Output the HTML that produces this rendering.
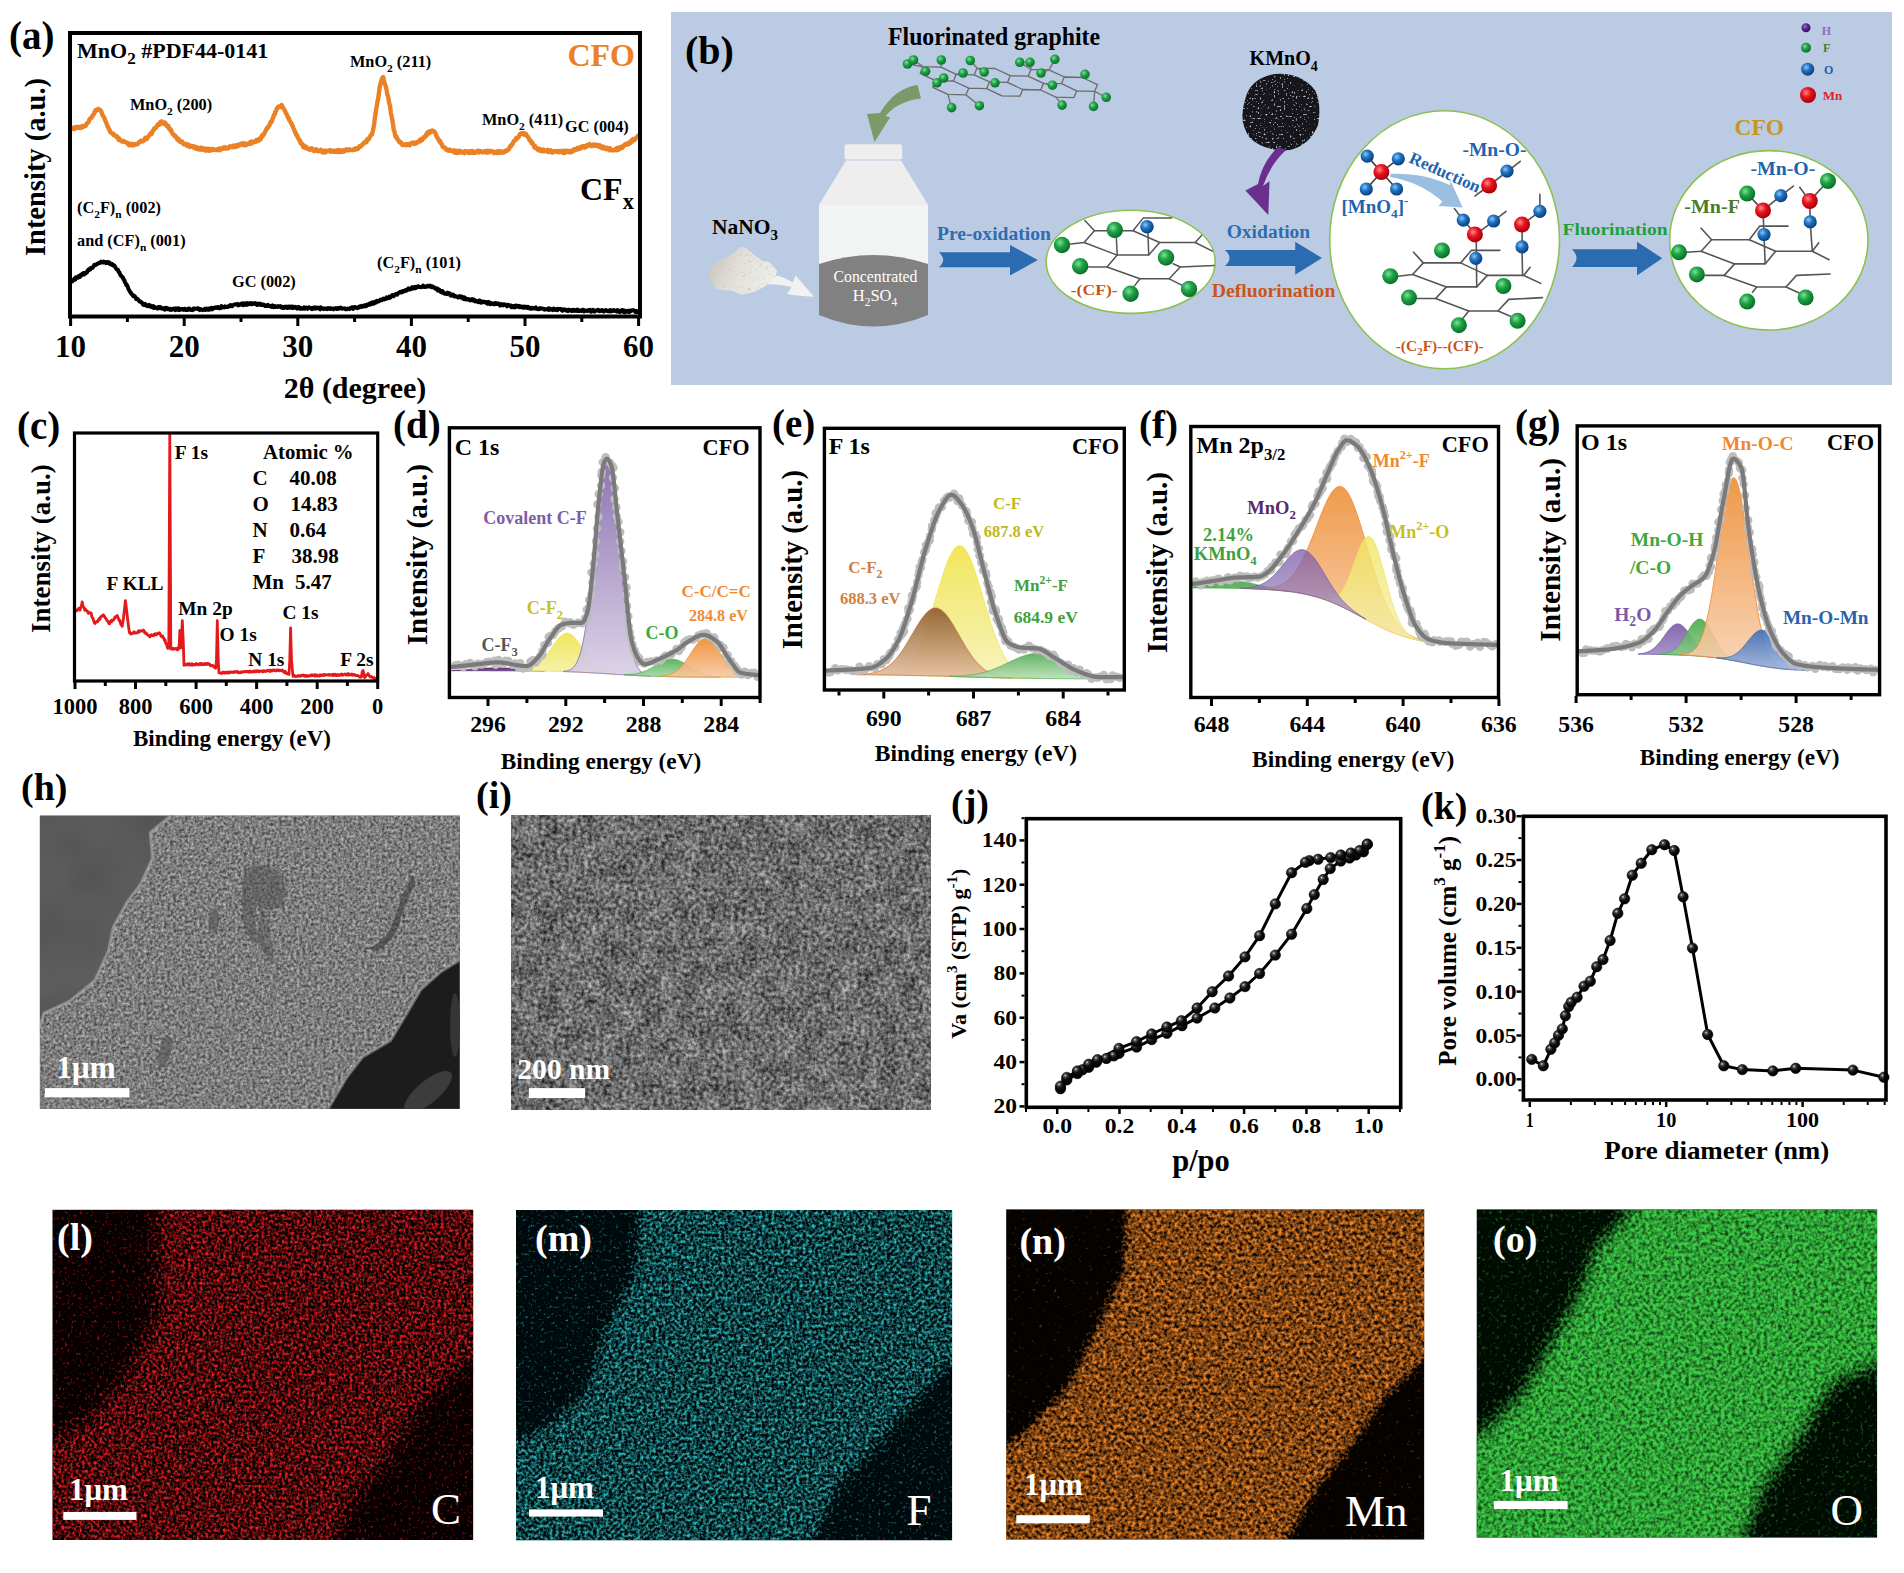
<!DOCTYPE html>
<html><head><meta charset="utf-8"><title>figure</title>
<style>html,body{margin:0;padding:0;background:#fff;width:1904px;height:1573px;overflow:hidden;font-family:"Liberation Serif",serif}svg{display:block}</style>
</head><body><svg width="1904" height="1573" viewBox="0 0 1904 1573"><path d="M71.0,128.6 L71.7,128.9 L72.4,127.8 L73.1,128.3 L73.8,129.1 L74.5,129.1 L75.2,127.2 L75.9,127.3 L76.6,126.9 L77.3,127.7 L78.0,126.7 L78.7,127.6 L79.4,128.0 L80.1,127.0 L80.8,127.9 L81.5,127.5 L82.2,126.1 L82.9,127.2 L83.6,126.3 L84.3,126.3 L85.0,125.5 L85.7,125.8 L86.4,124.4 L87.1,122.9 L87.8,122.8 L88.5,122.3 L89.2,120.1 L89.9,118.7 L90.6,118.0 L91.3,118.1 L92.0,117.1 L92.7,115.3 L93.4,114.8 L94.1,113.6 L94.8,111.6 L95.5,110.2 L96.2,110.9 L96.9,110.1 L97.6,109.3 L98.3,108.8 L99.0,109.4 L99.7,109.9 L100.4,110.2 L101.1,111.2 L101.8,112.8 L102.5,115.2 L103.2,116.1 L103.9,117.0 L104.6,118.7 L105.3,120.9 L106.0,122.1 L106.7,123.8 L107.4,126.2 L108.1,126.7 L108.8,129.0 L109.5,129.9 L110.2,131.7 L110.9,132.5 L111.6,133.0 L112.3,133.7 L113.0,133.5 L113.7,134.9 L114.4,134.7 L115.1,135.9 L115.8,135.9 L116.5,136.8 L117.2,136.5 L117.9,137.5 L118.6,139.8 L119.3,138.5 L120.0,140.2 L120.7,140.5 L121.4,141.2 L122.1,141.1 L122.8,141.8 L123.5,140.9 L124.2,141.3 L124.9,142.0 L125.6,142.2 L126.3,142.3 L127.0,142.7 L127.7,143.9 L128.4,143.3 L129.1,145.3 L129.8,144.7 L130.5,144.5 L131.2,145.0 L131.9,143.9 L132.6,145.5 L133.3,145.2 L134.0,144.9 L134.7,144.1 L135.4,144.8 L136.1,144.3 L136.8,143.9 L137.5,144.2 L138.2,143.2 L138.9,142.3 L139.6,142.3 L140.3,141.1 L141.0,140.7 L141.7,141.6 L142.4,141.3 L143.1,141.3 L143.8,140.6 L144.5,139.4 L145.2,137.9 L145.9,138.4 L146.6,139.0 L147.3,138.2 L148.0,136.9 L148.7,136.2 L149.4,135.0 L150.1,134.1 L150.8,133.0 L151.5,134.1 L152.2,132.6 L152.9,130.4 L153.6,130.1 L154.3,128.3 L155.0,127.8 L155.7,128.1 L156.4,127.0 L157.1,125.8 L157.8,124.5 L158.5,124.8 L159.2,124.9 L159.9,123.1 L160.6,121.8 L161.3,121.5 L162.0,121.4 L162.7,123.5 L163.4,122.7 L164.1,123.7 L164.8,122.5 L165.5,123.2 L166.2,124.9 L166.9,126.1 L167.6,125.6 L168.3,125.8 L169.0,128.7 L169.7,128.3 L170.4,130.4 L171.1,130.0 L171.8,132.3 L172.5,133.7 L173.2,134.4 L173.9,134.5 L174.6,136.3 L175.3,135.8 L176.0,137.0 L176.7,138.0 L177.4,139.7 L178.1,138.5 L178.8,140.7 L179.5,141.0 L180.2,142.0 L180.9,141.0 L181.6,141.1 L182.3,141.7 L183.0,143.5 L183.7,144.3 L184.4,144.1 L185.1,143.9 L185.8,143.9 L186.5,145.5 L187.2,145.9 L187.9,144.4 L188.6,144.9 L189.3,146.6 L190.0,146.9 L190.7,145.8 L191.4,145.9 L192.1,146.5 L192.8,146.9 L193.5,146.0 L194.2,148.0 L194.9,147.5 L195.6,148.2 L196.3,147.1 L197.0,149.0 L197.7,148.7 L198.4,147.8 L199.1,149.5 L199.8,149.0 L200.5,149.5 L201.2,147.7 L201.9,147.9 L202.6,149.6 L203.3,148.7 L204.0,149.3 L204.7,148.6 L205.4,150.6 L206.1,149.6 L206.8,150.5 L207.5,148.7 L208.2,149.7 L208.9,148.8 L209.6,150.8 L210.3,149.8 L211.0,148.9 L211.7,149.0 L212.4,150.1 L213.1,149.0 L213.8,149.2 L214.5,149.8 L215.2,149.9 L215.9,150.1 L216.6,150.1 L217.3,149.4 L218.0,149.9 L218.7,148.7 L219.4,148.9 L220.1,150.1 L220.8,148.4 L221.5,148.4 L222.2,148.4 L222.9,148.8 L223.6,147.5 L224.3,147.4 L225.0,148.3 L225.7,147.4 L226.4,148.5 L227.1,148.6 L227.8,148.0 L228.5,148.1 L229.2,147.2 L229.9,146.2 L230.6,147.0 L231.3,146.6 L232.0,147.0 L232.7,145.7 L233.4,145.8 L234.1,147.1 L234.8,145.6 L235.5,145.8 L236.2,146.9 L236.9,145.2 L237.6,144.7 L238.3,145.9 L239.0,145.5 L239.7,145.4 L240.4,144.0 L241.1,144.7 L241.8,143.6 L242.5,144.1 L243.2,145.0 L243.9,143.3 L244.6,143.8 L245.3,145.3 L246.0,145.1 L246.7,143.8 L247.4,144.2 L248.1,143.8 L248.8,143.3 L249.5,144.0 L250.2,142.2 L250.9,143.6 L251.6,141.5 L252.3,143.2 L253.0,142.6 L253.7,141.8 L254.4,142.1 L255.1,141.3 L255.8,141.8 L256.5,139.9 L257.2,140.6 L257.9,141.1 L258.6,140.9 L259.3,138.8 L260.0,138.3 L260.7,139.2 L261.4,137.0 L262.1,135.4 L262.8,136.0 L263.5,134.3 L264.2,133.9 L264.9,132.1 L265.6,131.0 L266.3,129.6 L267.0,128.0 L267.7,128.2 L268.4,126.5 L269.1,125.5 L269.8,124.6 L270.5,122.0 L271.2,122.4 L271.9,121.0 L272.6,118.7 L273.3,117.3 L274.0,114.6 L274.7,114.6 L275.4,111.7 L276.1,111.1 L276.8,108.7 L277.5,107.4 L278.2,107.6 L278.9,106.5 L279.6,106.4 L280.3,106.4 L281.0,106.9 L281.7,105.1 L282.4,107.0 L283.1,107.7 L283.8,108.9 L284.5,109.9 L285.2,111.3 L285.9,113.4 L286.6,114.0 L287.3,115.8 L288.0,117.8 L288.7,117.9 L289.4,120.3 L290.1,121.1 L290.8,122.6 L291.5,123.6 L292.2,125.3 L292.9,126.6 L293.6,128.6 L294.3,130.1 L295.0,132.1 L295.7,132.7 L296.4,135.1 L297.1,135.3 L297.8,137.6 L298.5,138.5 L299.2,140.0 L299.9,140.4 L300.6,143.2 L301.3,143.9 L302.0,143.5 L302.7,145.3 L303.4,147.2 L304.1,145.6 L304.8,146.7 L305.5,148.1 L306.2,146.7 L306.9,148.6 L307.6,148.4 L308.3,149.0 L309.0,148.8 L309.7,149.9 L310.4,148.7 L311.1,149.4 L311.8,148.4 L312.5,149.7 L313.2,149.6 L313.9,151.1 L314.6,151.1 L315.3,149.4 L316.0,149.3 L316.7,149.6 L317.4,149.9 L318.1,151.3 L318.8,150.9 L319.5,151.0 L320.2,150.9 L320.9,149.9 L321.6,150.9 L322.3,152.4 L323.0,152.0 L323.7,151.5 L324.4,150.6 L325.1,152.4 L325.8,151.2 L326.5,151.7 L327.2,150.7 L327.9,151.0 L328.6,151.0 L329.3,151.1 L330.0,150.2 L330.7,151.7 L331.4,150.5 L332.1,151.6 L332.8,151.6 L333.5,151.7 L334.2,150.7 L334.9,150.7 L335.6,151.8 L336.3,150.9 L337.0,150.3 L337.7,152.0 L338.4,149.9 L339.1,151.9 L339.8,150.4 L340.5,150.6 L341.2,152.0 L341.9,150.6 L342.6,151.2 L343.3,150.4 L344.0,151.6 L344.7,151.1 L345.4,150.4 L346.1,149.4 L346.8,150.0 L347.5,150.2 L348.2,149.7 L348.9,150.2 L349.6,149.3 L350.3,149.9 L351.0,149.9 L351.7,150.1 L352.4,150.2 L353.1,150.0 L353.8,149.1 L354.5,148.9 L355.2,149.7 L355.9,148.2 L356.6,148.8 L357.3,149.2 L358.0,148.7 L358.7,147.4 L359.4,146.4 L360.1,146.8 L360.8,146.5 L361.5,145.6 L362.2,144.7 L362.9,144.4 L363.6,143.0 L364.3,142.9 L365.0,141.9 L365.7,142.4 L366.4,142.4 L367.1,139.8 L367.8,138.7 L368.5,139.6 L369.2,137.8 L369.9,137.2 L370.6,135.2 L371.3,134.5 L372.0,134.4 L372.7,131.5 L373.4,128.5 L374.1,124.4 L374.8,118.3 L375.5,114.2 L376.2,109.3 L376.9,105.5 L377.6,101.1 L378.3,98.0 L379.0,92.5 L379.7,86.9 L380.4,84.2 L381.1,81.7 L381.8,79.3 L382.5,77.7 L383.2,77.0 L383.9,80.3 L384.6,82.8 L385.3,85.1 L386.0,87.5 L386.7,90.7 L387.4,94.9 L388.1,96.5 L388.8,101.2 L389.5,104.1 L390.2,107.0 L390.9,113.1 L391.6,116.3 L392.3,119.9 L393.0,124.2 L393.7,129.6 L394.4,131.2 L395.1,135.2 L395.8,137.1 L396.5,136.5 L397.2,138.3 L397.9,140.2 L398.6,140.4 L399.3,142.1 L400.0,141.7 L400.7,143.0 L401.4,142.7 L402.1,144.7 L402.8,145.1 L403.5,144.8 L404.2,144.5 L404.9,144.6 L405.6,145.2 L406.3,144.1 L407.0,144.9 L407.7,144.3 L408.4,144.3 L409.1,144.2 L409.8,145.3 L410.5,143.5 L411.2,143.5 L411.9,143.1 L412.6,142.5 L413.3,143.3 L414.0,144.0 L414.7,143.9 L415.4,142.7 L416.1,142.3 L416.8,143.1 L417.5,142.0 L418.2,141.7 L418.9,141.7 L419.6,140.0 L420.3,141.4 L421.0,139.1 L421.7,139.6 L422.4,139.9 L423.1,138.3 L423.8,137.1 L424.5,137.3 L425.2,136.9 L425.9,135.5 L426.6,133.5 L427.3,134.8 L428.0,132.1 L428.7,133.1 L429.4,133.1 L430.1,131.0 L430.8,131.6 L431.5,131.8 L432.2,130.5 L432.9,130.9 L433.6,130.9 L434.3,131.7 L435.0,132.4 L435.7,133.8 L436.4,136.0 L437.1,137.0 L437.8,138.4 L438.5,139.4 L439.2,141.1 L439.9,140.8 L440.6,143.0 L441.3,142.9 L442.0,145.1 L442.7,147.0 L443.4,146.9 L444.1,147.1 L444.8,147.6 L445.5,148.2 L446.2,149.7 L446.9,150.1 L447.6,149.8 L448.3,150.7 L449.0,150.4 L449.7,149.5 L450.4,150.1 L451.1,151.0 L451.8,151.2 L452.5,151.3 L453.2,151.0 L453.9,150.4 L454.6,152.5 L455.3,150.8 L456.0,152.8 L456.7,150.8 L457.4,153.0 L458.1,151.6 L458.8,152.7 L459.5,150.8 L460.2,151.9 L460.9,151.4 L461.6,152.5 L462.3,152.4 L463.0,151.9 L463.7,152.5 L464.4,153.1 L465.1,151.0 L465.8,152.2 L466.5,152.4 L467.2,152.3 L467.9,151.4 L468.6,152.9 L469.3,151.4 L470.0,152.8 L470.7,151.9 L471.4,151.1 L472.1,152.8 L472.8,151.0 L473.5,152.7 L474.2,152.2 L474.9,152.9 L475.6,152.7 L476.3,151.8 L477.0,151.1 L477.7,151.4 L478.4,150.8 L479.1,152.4 L479.8,151.0 L480.5,151.2 L481.2,151.4 L481.9,151.8 L482.6,152.4 L483.3,151.9 L484.0,152.0 L484.7,151.0 L485.4,151.6 L486.1,151.3 L486.8,152.6 L487.5,150.8 L488.2,152.3 L488.9,152.5 L489.6,152.0 L490.3,150.9 L491.0,151.4 L491.7,151.4 L492.4,151.4 L493.1,151.4 L493.8,153.1 L494.5,152.7 L495.2,152.9 L495.9,152.5 L496.6,151.6 L497.3,153.1 L498.0,152.0 L498.7,151.2 L499.4,152.6 L500.1,151.4 L500.8,152.8 L501.5,152.6 L502.2,151.5 L502.9,151.9 L503.6,152.5 L504.3,152.3 L505.0,151.7 L505.7,150.6 L506.4,150.5 L507.1,150.8 L507.8,149.6 L508.5,149.5 L509.2,148.7 L509.9,147.0 L510.6,145.6 L511.3,146.0 L512.0,144.3 L512.7,143.9 L513.4,141.8 L514.1,140.9 L514.8,140.6 L515.5,140.3 L516.2,138.0 L516.9,138.7 L517.6,138.1 L518.3,136.9 L519.0,136.4 L519.7,134.6 L520.4,133.7 L521.1,133.8 L521.8,133.0 L522.5,133.5 L523.2,134.2 L523.9,133.1 L524.6,134.8 L525.3,134.2 L526.0,134.0 L526.7,135.9 L527.4,136.2 L528.1,136.8 L528.8,138.2 L529.5,140.3 L530.2,140.8 L530.9,140.7 L531.6,143.3 L532.3,142.6 L533.0,144.2 L533.7,145.1 L534.4,147.5 L535.1,146.0 L535.8,148.3 L536.5,148.6 L537.2,148.3 L537.9,149.8 L538.6,150.4 L539.3,150.5 L540.0,148.9 L540.7,150.8 L541.4,149.8 L542.1,151.1 L542.8,150.5 L543.5,149.5 L544.2,151.2 L544.9,150.8 L545.6,150.6 L546.3,151.2 L547.0,150.8 L547.7,149.9 L548.4,152.1 L549.1,150.7 L549.8,150.7 L550.5,150.2 L551.2,151.9 L551.9,152.4 L552.6,151.4 L553.3,152.3 L554.0,151.2 L554.7,151.4 L555.4,151.2 L556.1,151.3 L556.8,151.9 L557.5,151.4 L558.2,150.8 L558.9,152.3 L559.6,151.5 L560.3,151.7 L561.0,151.2 L561.7,150.9 L562.4,152.4 L563.1,151.8 L563.8,153.0 L564.5,150.8 L565.2,152.8 L565.9,150.8 L566.6,151.1 L567.3,150.7 L568.0,151.8 L568.7,151.3 L569.4,151.0 L570.1,152.4 L570.8,151.3 L571.5,152.0 L572.2,151.7 L572.9,150.1 L573.6,150.7 L574.3,149.3 L575.0,149.5 L575.7,150.0 L576.4,149.5 L577.1,148.1 L577.8,147.8 L578.5,149.2 L579.2,148.8 L579.9,148.4 L580.6,147.1 L581.3,148.2 L582.0,147.5 L582.7,146.2 L583.4,146.0 L584.1,146.9 L584.8,147.5 L585.5,146.4 L586.2,145.5 L586.9,146.3 L587.6,144.9 L588.3,145.8 L589.0,145.2 L589.7,144.1 L590.4,145.2 L591.1,145.2 L591.8,146.1 L592.5,145.6 L593.2,144.7 L593.9,145.5 L594.6,144.6 L595.3,145.7 L596.0,145.7 L596.7,145.9 L597.4,144.9 L598.1,146.4 L598.8,146.2 L599.5,146.9 L600.2,145.4 L600.9,147.3 L601.6,148.0 L602.3,147.4 L603.0,146.5 L603.7,148.6 L604.4,148.0 L605.1,147.5 L605.8,148.6 L606.5,149.3 L607.2,147.7 L607.9,149.0 L608.6,149.3 L609.3,150.2 L610.0,148.2 L610.7,149.5 L611.4,150.1 L612.1,150.0 L612.8,150.5 L613.5,150.1 L614.2,150.0 L614.9,149.9 L615.6,148.8 L616.3,150.3 L617.0,149.3 L617.7,147.9 L618.4,149.6 L619.1,149.1 L619.8,148.7 L620.5,146.9 L621.2,148.2 L621.9,146.9 L622.6,147.7 L623.3,145.7 L624.0,145.7 L624.7,144.7 L625.4,144.1 L626.1,144.4 L626.8,144.8 L627.5,143.7 L628.2,142.9 L628.9,143.9 L629.6,142.9 L630.3,143.0 L631.0,140.9 L631.7,140.2 L632.4,141.5 L633.1,138.9 L633.8,140.1 L634.5,140.1 L635.2,139.1 L635.9,138.3 L636.6,137.3 L637.3,136.8 L638.0,135.8 L638.7,136.2" stroke="#EA8125" stroke-width="4.4" fill="none" stroke-linejoin="round" stroke-linecap="round" /><path d="M71.0,281.9 L71.7,280.7 L72.4,281.2 L73.1,280.3 L73.8,279.8 L74.5,278.5 L75.2,279.6 L75.9,277.3 L76.6,277.4 L77.3,277.4 L78.0,277.7 L78.7,276.1 L79.4,277.1 L80.1,276.9 L80.8,274.9 L81.5,275.4 L82.2,273.8 L82.9,274.1 L83.6,273.0 L84.3,274.4 L85.0,272.9 L85.7,273.5 L86.4,272.6 L87.1,272.2 L87.8,270.3 L88.5,269.5 L89.2,270.0 L89.9,268.6 L90.6,269.1 L91.3,267.9 L92.0,267.6 L92.7,267.8 L93.4,266.5 L94.1,265.1 L94.8,264.7 L95.5,265.0 L96.2,264.5 L96.9,264.3 L97.6,263.4 L98.3,263.5 L99.0,262.7 L99.7,262.9 L100.4,262.9 L101.1,261.6 L101.8,261.8 L102.5,262.0 L103.2,262.4 L103.9,261.5 L104.6,262.2 L105.3,262.4 L106.0,263.1 L106.7,262.2 L107.4,262.9 L108.1,262.2 L108.8,263.0 L109.5,262.6 L110.2,264.3 L110.9,263.6 L111.6,264.7 L112.3,264.2 L113.0,265.5 L113.7,265.1 L114.4,265.6 L115.1,266.8 L115.8,268.2 L116.5,269.2 L117.2,269.7 L117.9,269.7 L118.6,271.8 L119.3,272.2 L120.0,274.2 L120.7,275.6 L121.4,275.9 L122.1,277.1 L122.8,277.2 L123.5,279.4 L124.2,279.9 L124.9,282.2 L125.6,283.0 L126.3,285.2 L127.0,285.1 L127.7,286.6 L128.4,289.0 L129.1,289.9 L129.8,291.2 L130.5,292.8 L131.2,293.0 L131.9,294.5 L132.6,294.7 L133.3,296.2 L134.0,296.4 L134.7,296.1 L135.4,297.2 L136.1,298.9 L136.8,298.5 L137.5,298.8 L138.2,300.0 L138.9,300.5 L139.6,301.5 L140.3,301.7 L141.0,301.8 L141.7,302.6 L142.4,303.1 L143.1,304.5 L143.8,305.0 L144.5,304.7 L145.2,303.9 L145.9,305.5 L146.6,305.6 L147.3,306.1 L148.0,305.3 L148.7,304.9 L149.4,306.2 L150.1,305.3 L150.8,306.8 L151.5,307.0 L152.2,306.4 L152.9,307.6 L153.6,306.2 L154.3,307.9 L155.0,307.1 L155.7,307.8 L156.4,307.9 L157.1,308.5 L157.8,308.6 L158.5,306.9 L159.2,306.9 L159.9,308.1 L160.6,307.2 L161.3,308.5 L162.0,308.4 L162.7,308.7 L163.4,308.4 L164.1,308.1 L164.8,309.6 L165.5,309.2 L166.2,307.8 L166.9,308.1 L167.6,309.2 L168.3,308.5 L169.0,308.8 L169.7,309.6 L170.4,308.8 L171.1,310.0 L171.8,309.6 L172.5,309.3 L173.2,308.6 L173.9,309.0 L174.6,309.7 L175.3,310.2 L176.0,308.3 L176.7,308.5 L177.4,309.7 L178.1,309.9 L178.8,308.4 L179.5,309.9 L180.2,309.8 L180.9,309.6 L181.6,308.9 L182.3,309.1 L183.0,308.9 L183.7,309.9 L184.4,308.9 L185.1,308.8 L185.8,310.1 L186.5,310.0 L187.2,310.1 L187.9,309.8 L188.6,308.4 L189.3,308.4 L190.0,309.3 L190.7,309.9 L191.4,310.0 L192.1,309.5 L192.8,310.1 L193.5,308.5 L194.2,308.6 L194.9,308.9 L195.6,308.7 L196.3,308.8 L197.0,308.4 L197.7,309.0 L198.4,308.3 L199.1,309.3 L199.8,310.1 L200.5,309.1 L201.2,309.4 L201.9,309.4 L202.6,310.1 L203.3,309.7 L204.0,309.8 L204.7,308.9 L205.4,310.0 L206.1,308.6 L206.8,309.0 L207.5,309.6 L208.2,308.7 L208.9,309.8 L209.6,309.7 L210.3,308.2 L211.0,308.2 L211.7,307.8 L212.4,309.3 L213.1,308.2 L213.8,308.2 L214.5,307.8 L215.2,307.4 L215.9,307.9 L216.6,307.4 L217.3,307.9 L218.0,307.0 L218.7,307.5 L219.4,308.3 L220.1,307.0 L220.8,308.0 L221.5,306.1 L222.2,307.0 L222.9,306.9 L223.6,307.5 L224.3,307.4 L225.0,306.4 L225.7,306.8 L226.4,307.1 L227.1,306.6 L227.8,306.9 L228.5,306.8 L229.2,305.8 L229.9,306.1 L230.6,305.1 L231.3,305.5 L232.0,306.3 L232.7,305.6 L233.4,304.9 L234.1,304.5 L234.8,304.6 L235.5,304.3 L236.2,304.5 L236.9,304.7 L237.6,303.9 L238.3,305.4 L239.0,304.5 L239.7,304.7 L240.4,304.8 L241.1,303.7 L241.8,303.6 L242.5,303.6 L243.2,305.2 L243.9,303.4 L244.6,304.0 L245.3,304.8 L246.0,304.2 L246.7,303.0 L247.4,304.8 L248.1,303.7 L248.8,303.3 L249.5,303.6 L250.2,304.1 L250.9,303.0 L251.6,304.2 L252.3,304.1 L253.0,303.4 L253.7,303.8 L254.4,303.4 L255.1,303.1 L255.8,304.3 L256.5,304.0 L257.2,304.9 L257.9,303.7 L258.6,304.2 L259.3,304.7 L260.0,303.6 L260.7,304.3 L261.4,305.0 L262.1,304.2 L262.8,304.6 L263.5,305.1 L264.2,304.8 L264.9,305.9 L265.6,305.9 L266.3,306.0 L267.0,305.3 L267.7,304.9 L268.4,305.9 L269.1,305.6 L269.8,305.8 L270.5,306.2 L271.2,306.9 L271.9,306.7 L272.6,305.4 L273.3,307.1 L274.0,306.7 L274.7,306.1 L275.4,307.0 L276.1,306.6 L276.8,306.8 L277.5,306.9 L278.2,306.1 L278.9,306.6 L279.6,306.8 L280.3,306.1 L281.0,307.4 L281.7,306.7 L282.4,307.0 L283.1,308.0 L283.8,307.9 L284.5,306.7 L285.2,307.0 L285.9,307.4 L286.6,306.5 L287.3,307.9 L288.0,307.0 L288.7,306.6 L289.4,307.8 L290.1,307.5 L290.8,306.5 L291.5,307.6 L292.2,308.0 L292.9,306.6 L293.6,307.9 L294.3,307.1 L295.0,307.5 L295.7,306.8 L296.4,307.8 L297.1,308.6 L297.8,307.4 L298.5,306.9 L299.2,308.5 L299.9,308.7 L300.6,307.8 L301.3,308.7 L302.0,308.7 L302.7,308.4 L303.4,308.6 L304.1,307.3 L304.8,308.7 L305.5,307.9 L306.2,307.6 L306.9,308.2 L307.6,308.8 L308.3,308.0 L309.0,307.3 L309.7,307.7 L310.4,307.7 L311.1,308.6 L311.8,309.1 L312.5,308.3 L313.2,307.7 L313.9,308.7 L314.6,307.6 L315.3,307.4 L316.0,308.6 L316.7,308.1 L317.4,308.2 L318.1,307.5 L318.8,308.3 L319.5,308.6 L320.2,309.3 L320.9,307.4 L321.6,308.4 L322.3,308.4 L323.0,308.6 L323.7,309.1 L324.4,308.4 L325.1,308.5 L325.8,308.4 L326.5,309.0 L327.2,309.2 L327.9,308.0 L328.6,308.8 L329.3,308.7 L330.0,308.1 L330.7,309.0 L331.4,308.8 L332.1,308.4 L332.8,308.5 L333.5,309.3 L334.2,308.7 L334.9,308.6 L335.6,308.1 L336.3,308.9 L337.0,309.1 L337.7,308.0 L338.4,308.0 L339.1,308.7 L339.8,307.9 L340.5,307.5 L341.2,307.9 L341.9,308.7 L342.6,308.3 L343.3,308.5 L344.0,308.5 L344.7,308.3 L345.4,309.2 L346.1,308.9 L346.8,309.2 L347.5,308.6 L348.2,308.8 L348.9,308.7 L349.6,309.1 L350.3,307.9 L351.0,307.8 L351.7,307.2 L352.4,307.2 L353.1,309.0 L353.8,307.9 L354.5,307.1 L355.2,307.0 L355.9,307.7 L356.6,307.9 L357.3,308.2 L358.0,307.5 L358.7,306.9 L359.4,307.5 L360.1,306.3 L360.8,306.4 L361.5,305.8 L362.2,306.8 L362.9,306.3 L363.6,305.9 L364.3,305.3 L365.0,306.4 L365.7,305.3 L366.4,306.1 L367.1,304.6 L367.8,305.1 L368.5,305.1 L369.2,303.7 L369.9,303.5 L370.6,304.4 L371.3,302.8 L372.0,303.4 L372.7,302.3 L373.4,303.8 L374.1,303.3 L374.8,301.9 L375.5,302.8 L376.2,302.4 L376.9,300.8 L377.6,300.9 L378.3,301.4 L379.0,301.3 L379.7,300.3 L380.4,299.6 L381.1,300.0 L381.8,300.3 L382.5,299.6 L383.2,298.7 L383.9,298.6 L384.6,299.3 L385.3,298.5 L386.0,298.8 L386.7,297.4 L387.4,298.2 L388.1,298.2 L388.8,298.1 L389.5,296.7 L390.2,297.6 L390.9,296.7 L391.6,295.9 L392.3,295.0 L393.0,296.0 L393.7,296.3 L394.4,295.2 L395.1,294.3 L395.8,294.1 L396.5,294.1 L397.2,294.7 L397.9,293.3 L398.6,292.9 L399.3,292.8 L400.0,291.9 L400.7,291.7 L401.4,292.4 L402.1,292.3 L402.8,290.9 L403.5,290.9 L404.2,291.4 L404.9,290.7 L405.6,290.0 L406.3,290.7 L407.0,290.3 L407.7,289.2 L408.4,288.4 L409.1,289.5 L409.8,289.5 L410.5,288.8 L411.2,288.9 L411.9,287.2 L412.6,288.3 L413.3,288.5 L414.0,287.3 L414.7,286.9 L415.4,288.2 L416.1,287.9 L416.8,286.9 L417.5,287.2 L418.2,286.3 L418.9,286.4 L419.6,287.0 L420.3,287.1 L421.0,287.2 L421.7,286.7 L422.4,286.9 L423.1,285.6 L423.8,286.6 L424.5,287.0 L425.2,286.9 L425.9,286.6 L426.6,286.8 L427.3,285.9 L428.0,285.7 L428.7,286.4 L429.4,286.5 L430.1,285.6 L430.8,286.2 L431.5,287.1 L432.2,286.3 L432.9,286.6 L433.6,287.5 L434.3,287.3 L435.0,288.2 L435.7,289.0 L436.4,289.0 L437.1,288.4 L437.8,290.6 L438.5,289.6 L439.2,289.5 L439.9,290.7 L440.6,291.8 L441.3,292.3 L442.0,291.0 L442.7,291.2 L443.4,293.0 L444.1,293.3 L444.8,293.7 L445.5,293.6 L446.2,293.9 L446.9,294.1 L447.6,292.7 L448.3,293.2 L449.0,293.2 L449.7,293.3 L450.4,295.4 L451.1,295.7 L451.8,295.0 L452.5,294.4 L453.2,294.5 L453.9,296.3 L454.6,296.5 L455.3,296.0 L456.0,296.5 L456.7,296.4 L457.4,296.8 L458.1,297.5 L458.8,296.6 L459.5,296.1 L460.2,296.3 L460.9,297.6 L461.6,296.6 L462.3,296.9 L463.0,298.6 L463.7,298.9 L464.4,297.4 L465.1,297.8 L465.8,299.5 L466.5,299.5 L467.2,299.1 L467.9,298.9 L468.6,299.7 L469.3,299.3 L470.0,300.4 L470.7,300.2 L471.4,300.1 L472.1,299.2 L472.8,300.5 L473.5,299.5 L474.2,299.7 L474.9,301.3 L475.6,300.8 L476.3,300.9 L477.0,301.3 L477.7,301.8 L478.4,302.1 L479.1,300.5 L479.8,300.6 L480.5,300.8 L481.2,302.7 L481.9,301.9 L482.6,301.8 L483.3,302.3 L484.0,301.5 L484.7,302.1 L485.4,302.1 L486.1,302.9 L486.8,302.0 L487.5,303.8 L488.2,302.0 L488.9,302.2 L489.6,302.5 L490.3,304.2 L491.0,302.9 L491.7,303.8 L492.4,303.9 L493.1,303.4 L493.8,303.4 L494.5,304.4 L495.2,303.1 L495.9,303.1 L496.6,304.0 L497.3,303.9 L498.0,303.5 L498.7,303.6 L499.4,304.6 L500.1,305.6 L500.8,305.2 L501.5,304.2 L502.2,304.7 L502.9,305.4 L503.6,304.3 L504.3,304.6 L505.0,304.4 L505.7,305.3 L506.4,305.6 L507.1,306.3 L507.8,304.7 L508.5,305.0 L509.2,305.4 L509.9,305.7 L510.6,305.6 L511.3,307.1 L512.0,305.9 L512.7,307.0 L513.4,307.3 L514.1,306.0 L514.8,305.8 L515.5,307.3 L516.2,305.6 L516.9,305.9 L517.6,306.2 L518.3,305.9 L519.0,307.2 L519.7,306.0 L520.4,306.6 L521.1,307.2 L521.8,307.5 L522.5,306.5 L523.2,307.4 L523.9,307.8 L524.6,306.5 L525.3,307.4 L526.0,307.3 L526.7,306.8 L527.4,307.9 L528.1,306.9 L528.8,308.2 L529.5,307.9 L530.2,308.6 L530.9,307.9 L531.6,308.7 L532.3,307.8 L533.0,308.1 L533.7,308.4 L534.4,308.6 L535.1,307.9 L535.8,307.4 L536.5,308.8 L537.2,308.9 L537.9,309.2 L538.6,308.7 L539.3,309.2 L540.0,308.0 L540.7,308.3 L541.4,308.5 L542.1,308.4 L542.8,308.4 L543.5,309.1 L544.2,309.6 L544.9,309.0 L545.6,309.4 L546.3,309.2 L547.0,309.5 L547.7,309.3 L548.4,308.4 L549.1,309.9 L549.8,308.6 L550.5,308.8 L551.2,309.4 L551.9,309.7 L552.6,310.2 L553.3,308.7 L554.0,308.6 L554.7,309.7 L555.4,309.7 L556.1,310.0 L556.8,309.0 L557.5,310.2 L558.2,308.8 L558.9,309.0 L559.6,309.1 L560.3,309.0 L561.0,308.9 L561.7,310.2 L562.4,310.8 L563.1,309.8 L563.8,309.3 L564.5,309.6 L565.2,309.5 L565.9,310.5 L566.6,310.3 L567.3,310.3 L568.0,311.1 L568.7,309.7 L569.4,310.4 L570.1,310.0 L570.8,310.7 L571.5,310.0 L572.2,310.9 L572.9,309.9 L573.6,310.7 L574.3,309.8 L575.0,310.9 L575.7,310.4 L576.4,309.9 L577.1,310.9 L577.8,309.7 L578.5,310.9 L579.2,311.0 L579.9,310.6 L580.6,310.6 L581.3,311.0 L582.0,310.7 L582.7,309.7 L583.4,309.7 L584.1,311.5 L584.8,310.6 L585.5,310.9 L586.2,310.4 L586.9,310.4 L587.6,311.0 L588.3,310.3 L589.0,309.9 L589.7,310.4 L590.4,309.9 L591.1,311.7 L591.8,311.4 L592.5,311.0 L593.2,309.9 L593.9,310.6 L594.6,311.6 L595.3,311.0 L596.0,310.6 L596.7,310.5 L597.4,310.2 L598.1,309.8 L598.8,310.9 L599.5,311.2 L600.2,310.3 L600.9,311.0 L601.6,310.7 L602.3,310.1 L603.0,311.0 L603.7,311.6 L604.4,311.1 L605.1,310.7 L605.8,310.0 L606.5,310.4 L607.2,311.1 L607.9,311.3 L608.6,310.6 L609.3,310.4 L610.0,311.5 L610.7,310.2 L611.4,310.8 L612.1,311.2 L612.8,311.0 L613.5,310.1 L614.2,310.4 L614.9,310.4 L615.6,311.1 L616.3,310.5 L617.0,311.5 L617.7,310.2 L618.4,310.9 L619.1,311.8 L619.8,312.0 L620.5,310.7 L621.2,310.5 L621.9,310.1 L622.6,311.5 L623.3,310.3 L624.0,312.1 L624.7,310.7 L625.4,312.1 L626.1,311.6 L626.8,311.0 L627.5,310.8 L628.2,311.5 L628.9,312.0 L629.6,310.7 L630.3,311.5 L631.0,311.1 L631.7,310.3 L632.4,310.3 L633.1,310.3 L633.8,310.3 L634.5,310.9 L635.2,311.9 L635.9,312.2 L636.6,311.1 L637.3,311.8 L638.0,312.1 L638.7,310.8" stroke="#000" stroke-width="4.0" fill="none" stroke-linejoin="round" stroke-linecap="round" /><rect x="70" y="33" width="570" height="283.5" fill="none" stroke="#000" stroke-width="4"/><line x1="70.6" y1="318" x2="70.6" y2="326" stroke="#000" stroke-width="3"/><line x1="184.2" y1="318" x2="184.2" y2="326" stroke="#000" stroke-width="3"/><line x1="297.8" y1="318" x2="297.8" y2="326" stroke="#000" stroke-width="3"/><line x1="411.4" y1="318" x2="411.4" y2="326" stroke="#000" stroke-width="3"/><line x1="525.0" y1="318" x2="525.0" y2="326" stroke="#000" stroke-width="3"/><line x1="638.6" y1="318" x2="638.6" y2="326" stroke="#000" stroke-width="3"/><line x1="127.4" y1="318" x2="127.4" y2="322" stroke="#000" stroke-width="3"/><line x1="241.0" y1="318" x2="241.0" y2="322" stroke="#000" stroke-width="3"/><line x1="354.6" y1="318" x2="354.6" y2="322" stroke="#000" stroke-width="3"/><line x1="468.2" y1="318" x2="468.2" y2="322" stroke="#000" stroke-width="3"/><line x1="581.8" y1="318" x2="581.8" y2="322" stroke="#000" stroke-width="3"/><text x="70.6" y="357.0" font-family="'Liberation Serif', serif" font-size="31" font-weight="bold" fill="#000" text-anchor="middle" ><tspan>10</tspan></text><text x="184.2" y="357.0" font-family="'Liberation Serif', serif" font-size="31" font-weight="bold" fill="#000" text-anchor="middle" ><tspan>20</tspan></text><text x="297.8" y="357.0" font-family="'Liberation Serif', serif" font-size="31" font-weight="bold" fill="#000" text-anchor="middle" ><tspan>30</tspan></text><text x="411.4" y="357.0" font-family="'Liberation Serif', serif" font-size="31" font-weight="bold" fill="#000" text-anchor="middle" ><tspan>40</tspan></text><text x="525.0" y="357.0" font-family="'Liberation Serif', serif" font-size="31" font-weight="bold" fill="#000" text-anchor="middle" ><tspan>50</tspan></text><text x="638.6" y="357.0" font-family="'Liberation Serif', serif" font-size="31" font-weight="bold" fill="#000" text-anchor="middle" ><tspan>60</tspan></text><text x="355.0" y="398.0" font-family="'Liberation Serif', serif" font-size="30" font-weight="bold" fill="#000" text-anchor="middle" ><tspan>2θ (degree)</tspan></text><text x="45.0" y="167.0" font-family="'Liberation Serif', serif" font-size="28.5" font-weight="bold" fill="#000" text-anchor="middle" transform="rotate(-90 45 167)"><tspan>Intensity (a.u.)</tspan></text><text x="9.0" y="49.0" font-family="'Liberation Serif', serif" font-size="39" font-weight="bold" fill="#000" text-anchor="start" ><tspan>(a)</tspan></text><text x="77.0" y="57.5" font-family="'Liberation Serif', serif" font-size="22" font-weight="bold" fill="#000" text-anchor="start" ><tspan>MnO</tspan><tspan font-size="17.2" dy="6.60">2</tspan><tspan dy="-6.60"> #PDF44-0141</tspan></text><text x="635.0" y="66.0" font-family="'Liberation Serif', serif" font-size="32" font-weight="bold" fill="#EA8125" text-anchor="end" ><tspan>CFO</tspan></text><text x="130.0" y="110.0" font-family="'Liberation Serif', serif" font-size="16.3" font-weight="bold" fill="#000" text-anchor="start" ><tspan>MnO</tspan><tspan font-size="11.4" dy="4.56">2</tspan><tspan dy="-4.56"> (200)</tspan></text><text x="350.0" y="67.0" font-family="'Liberation Serif', serif" font-size="16.3" font-weight="bold" fill="#000" text-anchor="start" ><tspan>MnO</tspan><tspan font-size="11.4" dy="4.56">2</tspan><tspan dy="-4.56"> (211)</tspan></text><text x="482.0" y="125.0" font-family="'Liberation Serif', serif" font-size="16.3" font-weight="bold" fill="#000" text-anchor="start" ><tspan>MnO</tspan><tspan font-size="11.4" dy="4.56">2</tspan><tspan dy="-4.56"> (411)</tspan></text><text x="565.0" y="132.0" font-family="'Liberation Serif', serif" font-size="16.3" font-weight="bold" fill="#000" text-anchor="start" ><tspan>GC (004)</tspan></text><text x="580.0" y="200.0" font-family="'Liberation Serif', serif" font-size="32" font-weight="bold" fill="#000" text-anchor="start" ><tspan>CF</tspan><tspan font-size="22.4" dy="8.96">x</tspan></text><text x="77.0" y="213.0" font-family="'Liberation Serif', serif" font-size="16.3" font-weight="bold" fill="#000" text-anchor="start" ><tspan>(C</tspan><tspan font-size="11.4" dy="4.56">2</tspan><tspan dy="-4.56">F)</tspan><tspan font-size="11.4" dy="4.56">n</tspan><tspan dy="-4.56"> (002)</tspan></text><text x="77.0" y="246.0" font-family="'Liberation Serif', serif" font-size="16.3" font-weight="bold" fill="#000" text-anchor="start" ><tspan>and (CF)</tspan><tspan font-size="11.4" dy="4.56">n</tspan><tspan dy="-4.56"> (001)</tspan></text><text x="232.0" y="287.0" font-family="'Liberation Serif', serif" font-size="16.3" font-weight="bold" fill="#000" text-anchor="start" ><tspan>GC (002)</tspan></text><text x="377.0" y="268.0" font-family="'Liberation Serif', serif" font-size="16.3" font-weight="bold" fill="#000" text-anchor="start" ><tspan>(C</tspan><tspan font-size="11.4" dy="4.56">2</tspan><tspan dy="-4.56">F)</tspan><tspan font-size="11.4" dy="4.56">n</tspan><tspan dy="-4.56"> (101)</tspan></text><defs><radialGradient id="g_g" cx="0.38" cy="0.35" r="0.65"><stop offset="0" stop-color="#7fe09a"/><stop offset="0.45" stop-color="#1fa346"/><stop offset="1" stop-color="#0b6e2a"/></radialGradient><radialGradient id="g_b" cx="0.38" cy="0.35" r="0.65"><stop offset="0" stop-color="#8ec6f5"/><stop offset="0.45" stop-color="#1f72c0"/><stop offset="1" stop-color="#0a3f80"/></radialGradient><radialGradient id="g_r" cx="0.38" cy="0.35" r="0.65"><stop offset="0" stop-color="#ff8a8a"/><stop offset="0.45" stop-color="#e8141c"/><stop offset="1" stop-color="#a8000a"/></radialGradient><radialGradient id="g_p" cx="0.38" cy="0.35" r="0.65"><stop offset="0" stop-color="#a070d0"/><stop offset="0.45" stop-color="#5a2a90"/><stop offset="1" stop-color="#30105a"/></radialGradient><filter id="powder" x="-20%" y="-20%" width="140%" height="140%"><feTurbulence type="fractalNoise" baseFrequency="0.35" numOctaves="2" seed="3" result="n"/><feColorMatrix in="n" type="matrix" values="0 0 0 0 0.6  0 0 0 0 0.59  0 0 0 0 0.56  0 0 0 5 -3.1" result="spk"/><feComposite in="spk" in2="SourceGraphic" operator="in" result="s2"/><feMerge><feMergeNode in="SourceGraphic"/><feMergeNode in="s2"/></feMerge></filter><filter id="kmno4" x="-20%" y="-20%" width="140%" height="140%"><feTurbulence type="fractalNoise" baseFrequency="0.5" numOctaves="2" seed="7" result="n"/><feColorMatrix in="n" type="matrix" values="0 0 0 0 0.6  0 0 0 0 0.65  0 0 0 0 0.7  0 0 0 6 -3.9" result="spk"/><feComposite in="spk" in2="SourceGraphic" operator="in" result="s2"/><feMerge><feMergeNode in="SourceGraphic"/><feMergeNode in="s2"/></feMerge></filter></defs><rect x="671" y="12" width="1221" height="373" fill="#bccbe4"/><text x="685.0" y="64.0" font-family="'Liberation Serif', serif" font-size="40" font-weight="bold" fill="#000" text-anchor="start" ><tspan>(b)</tspan></text><text x="888.0" y="45.0" font-family="'Liberation Serif', serif" font-size="24.5" font-weight="bold" fill="#000" text-anchor="start" textLength="212" lengthAdjust="spacingAndGlyphs"><tspan>Fluorinated graphite</tspan></text><path d="M1040.7,90.0L1055.9,97.1M1040.7,90.0L1043.5,83.3M965.9,94.9L968.7,88.2M1022.7,89.5L1040.7,90.0M956.2,74.3L974.2,74.8M1007.5,82.4L1022.7,89.5M1064.2,77.0L1082.2,77.5M989.5,81.9L1007.5,82.4M923.0,66.7L941.0,67.2M1028.2,76.1L1043.5,83.3M932.7,87.3L947.9,94.4M1001.9,95.8L1019.9,96.2M941.0,67.2L956.2,74.3M932.7,87.3L935.5,80.6M920.2,73.4L935.5,80.6M977.0,68.1L995.0,68.5M1082.2,77.5L1097.5,84.6M953.5,81.0L956.2,74.3M1019.9,96.2L1022.7,89.5M1061.5,83.7L1076.7,90.9M974.2,74.8L989.5,81.9M995.0,68.5L1010.2,75.7M1028.2,76.1L1031.0,69.4M1007.5,82.4L1010.2,75.7M1094.7,91.3L1097.5,84.6M947.9,94.4L965.9,94.9M968.7,88.2L986.7,88.6M935.5,80.6L953.5,81.0M920.2,73.4L923.0,66.7M1010.2,75.7L1028.2,76.1M1076.7,90.9L1094.7,91.3M1049.0,69.9L1064.2,77.0M1043.5,83.3L1061.5,83.7M1073.9,97.6L1076.7,90.9M986.7,88.6L1001.9,95.8M953.5,81.0L968.7,88.2M1055.9,97.1L1073.9,97.6M986.7,88.6L989.5,81.9M1061.5,83.7L1064.2,77.0M974.2,74.8L977.0,68.1M1031.0,69.4L1049.0,69.9" stroke="#6a6a6a" stroke-width="1.3" fill="none" stroke-linecap="round"/><path d="M907.5,64.0L923.0,66.7M913.5,60.0L923.0,66.7M941.3,60.0L941.0,67.2M970.3,60.5L977.0,68.1M925.6,71.3L923.0,66.7M937.0,82.8L935.5,80.6M943.7,78.0L935.5,80.6M963.0,73.0L956.2,74.3M984.2,72.0L977.0,68.1M995.0,82.8L989.5,81.9M1019.8,62.3L1031.0,69.4M1030.0,62.3L1031.0,69.4M1054.9,59.3L1049.0,69.9M1041.0,73.0L1049.0,69.9M1052.4,85.2L1043.5,83.3M1085.0,74.3L1082.2,77.5M1106.2,97.3L1094.7,91.3M951.6,107.6L947.9,94.4M979.4,105.7L965.9,94.9M1062.1,105.1L1055.9,97.1M1093.5,106.4L1094.7,91.3" stroke="#777" stroke-width="1.5" fill="none"/><circle cx="907.5" cy="64.0" r="4.8" fill="url(#g_g)"/><circle cx="913.5" cy="60.0" r="4.8" fill="url(#g_g)"/><circle cx="941.3" cy="60.0" r="4.8" fill="url(#g_g)"/><circle cx="970.3" cy="60.5" r="4.8" fill="url(#g_g)"/><circle cx="925.6" cy="71.3" r="4.8" fill="url(#g_g)"/><circle cx="937.0" cy="82.8" r="4.8" fill="url(#g_g)"/><circle cx="943.7" cy="78.0" r="4.8" fill="url(#g_g)"/><circle cx="963.0" cy="73.0" r="4.8" fill="url(#g_g)"/><circle cx="984.2" cy="72.0" r="4.8" fill="url(#g_g)"/><circle cx="995.0" cy="82.8" r="4.8" fill="url(#g_g)"/><circle cx="1019.8" cy="62.3" r="4.8" fill="url(#g_g)"/><circle cx="1030.0" cy="62.3" r="4.8" fill="url(#g_g)"/><circle cx="1054.9" cy="59.3" r="4.8" fill="url(#g_g)"/><circle cx="1041.0" cy="73.0" r="4.8" fill="url(#g_g)"/><circle cx="1052.4" cy="85.2" r="4.8" fill="url(#g_g)"/><circle cx="1085.0" cy="74.3" r="4.8" fill="url(#g_g)"/><circle cx="1106.2" cy="97.3" r="4.8" fill="url(#g_g)"/><circle cx="951.6" cy="107.6" r="4.8" fill="url(#g_g)"/><circle cx="979.4" cy="105.7" r="4.8" fill="url(#g_g)"/><circle cx="1062.1" cy="105.1" r="4.8" fill="url(#g_g)"/><circle cx="1093.5" cy="106.4" r="4.8" fill="url(#g_g)"/><path d="M917.5,85 Q895,88 880,113 L867,114 L874.5,142 L890,117.5 L885.5,116 Q898,101 921,98.5 Z" fill="#7a9a6a"/><rect x="844.5" y="144.3" width="57.7" height="15.1" rx="2.5" fill="#eeeeee"/><path d="M846,160.4 L901,160.4 L928,205 L819,205 Z" fill="#eeeeee"/><path d="M819,205 L928,205 L928,266 L819,266 Z" fill="#f2f3f3"/><path d="M819,264 Q873.5,246 928,264 L928,315 Q873.5,338 819,315 Z" fill="#818182"/><text x="875.5" y="282.0" font-family="'Liberation Serif', serif" font-size="16.5" font-weight="normal" fill="#fff" text-anchor="middle" textLength="84" lengthAdjust="spacingAndGlyphs"><tspan>Concentrated</tspan></text><text x="875.0" y="301.0" font-family="'Liberation Serif', serif" font-size="16.5" font-weight="normal" fill="#fff" text-anchor="middle" ><tspan>H</tspan><tspan font-size="11.5" dy="4.62">2</tspan><tspan dy="-4.62">SO</tspan><tspan font-size="11.5" dy="4.62">4</tspan></text><text x="712.0" y="234.0" font-family="'Liberation Serif', serif" font-size="21.5" font-weight="bold" fill="#000" text-anchor="start" ><tspan>NaNO</tspan><tspan font-size="15.0" dy="6.02">3</tspan></text><defs><linearGradient id="pw" x1="0" y1="0" x2="1" y2="0.3"><stop offset="0" stop-color="#c4c0b8"/><stop offset="0.55" stop-color="#e4e1db"/><stop offset="1" stop-color="#ecebe6"/></linearGradient></defs><path d="M707.5,274.1 L712.3,265.9 L720.5,259.8 L730.7,255 L739.6,247.2 L745,247.2 L756.7,257.1 L762.8,261.2 L768.9,261.8 L777.1,270.7 L775.1,278.2 L764.8,286.4 L754.6,291.9 L741,294.6 L730.7,290.5 L717.1,289.8 L710.2,281 Z" fill="url(#pw)" filter="url(#powder)"/><path d="M768.3,283.7 L777.1,275.5 Q786,278 792.8,282.3 L795.6,275.5 L814,296.7 Q798,296 787.1,293.9 L791.5,287.1 Q780,284 768.3,284.4 Z" fill="#f2f2f2"/><text x="937.0" y="240.0" font-family="'Liberation Serif', serif" font-size="19" font-weight="bold" fill="#2e6db0" text-anchor="start" textLength="114" lengthAdjust="spacingAndGlyphs"><tspan>Pre-oxidation</tspan></text><path d="M938.7,252.3 L1010,252.3 L1010,245 L1037.8,260 L1010,275.6 L1010,267.3 L938.7,267.3 Q947.7,259.8 938.7,252.3 Z" fill="#2b6cb0"/><ellipse cx="1130.7" cy="261.8" rx="84.5" ry="51.6" fill="#fff" stroke="#8cc152" stroke-width="1.6"/><path d="M1084.9,220.5 L1094.4,230.7 L1133.0,230.7 L1143.2,218.1 L1171.6,218.1" stroke="#555" stroke-width="1.5" fill="none" stroke-linejoin="round" stroke-linecap="round" /><path d="M1094.4,230.7 L1084.1,242.5 L1070.7,244.1" stroke="#555" stroke-width="1.5" fill="none" stroke-linejoin="round" stroke-linecap="round" /><path d="M1084.1,242.5 L1117.2,255.1 L1148.7,255.1 L1159.7,242.5 L1195.2,242.5 L1201.5,235.4" stroke="#555" stroke-width="1.5" fill="none" stroke-linejoin="round" stroke-linecap="round" /><path d="M1133.0,230.7 L1159.7,242.5" stroke="#555" stroke-width="1.5" fill="none" stroke-linejoin="round" stroke-linecap="round" /><path d="M1117.2,255.1 L1116.4,238.6" stroke="#555" stroke-width="1.5" fill="none" stroke-linejoin="round" stroke-linecap="round" /><path d="M1148.7,255.1 L1147.9,230.7" stroke="#555" stroke-width="1.5" fill="none" stroke-linejoin="round" stroke-linecap="round" /><path d="M1117.2,255.1 L1107.0,267.0 L1088.8,267.0" stroke="#555" stroke-width="1.5" fill="none" stroke-linejoin="round" stroke-linecap="round" /><path d="M1107.0,267.0 L1140.0,278.8 L1169.2,278.8 L1180.2,267.0 L1214.1,265.4" stroke="#555" stroke-width="1.5" fill="none" stroke-linejoin="round" stroke-linecap="round" /><path d="M1195.2,242.5 L1212.5,251.2" stroke="#555" stroke-width="1.5" fill="none" stroke-linejoin="round" stroke-linecap="round" /><path d="M1180.2,267.0 L1173.1,263.8" stroke="#555" stroke-width="1.5" fill="none" stroke-linejoin="round" stroke-linecap="round" /><path d="M1140.0,278.8 L1134.5,285.9" stroke="#555" stroke-width="1.5" fill="none" stroke-linejoin="round" stroke-linecap="round" /><path d="M1169.2,278.8 L1181.8,285.1" stroke="#555" stroke-width="1.5" fill="none" stroke-linejoin="round" stroke-linecap="round" /><circle cx="1062.0" cy="245.0" r="8.2" fill="url(#g_g)"/><circle cx="1114.8" cy="230.0" r="8.2" fill="url(#g_g)"/><circle cx="1080.2" cy="266.2" r="8.2" fill="url(#g_g)"/><circle cx="1166.0" cy="257.5" r="8.2" fill="url(#g_g)"/><circle cx="1130.6" cy="293.7" r="8.2" fill="url(#g_g)"/><circle cx="1189.0" cy="289.0" r="8.2" fill="url(#g_g)"/><circle cx="1147.0" cy="226.8" r="6.8" fill="url(#g_b)"/><text x="1070.7" y="294.5" font-family="'Liberation Serif', serif" font-size="15" font-weight="bold" fill="#c8561c" text-anchor="start" textLength="47" lengthAdjust="spacingAndGlyphs"><tspan>-(CF)-</tspan></text><text x="1249.6" y="65.0" font-family="'Liberation Serif', serif" font-size="20" font-weight="bold" fill="#000" text-anchor="start" ><tspan>KMnO</tspan><tspan font-size="14.0" dy="5.60">4</tspan></text><path d="M1245,100 Q1250,78 1275,74 Q1300,72 1315,90 Q1322,105 1318,125 Q1310,145 1290,150 Q1265,152 1250,138 Q1238,122 1245,100 Z" fill="#15181e" filter="url(#kmno4)"/><path d="M1278,147 Q1262,162 1258,184 L1245.4,190.4 L1268.3,215 L1269.5,181.3 L1263,186 Q1270,165 1286,150 Z" fill="#6a2f8e"/><text x="1226.7" y="238.0" font-family="'Liberation Serif', serif" font-size="18" font-weight="bold" fill="#2e6db0" text-anchor="start" textLength="83.5" lengthAdjust="spacingAndGlyphs"><tspan>Oxidation</tspan></text><path d="M1225,250 L1295.2,250 L1295.2,241.8 L1322,258 L1295.2,274.8 L1295.2,265.9 L1225,265.9 Q1234,257.95 1225,250 Z" fill="#2b6cb0"/><text x="1211.7" y="297.0" font-family="'Liberation Serif', serif" font-size="18" font-weight="bold" fill="#c8561c" text-anchor="start" textLength="123.7" lengthAdjust="spacingAndGlyphs"><tspan>Defluorination</tspan></text><ellipse cx="1444.6" cy="239.8" rx="114.9" ry="129" fill="#fff" stroke="#8cc152" stroke-width="1.6"/><path d="M1413.5,252.2 L1423.3,262.9 L1460.6,262.9 L1471.3,250.4 L1499.8,250.4" stroke="#555" stroke-width="1.6" fill="none" stroke-linejoin="round" stroke-linecap="round" /><path d="M1423.3,262.9 L1412.6,274.5 L1398.3,276.3" stroke="#555" stroke-width="1.6" fill="none" stroke-linejoin="round" stroke-linecap="round" /><path d="M1412.6,274.5 L1446.4,286.9 L1476.7,286.9 L1487.3,275.4 L1523.8,275.4 L1530.1,267.3" stroke="#555" stroke-width="1.6" fill="none" stroke-linejoin="round" stroke-linecap="round" /><path d="M1460.6,262.9 L1487.3,275.4" stroke="#555" stroke-width="1.6" fill="none" stroke-linejoin="round" stroke-linecap="round" /><path d="M1476.7,286.9 L1476.3,242.4" stroke="#555" stroke-width="1.6" fill="none" stroke-linejoin="round" stroke-linecap="round" /><path d="M1523.8,275.4 L1540.8,283.4" stroke="#555" stroke-width="1.6" fill="none" stroke-linejoin="round" stroke-linecap="round" /><path d="M1522.6,275.4 L1522.1,253.1" stroke="#555" stroke-width="1.6" fill="none" stroke-linejoin="round" stroke-linecap="round" /><path d="M1446.4,286.9 L1435.7,298.5 L1417.0,298.5" stroke="#555" stroke-width="1.6" fill="none" stroke-linejoin="round" stroke-linecap="round" /><path d="M1435.7,298.5 L1468.7,311.0 L1498.0,311.0 L1508.7,299.4 L1542.5,297.6" stroke="#555" stroke-width="1.6" fill="none" stroke-linejoin="round" stroke-linecap="round" /><path d="M1498.0,311.0 L1510.5,316.3" stroke="#555" stroke-width="1.6" fill="none" stroke-linejoin="round" stroke-linecap="round" /><path d="M1468.7,311.0 L1462.4,319.0" stroke="#555" stroke-width="1.6" fill="none" stroke-linejoin="round" stroke-linecap="round" /><path d="M1474.9,196.1 L1489.1,185.5 L1520.3,161.4" stroke="#555" stroke-width="1.6" fill="none" stroke-linejoin="round" stroke-linecap="round" /><path d="M1454.4,208.6 L1463.3,220.2 L1475.8,234.4 L1493.6,221.1 L1506.0,211.3" stroke="#555" stroke-width="1.6" fill="none" stroke-linejoin="round" stroke-linecap="round" /><path d="M1539.9,194.4 L1539.9,211.3 L1522.1,224.6 L1522.1,246.9" stroke="#555" stroke-width="1.6" fill="none" stroke-linejoin="round" stroke-linecap="round" /><path d="M1367.2,156.1 L1381.4,172.1 L1398.3,158.8" stroke="#444" stroke-width="1.6" fill="none" stroke-linejoin="round" stroke-linecap="round" /><path d="M1366.3,189.0 L1381.4,172.1 L1396.6,189.0" stroke="#444" stroke-width="1.6" fill="none" stroke-linejoin="round" stroke-linecap="round" /><path d="M1390.4,173.8 Q1425,173 1449.8,185.2 L1450.6,181 L1462.7,207.6 L1438.4,205.9 L1442.4,201.5 Q1420,182 1390.4,177 Z" fill="#9bbfe0"/><circle cx="1367.2" cy="156.1" r="6.6" fill="url(#g_b)"/><circle cx="1398.3" cy="158.8" r="6.6" fill="url(#g_b)"/><circle cx="1366.3" cy="189.0" r="6.6" fill="url(#g_b)"/><circle cx="1396.6" cy="189.0" r="6.6" fill="url(#g_b)"/><circle cx="1507.0" cy="171.2" r="6.6" fill="url(#g_b)"/><circle cx="1463.3" cy="220.2" r="6.6" fill="url(#g_b)"/><circle cx="1493.6" cy="221.0" r="6.6" fill="url(#g_b)"/><circle cx="1475.8" cy="258.4" r="6.6" fill="url(#g_b)"/><circle cx="1539.9" cy="211.3" r="6.6" fill="url(#g_b)"/><circle cx="1522.0" cy="246.9" r="6.6" fill="url(#g_b)"/><circle cx="1381.4" cy="172.1" r="8" fill="url(#g_r)"/><circle cx="1489.1" cy="185.5" r="8" fill="url(#g_r)"/><circle cx="1474.9" cy="234.4" r="8" fill="url(#g_r)"/><circle cx="1522.0" cy="224.6" r="8" fill="url(#g_r)"/><circle cx="1442.0" cy="250.4" r="8" fill="url(#g_g)"/><circle cx="1390.3" cy="276.2" r="8" fill="url(#g_g)"/><circle cx="1409.0" cy="297.6" r="8" fill="url(#g_g)"/><circle cx="1503.4" cy="286.0" r="8" fill="url(#g_g)"/><circle cx="1458.9" cy="325.2" r="8" fill="url(#g_g)"/><circle cx="1517.6" cy="320.8" r="8" fill="url(#g_g)"/><text x="1341.4" y="213.0" font-family="'Liberation Serif', serif" font-size="19" font-weight="bold" fill="#1f64ae" text-anchor="start" ><tspan>[MnO</tspan><tspan font-size="13.3" dy="5.32">4</tspan><tspan dy="-5.32">]</tspan><tspan font-size="12.9" dy="-7.98">-</tspan></text><text x="1408.0" y="162.0" font-family="'Liberation Serif', serif" font-size="17" font-weight="bold" fill="#1f64ae" text-anchor="start" transform="rotate(24 1408 162)" textLength="76" lengthAdjust="spacingAndGlyphs"><tspan>Reduction</tspan></text><text x="1462.4" y="156.0" font-family="'Liberation Serif', serif" font-size="19" font-weight="bold" fill="#1f64ae" text-anchor="start" textLength="64" lengthAdjust="spacingAndGlyphs"><tspan>-Mn-O-</tspan></text><text x="1395.7" y="351.0" font-family="'Liberation Serif', serif" font-size="15.5" font-weight="bold" fill="#c8561c" text-anchor="start" ><tspan>-(C</tspan><tspan font-size="10.8" dy="4.34">2</tspan><tspan dy="-4.34">F)--(CF)-</tspan></text><text x="1562.6" y="234.5" font-family="'Liberation Serif', serif" font-size="17.5" font-weight="bold" fill="#1ea040" text-anchor="start" textLength="105" lengthAdjust="spacingAndGlyphs"><tspan>Fluorination</tspan></text><path d="M1572,249.2 L1637,249.2 L1637,241.8 L1662.3,258.2 L1637,275.4 L1637,267 L1572,267 Q1581,258.1 1572,249.2 Z" fill="#2b6cb0"/><ellipse cx="1768.8" cy="240.3" rx="99.2" ry="89.7" fill="#fff" stroke="#8cc152" stroke-width="1.6"/><path d="M1701.1,228.2 L1711.6,239.8 L1749.3,239.8 L1759.8,226.1 L1788.1,226.1" stroke="#555" stroke-width="1.6" fill="none" stroke-linejoin="round" stroke-linecap="round" /><path d="M1711.6,239.8 L1701.1,251.3 L1686.4,252.3" stroke="#555" stroke-width="1.6" fill="none" stroke-linejoin="round" stroke-linecap="round" /><path d="M1701.1,251.3 L1734.6,263.9 L1765.1,263.9 L1775.6,251.3 L1812.3,251.3 L1818.6,242.9" stroke="#555" stroke-width="1.6" fill="none" stroke-linejoin="round" stroke-linecap="round" /><path d="M1749.3,239.8 L1775.6,251.3" stroke="#555" stroke-width="1.6" fill="none" stroke-linejoin="round" stroke-linecap="round" /><path d="M1812.3,251.3 L1829.1,259.7" stroke="#555" stroke-width="1.6" fill="none" stroke-linejoin="round" stroke-linecap="round" /><path d="M1734.6,263.9 L1724.2,275.4 L1705.3,275.4" stroke="#555" stroke-width="1.6" fill="none" stroke-linejoin="round" stroke-linecap="round" /><path d="M1724.2,275.4 L1756.7,287.0 L1786.0,287.0 L1796.5,275.4 L1830.1,274.0" stroke="#555" stroke-width="1.6" fill="none" stroke-linejoin="round" stroke-linecap="round" /><path d="M1756.7,287.0 L1752.5,292.2" stroke="#555" stroke-width="1.6" fill="none" stroke-linejoin="round" stroke-linecap="round" /><path d="M1786.0,287.0 L1799.7,293.3" stroke="#555" stroke-width="1.6" fill="none" stroke-linejoin="round" stroke-linecap="round" /><path d="M1747.2,193.6 L1763.0,210.4 L1780.8,195.7 L1793.4,186.2" stroke="#555" stroke-width="1.6" fill="none" stroke-linejoin="round" stroke-linecap="round" /><path d="M1763.0,210.4 L1764.0,234.5 L1765.1,262.8" stroke="#555" stroke-width="1.6" fill="none" stroke-linejoin="round" stroke-linecap="round" /><path d="M1828.0,181.0 L1809.8,200.9 L1799.7,187.3" stroke="#555" stroke-width="1.6" fill="none" stroke-linejoin="round" stroke-linecap="round" /><path d="M1809.8,200.9 L1810.2,221.9 L1812.3,251.3" stroke="#555" stroke-width="1.6" fill="none" stroke-linejoin="round" stroke-linecap="round" /><circle cx="1780.8" cy="195.7" r="6.6" fill="url(#g_b)"/><circle cx="1764.0" cy="234.5" r="6.6" fill="url(#g_b)"/><circle cx="1810.2" cy="221.9" r="6.6" fill="url(#g_b)"/><circle cx="1763.0" cy="210.4" r="8" fill="url(#g_r)"/><circle cx="1809.8" cy="201.0" r="8" fill="url(#g_r)"/><circle cx="1747.2" cy="193.6" r="8" fill="url(#g_g)"/><circle cx="1828.0" cy="181.0" r="8" fill="url(#g_g)"/><circle cx="1679.0" cy="252.3" r="8" fill="url(#g_g)"/><circle cx="1696.9" cy="274.4" r="8" fill="url(#g_g)"/><circle cx="1747.2" cy="301.6" r="8" fill="url(#g_g)"/><circle cx="1805.6" cy="297.5" r="8" fill="url(#g_g)"/><text x="1750.4" y="174.7" font-family="'Liberation Serif', serif" font-size="19" font-weight="bold" fill="#1f64ae" text-anchor="start" textLength="65" lengthAdjust="spacingAndGlyphs"><tspan>-Mn-O-</tspan></text><text x="1684.3" y="212.5" font-family="'Liberation Serif', serif" font-size="19" font-weight="bold" fill="#4a7a2a" text-anchor="start" textLength="55.6" lengthAdjust="spacingAndGlyphs"><tspan>-Mn-F</tspan></text><text x="1734.6" y="134.8" font-family="'Liberation Serif', serif" font-size="24" font-weight="bold" fill="#c8961e" text-anchor="start" textLength="49.4" lengthAdjust="spacingAndGlyphs"><tspan>CFO</tspan></text><circle cx="1806.0" cy="27.8" r="4.5" fill="url(#g_p)"/><text x="1821.7" y="34.8" font-family="'Liberation Serif', serif" font-size="12" font-weight="bold" fill="#8e6fb5" text-anchor="start" ><tspan>H</tspan></text><circle cx="1806.0" cy="47.8" r="5" fill="url(#g_g)"/><text x="1823.0" y="52.0" font-family="'Liberation Serif', serif" font-size="12" font-weight="bold" fill="#4a7a2a" text-anchor="start" ><tspan>F</tspan></text><circle cx="1807.7" cy="69.2" r="6.5" fill="url(#g_b)"/><text x="1824.0" y="74.0" font-family="'Liberation Serif', serif" font-size="12" font-weight="bold" fill="#2060b0" text-anchor="start" ><tspan>O</tspan></text><circle cx="1808.0" cy="95.0" r="8" fill="url(#g_r)"/><text x="1822.8" y="100.2" font-family="'Liberation Serif', serif" font-size="13" font-weight="bold" fill="#e02020" text-anchor="start" ><tspan>Mn</tspan></text><path d="M75.0,610.2 L75.6,609.5 L76.2,610.4 L76.9,610.8 L77.5,609.8 L78.1,609.7 L78.8,608.2 L79.4,609.2 L80.0,610.1 L80.7,607.8 L81.5,605.5 L82.2,601.8 L82.8,605.6 L83.5,607.3 L84.1,607.3 L84.7,610.3 L85.4,609.2 L86.0,609.8 L86.7,610.8 L87.3,610.8 L88.0,612.8 L88.6,613.3 L89.2,612.5 L89.9,612.9 L90.5,612.8 L91.2,613.1 L91.8,616.5 L92.5,618.0 L93.1,618.4 L93.8,621.3 L94.4,622.8 L95.0,623.5 L95.6,622.7 L96.2,621.8 L96.9,621.2 L97.5,621.7 L98.1,621.3 L98.7,619.1 L99.3,618.4 L99.9,619.3 L100.5,616.9 L101.1,617.2 L101.8,615.9 L102.4,616.0 L103.0,614.9 L103.6,615.0 L104.2,615.8 L104.9,617.3 L105.6,618.3 L106.3,619.0 L106.9,620.4 L107.6,621.1 L108.3,621.9 L109.0,623.8 L109.6,623.9 L110.3,621.5 L110.9,620.7 L111.5,621.9 L112.2,620.0 L112.8,620.4 L113.4,619.8 L114.0,619.6 L114.7,617.5 L115.3,616.7 L115.9,617.2 L116.6,616.4 L117.2,615.4 L117.8,617.2 L118.4,618.2 L119.0,620.5 L119.7,620.3 L120.3,622.7 L120.9,624.7 L121.5,624.5 L122.1,626.4 L122.8,622.2 L123.5,618.0 L124.1,612.1 L124.8,606.3 L125.4,600.7 L126.1,605.9 L126.8,612.0 L127.5,618.0 L128.1,623.2 L128.8,628.5 L129.4,632.6 L130.0,632.3 L130.6,634.1 L131.2,633.2 L131.8,633.5 L132.4,633.6 L133.0,632.7 L133.6,632.4 L134.2,631.7 L134.8,633.2 L135.4,633.2 L136.0,632.8 L136.7,633.0 L137.3,632.3 L137.9,632.3 L138.5,630.8 L139.1,632.2 L139.7,630.9 L140.3,631.0 L140.9,630.6 L141.5,631.1 L142.1,631.2 L142.7,630.8 L143.3,630.0 L144.0,630.6 L144.7,633.0 L145.4,632.4 L146.0,633.6 L146.7,633.5 L147.4,634.9 L148.1,635.1 L148.7,635.6 L149.3,636.4 L149.9,636.9 L150.5,635.8 L151.1,634.7 L151.7,635.6 L152.3,635.3 L152.9,635.7 L153.5,634.7 L154.1,635.5 L154.7,634.1 L155.3,633.6 L155.9,634.0 L156.5,634.9 L157.1,634.2 L157.7,633.4 L158.3,633.2 L158.9,633.5 L159.5,632.8 L160.1,633.8 L160.7,635.7 L161.3,636.4 L161.9,636.9 L162.6,635.9 L163.2,637.8 L163.8,638.1 L164.4,640.3 L165.0,639.5 L165.7,643.2 L166.3,643.5 L167.0,646.1 L167.7,648.4 L168.8,648.0 L169.8,434.0 L170.8,648.0 L171.0,649.1 L171.6,648.6 L172.2,649.2 L172.8,648.7 L173.4,648.2 L174.0,649.1 L174.7,648.8 L175.3,648.9 L175.9,648.4 L176.5,648.4 L177.1,649.8 L177.7,649.9 L178.3,649.2 L179.2,645.0 L179.9,630.5 L180.8,648.0 L181.5,640.0 L182.3,620.7 L183.2,640.0 L184.0,665.4 L184.6,664.4 L185.2,663.9 L185.8,664.7 L186.4,665.0 L187.1,664.8 L187.7,663.8 L188.3,664.1 L188.9,664.8 L189.5,663.8 L190.1,665.0 L190.7,665.2 L191.3,664.0 L191.9,663.7 L192.5,665.2 L193.2,664.8 L193.8,664.3 L194.4,664.3 L195.0,665.0 L195.6,664.0 L196.2,663.5 L196.8,664.4 L197.4,663.9 L198.0,664.5 L198.6,664.9 L199.2,663.9 L199.9,663.7 L200.5,663.4 L201.1,664.6 L201.7,663.4 L202.3,664.7 L202.9,664.3 L203.5,664.6 L204.1,664.5 L204.7,663.4 L205.3,663.4 L206.0,664.6 L206.6,663.5 L207.2,664.3 L207.8,663.3 L208.4,663.5 L209.0,664.4 L209.6,664.1 L210.2,665.3 L210.8,665.8 L211.4,665.3 L212.1,665.6 L212.7,665.5 L213.3,666.5 L213.9,666.3 L214.5,667.4 L215.1,668.0 L215.7,668.0 L216.5,660.0 L217.3,620.7 L218.2,660.0 L219.0,672.9 L219.6,672.9 L220.2,672.9 L220.8,673.4 L221.4,672.8 L222.0,673.3 L222.6,672.4 L223.2,672.1 L223.8,672.2 L224.4,673.1 L225.0,672.1 L225.6,673.0 L226.2,673.2 L226.8,672.6 L227.4,671.9 L228.0,672.7 L228.6,672.2 L229.2,673.1 L229.9,671.9 L230.5,671.9 L231.1,672.3 L231.7,672.3 L232.3,671.8 L232.9,672.1 L233.5,672.5 L234.1,672.2 L234.7,671.5 L235.3,672.0 L235.9,672.0 L236.5,672.0 L237.1,671.3 L237.7,671.7 L238.3,672.8 L238.9,672.7 L239.5,672.7 L240.1,672.4 L240.7,671.9 L241.3,672.6 L241.9,671.6 L242.5,672.0 L243.1,672.0 L243.7,671.8 L244.3,671.4 L244.9,671.5 L245.5,672.0 L246.1,671.4 L246.7,671.5 L247.3,671.5 L247.9,671.4 L248.5,672.2 L249.1,671.7 L249.7,670.9 L250.3,672.0 L251.0,671.6 L251.6,672.0 L252.2,671.5 L252.8,671.2 L253.4,672.0 L254.0,670.9 L254.6,671.1 L255.2,671.4 L255.8,672.0 L256.4,670.8 L257.0,671.1 L257.6,671.4 L258.2,671.6 L258.8,670.6 L259.4,671.7 L260.0,671.3 L260.6,671.2 L261.2,671.0 L261.8,670.9 L262.4,671.8 L263.0,671.9 L263.6,670.6 L264.2,670.6 L264.8,671.3 L265.4,671.4 L266.0,671.5 L266.6,670.7 L267.2,670.5 L267.8,670.2 L268.4,670.7 L269.0,671.0 L269.6,671.5 L270.2,670.1 L270.8,670.2 L271.5,671.0 L272.1,671.0 L272.7,670.1 L273.3,670.1 L273.9,669.9 L274.5,670.9 L275.1,670.3 L275.7,670.2 L276.3,670.9 L276.9,670.0 L277.5,670.6 L278.1,669.9 L278.7,669.8 L279.3,670.8 L279.9,670.9 L280.5,670.4 L281.1,670.3 L281.7,670.7 L282.3,670.1 L282.9,670.7 L283.5,672.0 L284.1,672.5 L284.7,671.3 L285.4,671.6 L286.0,673.2 L286.6,673.0 L287.2,673.8 L287.8,674.0 L288.4,674.0 L289.0,674.4 L289.8,660.0 L290.6,628.0 L291.5,660.0 L292.2,668.0 L293.0,676.3 L293.6,676.2 L294.2,675.2 L294.8,675.9 L295.4,676.5 L296.0,676.4 L296.6,676.1 L297.2,676.1 L297.8,676.4 L298.4,675.5 L299.1,675.7 L299.7,676.0 L300.3,676.3 L300.9,675.5 L301.5,675.2 L302.1,675.4 L302.7,675.6 L303.3,675.1 L303.9,675.9 L304.5,676.3 L305.1,675.4 L305.7,676.4 L306.3,675.5 L306.9,675.7 L307.5,676.4 L308.1,675.9 L308.7,675.6 L309.3,676.0 L309.9,675.5 L310.5,675.9 L311.2,675.1 L311.8,674.8 L312.4,675.6 L313.0,675.5 L313.6,675.4 L314.2,674.8 L314.8,676.1 L315.4,674.8 L316.0,676.1 L316.6,675.1 L317.2,675.0 L317.8,676.0 L318.4,676.0 L319.0,675.6 L319.6,676.0 L320.2,674.7 L320.8,675.8 L321.4,675.4 L322.0,674.9 L322.7,675.3 L323.3,674.6 L323.9,675.6 L324.5,675.4 L325.1,674.5 L325.7,674.7 L326.3,674.8 L326.9,675.0 L327.5,674.6 L328.1,674.7 L328.7,675.1 L329.3,674.4 L329.9,675.4 L330.5,674.9 L331.1,674.8 L331.7,675.1 L332.3,674.4 L332.9,675.5 L333.5,674.3 L334.2,675.0 L334.8,675.6 L335.4,674.3 L336.0,675.1 L336.6,675.6 L337.2,675.6 L337.8,674.5 L338.4,675.0 L339.0,675.5 L339.6,674.9 L340.2,675.3 L340.8,675.0 L341.4,673.9 L342.0,674.4 L342.6,675.3 L343.2,674.6 L343.8,674.5 L344.4,674.3 L345.0,674.0 L345.6,674.8 L346.3,674.4 L346.9,675.1 L347.5,673.8 L348.1,675.1 L348.7,673.8 L349.3,675.0 L349.9,674.4 L350.5,674.8 L351.1,674.3 L351.7,673.9 L352.3,675.3 L352.9,674.9 L353.5,674.4 L354.1,675.2 L354.7,674.7 L355.3,675.2 L355.9,675.6 L356.5,675.8 L357.2,675.2 L357.8,675.5 L358.4,676.1 L359.0,676.3 L359.6,677.0 L360.2,676.7 L360.8,677.2 L361.4,676.9 L362.2,672.0 L363.0,670.4 L363.8,673.0 L364.7,677.7 L365.4,676.9 L366.0,676.0 L366.7,675.2 L367.3,674.4 L368.0,673.6 L368.7,674.7 L369.3,675.9 L370.0,676.8 L370.6,676.7 L371.2,676.9 L371.8,676.7 L372.4,677.4 L373.0,678.0 L373.6,678.4 L374.2,677.6 L374.8,678.5 L375.4,678.8 L376.0,678.5" stroke="#e3191c" stroke-width="2.8" fill="none" stroke-linejoin="round" stroke-linecap="round" /><rect x="74.5" y="433" width="303.2" height="248" fill="none" stroke="#000" stroke-width="3.2"/><line x1="377.7" y1="682" x2="377.7" y2="689" stroke="#000" stroke-width="3"/><line x1="317.2" y1="682" x2="317.2" y2="689" stroke="#000" stroke-width="3"/><line x1="256.6" y1="682" x2="256.6" y2="689" stroke="#000" stroke-width="3"/><line x1="196.1" y1="682" x2="196.1" y2="689" stroke="#000" stroke-width="3"/><line x1="135.5" y1="682" x2="135.5" y2="689" stroke="#000" stroke-width="3"/><line x1="75.0" y1="682" x2="75.0" y2="689" stroke="#000" stroke-width="3"/><line x1="347.4" y1="682" x2="347.4" y2="686" stroke="#000" stroke-width="3"/><line x1="286.9" y1="682" x2="286.9" y2="686" stroke="#000" stroke-width="3"/><line x1="226.3" y1="682" x2="226.3" y2="686" stroke="#000" stroke-width="3"/><line x1="165.8" y1="682" x2="165.8" y2="686" stroke="#000" stroke-width="3"/><line x1="105.3" y1="682" x2="105.3" y2="686" stroke="#000" stroke-width="3"/><text x="377.7" y="713.5" font-family="'Liberation Serif', serif" font-size="22.5" font-weight="bold" fill="#000" text-anchor="middle" ><tspan>0</tspan></text><text x="317.2" y="713.5" font-family="'Liberation Serif', serif" font-size="22.5" font-weight="bold" fill="#000" text-anchor="middle" ><tspan>200</tspan></text><text x="256.6" y="713.5" font-family="'Liberation Serif', serif" font-size="22.5" font-weight="bold" fill="#000" text-anchor="middle" ><tspan>400</tspan></text><text x="196.1" y="713.5" font-family="'Liberation Serif', serif" font-size="22.5" font-weight="bold" fill="#000" text-anchor="middle" ><tspan>600</tspan></text><text x="135.5" y="713.5" font-family="'Liberation Serif', serif" font-size="22.5" font-weight="bold" fill="#000" text-anchor="middle" ><tspan>800</tspan></text><text x="75.0" y="713.5" font-family="'Liberation Serif', serif" font-size="22.5" font-weight="bold" fill="#000" text-anchor="middle" ><tspan>1000</tspan></text><text x="232.0" y="746.0" font-family="'Liberation Serif', serif" font-size="23" font-weight="bold" fill="#000" text-anchor="middle" ><tspan>Binding energy (eV)</tspan></text><text x="49.8" y="548.6" font-family="'Liberation Serif', serif" font-size="27" font-weight="bold" fill="#000" text-anchor="middle" transform="rotate(-90 49.8 548.6)"><tspan>Intensity (a.u.)</tspan></text><text x="17.0" y="439.0" font-family="'Liberation Serif', serif" font-size="39" font-weight="bold" fill="#000" text-anchor="start" ><tspan>(c)</tspan></text><text x="174.7" y="459.3" font-family="'Liberation Serif', serif" font-size="19.5" font-weight="bold" fill="#000" text-anchor="start" ><tspan>F 1s</tspan></text><text x="263.0" y="459.3" font-family="'Liberation Serif', serif" font-size="20.8" font-weight="bold" fill="#000" text-anchor="start" ><tspan>Atomic %</tspan></text><text x="252.5" y="485.2" font-family="'Liberation Serif', serif" font-size="21" font-weight="bold" fill="#000" text-anchor="start" ><tspan>C</tspan></text><text x="289.4" y="485.2" font-family="'Liberation Serif', serif" font-size="21" font-weight="bold" fill="#000" text-anchor="start" ><tspan>40.08</tspan></text><text x="252.5" y="510.8" font-family="'Liberation Serif', serif" font-size="21" font-weight="bold" fill="#000" text-anchor="start" ><tspan>O</tspan></text><text x="290.4" y="510.8" font-family="'Liberation Serif', serif" font-size="21" font-weight="bold" fill="#000" text-anchor="start" ><tspan>14.83</tspan></text><text x="252.5" y="537.1" font-family="'Liberation Serif', serif" font-size="21" font-weight="bold" fill="#000" text-anchor="start" ><tspan>N</tspan></text><text x="289.4" y="537.1" font-family="'Liberation Serif', serif" font-size="21" font-weight="bold" fill="#000" text-anchor="start" ><tspan>0.64</tspan></text><text x="252.5" y="563.0" font-family="'Liberation Serif', serif" font-size="21" font-weight="bold" fill="#000" text-anchor="start" ><tspan>F</tspan></text><text x="291.4" y="563.0" font-family="'Liberation Serif', serif" font-size="21" font-weight="bold" fill="#000" text-anchor="start" ><tspan>38.98</tspan></text><text x="252.5" y="588.6" font-family="'Liberation Serif', serif" font-size="21" font-weight="bold" fill="#000" text-anchor="start" ><tspan>Mn</tspan></text><text x="295.0" y="588.6" font-family="'Liberation Serif', serif" font-size="21" font-weight="bold" fill="#000" text-anchor="start" ><tspan>5.47</tspan></text><text x="106.6" y="589.8" font-family="'Liberation Serif', serif" font-size="19.4" font-weight="bold" fill="#000" text-anchor="start" ><tspan>F KLL</tspan></text><text x="178.3" y="614.5" font-family="'Liberation Serif', serif" font-size="19.4" font-weight="bold" fill="#000" text-anchor="start" ><tspan>Mn 2p</tspan></text><text x="219.5" y="641.0" font-family="'Liberation Serif', serif" font-size="19.4" font-weight="bold" fill="#000" text-anchor="start" ><tspan>O 1s</tspan></text><text x="282.5" y="619.0" font-family="'Liberation Serif', serif" font-size="19.4" font-weight="bold" fill="#000" text-anchor="start" ><tspan>C 1s</tspan></text><text x="248.3" y="665.5" font-family="'Liberation Serif', serif" font-size="19.4" font-weight="bold" fill="#000" text-anchor="start" ><tspan>N 1s</tspan></text><text x="340.3" y="665.5" font-family="'Liberation Serif', serif" font-size="19.4" font-weight="bold" fill="#000" text-anchor="start" ><tspan>F 2s</tspan></text><defs><linearGradient id="xg1" gradientUnits="userSpaceOnUse" x1="0" y1="667.8" x2="0" y2="677.2"><stop offset="0" stop-color="#5e2a72"/><stop offset="1" stop-color="#7a4a8a"/></linearGradient></defs><path d="M451.4,670.4 L452.4,670.3 L453.4,670.3 L454.4,670.3 L455.4,670.2 L456.4,670.2 L457.4,670.1 L458.4,670.1 L459.4,670.0 L460.4,670.0 L461.4,669.9 L462.4,669.9 L463.4,669.8 L464.4,669.7 L465.4,669.7 L466.4,669.6 L467.4,669.5 L468.4,669.4 L469.4,669.4 L470.4,669.3 L471.4,669.2 L472.4,669.1 L473.4,669.1 L474.4,669.0 L475.4,668.9 L476.4,668.8 L477.4,668.7 L478.4,668.7 L479.4,668.6 L480.4,668.5 L481.4,668.4 L482.4,668.3 L483.4,668.3 L484.4,668.2 L485.4,668.1 L486.4,668.1 L487.4,668.0 L488.4,668.0 L489.4,667.9 L490.4,667.9 L491.4,667.9 L492.4,667.8 L493.4,667.8 L494.4,667.8 L495.4,667.8 L496.4,667.8 L497.4,667.8 L498.4,667.8 L499.4,667.8 L500.4,667.8 L501.4,667.8 L502.4,667.9 L503.4,667.9 L504.4,668.0 L505.4,668.0 L506.4,668.1 L507.4,668.1 L508.4,668.2 L509.4,668.2 L510.4,668.3 L511.4,668.4 L512.4,668.5 L513.4,668.5 L514.4,668.6 L515.4,668.7 L516.4,668.8 L517.4,668.9 L518.4,669.0 L519.4,669.1 L520.4,669.2 L521.4,669.2 L522.4,669.3 L523.4,669.4 L524.4,669.5 L525.4,669.6 L526.4,669.7 L527.4,669.8 L528.4,669.8 L529.4,669.9 L530.4,670.0 L531.4,670.1 L532.4,670.1 L533.4,670.2 L534.4,670.3 L535.4,670.3 L536.4,670.4 L537.4,670.5 L538.4,670.5 L539.4,670.6 L540.4,670.6 L541.4,670.7 L542.4,670.7 L543.4,670.8 L544.4,670.8 L544.4,671.1 L543.4,671.1 L542.4,671.1 L541.4,671.1 L540.4,671.1 L539.4,671.1 L538.4,671.1 L537.4,671.0 L536.4,671.0 L535.4,671.0 L534.4,671.0 L533.4,671.0 L532.4,671.0 L531.4,671.0 L530.4,671.0 L529.4,670.9 L528.4,670.9 L527.4,670.9 L526.4,670.9 L525.4,670.9 L524.4,670.9 L523.4,670.9 L522.4,670.9 L521.4,670.9 L520.4,670.9 L519.4,670.9 L518.4,670.9 L517.4,670.9 L516.4,670.9 L515.4,670.8 L514.4,670.8 L513.4,670.8 L512.4,670.8 L511.4,670.8 L510.4,670.8 L509.4,670.8 L508.4,670.8 L507.4,670.8 L506.4,670.8 L505.4,670.8 L504.4,670.8 L503.4,670.8 L502.4,670.8 L501.4,670.8 L500.4,670.8 L499.4,670.8 L498.4,670.8 L497.4,670.8 L496.4,670.8 L495.4,670.8 L494.4,670.8 L493.4,670.8 L492.4,670.8 L491.4,670.8 L490.4,670.8 L489.4,670.8 L488.4,670.7 L487.4,670.7 L486.4,670.7 L485.4,670.7 L484.4,670.7 L483.4,670.7 L482.4,670.7 L481.4,670.7 L480.4,670.7 L479.4,670.7 L478.4,670.7 L477.4,670.7 L476.4,670.7 L475.4,670.7 L474.4,670.7 L473.4,670.7 L472.4,670.7 L471.4,670.7 L470.4,670.7 L469.4,670.7 L468.4,670.7 L467.4,670.7 L466.4,670.7 L465.4,670.7 L464.4,670.7 L463.4,670.7 L462.4,670.7 L461.4,670.7 L460.4,670.7 L459.4,670.7 L458.4,670.7 L457.4,670.7 L456.4,670.7 L455.4,670.7 L454.4,670.7 L453.4,670.7 L452.4,670.7 L451.4,670.7Z" fill="url(#xg1)" fill-opacity="0.9" stroke="#5e2a72" stroke-width="0.8"/><defs><linearGradient id="xg2" gradientUnits="userSpaceOnUse" x1="0" y1="633.2" x2="0" y2="677.2"><stop offset="0" stop-color="#efe54a"/><stop offset="1" stop-color="#f5f0b0"/></linearGradient></defs><path d="M519.4,670.5 L520.4,670.4 L521.4,670.4 L522.4,670.3 L523.4,670.1 L524.4,670.0 L525.4,669.9 L526.4,669.7 L527.4,669.4 L528.4,669.2 L529.4,668.9 L530.4,668.6 L531.4,668.2 L532.4,667.8 L533.4,667.3 L534.4,666.8 L535.4,666.2 L536.4,665.5 L537.4,664.8 L538.4,664.0 L539.4,663.2 L540.4,662.3 L541.4,661.3 L542.4,660.2 L543.4,659.1 L544.4,657.9 L545.4,656.7 L546.4,655.3 L547.4,654.0 L548.4,652.6 L549.4,651.1 L550.4,649.7 L551.4,648.2 L552.4,646.7 L553.4,645.3 L554.4,643.8 L555.4,642.4 L556.4,641.1 L557.4,639.8 L558.4,638.6 L559.4,637.5 L560.4,636.5 L561.4,635.6 L562.4,634.8 L563.4,634.2 L564.4,633.7 L565.4,633.4 L566.4,633.2 L567.4,633.2 L568.4,633.3 L569.4,633.7 L570.4,634.1 L571.4,634.7 L572.4,635.5 L573.4,636.3 L574.4,637.4 L575.4,638.5 L576.4,639.7 L577.4,641.0 L578.4,642.4 L579.4,643.8 L580.4,645.3 L581.4,646.8 L582.4,648.4 L583.4,649.9 L584.4,651.5 L585.4,653.0 L586.4,654.5 L587.4,655.9 L588.4,657.3 L589.4,658.7 L590.4,660.0 L591.4,661.2 L592.4,662.4 L593.4,663.5 L594.4,664.5 L595.4,665.5 L596.4,666.4 L597.4,667.2 L598.4,668.0 L599.4,668.7 L600.4,669.3 L601.4,669.9 L602.4,670.4 L603.4,670.9 L604.4,671.3 L605.4,671.7 L606.4,672.1 L607.4,672.4 L608.4,672.7 L609.4,672.9 L610.4,673.1 L611.4,673.3 L612.4,673.5 L613.4,673.7 L614.4,673.8 L615.4,674.0 L615.4,674.3 L614.4,674.2 L613.4,674.2 L612.4,674.1 L611.4,674.0 L610.4,674.0 L609.4,673.9 L608.4,673.8 L607.4,673.8 L606.4,673.7 L605.4,673.7 L604.4,673.6 L603.4,673.5 L602.4,673.5 L601.4,673.4 L600.4,673.3 L599.4,673.3 L598.4,673.2 L597.4,673.1 L596.4,673.1 L595.4,673.0 L594.4,673.0 L593.4,672.9 L592.4,672.9 L591.4,672.8 L590.4,672.7 L589.4,672.7 L588.4,672.6 L587.4,672.6 L586.4,672.5 L585.4,672.5 L584.4,672.4 L583.4,672.4 L582.4,672.3 L581.4,672.3 L580.4,672.2 L579.4,672.2 L578.4,672.1 L577.4,672.1 L576.4,672.0 L575.4,672.0 L574.4,672.0 L573.4,671.9 L572.4,671.9 L571.4,671.8 L570.4,671.8 L569.4,671.8 L568.4,671.7 L567.4,671.7 L566.4,671.7 L565.4,671.6 L564.4,671.6 L563.4,671.6 L562.4,671.5 L561.4,671.5 L560.4,671.5 L559.4,671.5 L558.4,671.4 L557.4,671.4 L556.4,671.4 L555.4,671.4 L554.4,671.3 L553.4,671.3 L552.4,671.3 L551.4,671.3 L550.4,671.2 L549.4,671.2 L548.4,671.2 L547.4,671.2 L546.4,671.2 L545.4,671.2 L544.4,671.1 L543.4,671.1 L542.4,671.1 L541.4,671.1 L540.4,671.1 L539.4,671.1 L538.4,671.1 L537.4,671.0 L536.4,671.0 L535.4,671.0 L534.4,671.0 L533.4,671.0 L532.4,671.0 L531.4,671.0 L530.4,671.0 L529.4,670.9 L528.4,670.9 L527.4,670.9 L526.4,670.9 L525.4,670.9 L524.4,670.9 L523.4,670.9 L522.4,670.9 L521.4,670.9 L520.4,670.9 L519.4,670.9Z" fill="url(#xg2)" fill-opacity="0.9" stroke="#efe54a" stroke-width="0.8"/><defs><linearGradient id="xg3" gradientUnits="userSpaceOnUse" x1="0" y1="461.9" x2="0" y2="677.2"><stop offset="0" stop-color="#8266aa"/><stop offset="1" stop-color="#d9cfe6"/></linearGradient></defs><path d="M563.4,671.2 L564.4,671.2 L565.4,671.0 L566.4,670.9 L567.4,670.7 L568.4,670.4 L569.4,670.0 L570.4,669.6 L571.4,669.0 L572.4,668.2 L573.4,667.3 L574.4,666.2 L575.4,664.8 L576.4,663.2 L577.4,661.2 L578.4,658.9 L579.4,656.2 L580.4,653.0 L581.4,649.3 L582.4,645.0 L583.4,640.2 L584.4,634.8 L585.4,628.7 L586.4,622.0 L587.4,614.7 L588.4,606.8 L589.4,598.2 L590.4,589.1 L591.4,579.5 L592.4,569.5 L593.4,559.1 L594.4,548.6 L595.4,538.1 L596.4,527.6 L597.4,517.4 L598.4,507.6 L599.4,498.3 L600.4,489.8 L601.4,482.2 L602.4,475.6 L603.4,470.2 L604.4,466.1 L605.4,463.3 L606.4,461.9 L607.4,462.0 L608.4,463.5 L609.4,466.4 L610.4,470.7 L611.4,476.2 L612.4,482.9 L613.4,490.7 L614.4,499.3 L615.4,508.7 L616.4,518.6 L617.4,528.9 L618.4,539.5 L619.4,550.2 L620.4,560.8 L621.4,571.3 L622.4,581.4 L623.4,591.1 L624.4,600.4 L625.4,609.0 L626.4,617.1 L627.4,624.6 L628.4,631.4 L629.4,637.5 L630.4,643.1 L631.4,648.0 L632.4,652.3 L633.4,656.1 L634.4,659.4 L635.4,662.2 L636.4,664.7 L637.4,666.7 L638.4,668.5 L639.4,669.9 L640.4,671.1 L641.4,672.1 L642.4,672.9 L643.4,673.6 L644.4,674.1 L645.4,674.6 L646.4,674.9 L647.4,675.2 L648.4,675.5 L649.4,675.6 L650.4,675.8 L650.4,676.1 L649.4,676.1 L648.4,676.0 L647.4,676.0 L646.4,676.0 L645.4,675.9 L644.4,675.9 L643.4,675.8 L642.4,675.8 L641.4,675.8 L640.4,675.7 L639.4,675.7 L638.4,675.6 L637.4,675.6 L636.4,675.5 L635.4,675.5 L634.4,675.4 L633.4,675.4 L632.4,675.3 L631.4,675.3 L630.4,675.2 L629.4,675.2 L628.4,675.1 L627.4,675.0 L626.4,675.0 L625.4,674.9 L624.4,674.9 L623.4,674.8 L622.4,674.7 L621.4,674.7 L620.4,674.6 L619.4,674.6 L618.4,674.5 L617.4,674.4 L616.4,674.4 L615.4,674.3 L614.4,674.2 L613.4,674.2 L612.4,674.1 L611.4,674.0 L610.4,674.0 L609.4,673.9 L608.4,673.8 L607.4,673.8 L606.4,673.7 L605.4,673.7 L604.4,673.6 L603.4,673.5 L602.4,673.5 L601.4,673.4 L600.4,673.3 L599.4,673.3 L598.4,673.2 L597.4,673.1 L596.4,673.1 L595.4,673.0 L594.4,673.0 L593.4,672.9 L592.4,672.9 L591.4,672.8 L590.4,672.7 L589.4,672.7 L588.4,672.6 L587.4,672.6 L586.4,672.5 L585.4,672.5 L584.4,672.4 L583.4,672.4 L582.4,672.3 L581.4,672.3 L580.4,672.2 L579.4,672.2 L578.4,672.1 L577.4,672.1 L576.4,672.0 L575.4,672.0 L574.4,672.0 L573.4,671.9 L572.4,671.9 L571.4,671.8 L570.4,671.8 L569.4,671.8 L568.4,671.7 L567.4,671.7 L566.4,671.7 L565.4,671.6 L564.4,671.6 L563.4,671.6Z" fill="url(#xg3)" fill-opacity="0.9" stroke="#8266aa" stroke-width="0.8"/><defs><linearGradient id="xg4" gradientUnits="userSpaceOnUse" x1="0" y1="659.2" x2="0" y2="677.2"><stop offset="0" stop-color="#4aae4a"/><stop offset="1" stop-color="#a8d8a8"/></linearGradient></defs><path d="M624.4,674.5 L625.4,674.5 L626.4,674.5 L627.4,674.5 L628.4,674.5 L629.4,674.4 L630.4,674.4 L631.4,674.3 L632.4,674.2 L633.4,674.1 L634.4,674.0 L635.4,673.8 L636.4,673.6 L637.4,673.4 L638.4,673.2 L639.4,673.0 L640.4,672.7 L641.4,672.4 L642.4,672.1 L643.4,671.7 L644.4,671.3 L645.4,670.9 L646.4,670.5 L647.4,670.0 L648.4,669.5 L649.4,669.0 L650.4,668.5 L651.4,667.9 L652.4,667.4 L653.4,666.8 L654.4,666.2 L655.4,665.6 L656.4,665.0 L657.4,664.4 L658.4,663.9 L659.4,663.3 L660.4,662.7 L661.4,662.2 L662.4,661.7 L663.4,661.3 L664.4,660.8 L665.4,660.4 L666.4,660.1 L667.4,659.8 L668.4,659.6 L669.4,659.4 L670.4,659.3 L671.4,659.2 L672.4,659.2 L673.4,659.3 L674.4,659.4 L675.4,659.5 L676.4,659.8 L677.4,660.1 L678.4,660.4 L679.4,660.8 L680.4,661.2 L681.4,661.7 L682.4,662.2 L683.4,662.7 L684.4,663.3 L685.4,663.9 L686.4,664.5 L687.4,665.1 L688.4,665.8 L689.4,666.4 L690.4,667.0 L691.4,667.6 L692.4,668.3 L693.4,668.9 L694.4,669.5 L695.4,670.0 L696.4,670.6 L697.4,671.1 L698.4,671.6 L699.4,672.1 L700.4,672.6 L701.4,673.0 L702.4,673.4 L703.4,673.8 L704.4,674.1 L705.4,674.4 L706.4,674.7 L707.4,675.0 L708.4,675.2 L709.4,675.5 L710.4,675.7 L711.4,675.8 L712.4,676.0 L713.4,676.2 L714.4,676.3 L715.4,676.4 L716.4,676.5 L717.4,676.6 L718.4,676.7 L719.4,676.7 L720.4,676.8 L720.4,677.1 L719.4,677.1 L718.4,677.1 L717.4,677.1 L716.4,677.1 L715.4,677.1 L714.4,677.1 L713.4,677.1 L712.4,677.1 L711.4,677.1 L710.4,677.1 L709.4,677.1 L708.4,677.1 L707.4,677.1 L706.4,677.1 L705.4,677.1 L704.4,677.1 L703.4,677.0 L702.4,677.0 L701.4,677.0 L700.4,677.0 L699.4,677.0 L698.4,677.0 L697.4,677.0 L696.4,677.0 L695.4,677.0 L694.4,677.0 L693.4,677.0 L692.4,677.0 L691.4,677.0 L690.4,676.9 L689.4,676.9 L688.4,676.9 L687.4,676.9 L686.4,676.9 L685.4,676.9 L684.4,676.9 L683.4,676.9 L682.4,676.9 L681.4,676.8 L680.4,676.8 L679.4,676.8 L678.4,676.8 L677.4,676.8 L676.4,676.8 L675.4,676.8 L674.4,676.7 L673.4,676.7 L672.4,676.7 L671.4,676.7 L670.4,676.7 L669.4,676.6 L668.4,676.6 L667.4,676.6 L666.4,676.6 L665.4,676.6 L664.4,676.5 L663.4,676.5 L662.4,676.5 L661.4,676.5 L660.4,676.4 L659.4,676.4 L658.4,676.4 L657.4,676.4 L656.4,676.3 L655.4,676.3 L654.4,676.3 L653.4,676.2 L652.4,676.2 L651.4,676.2 L650.4,676.1 L649.4,676.1 L648.4,676.0 L647.4,676.0 L646.4,676.0 L645.4,675.9 L644.4,675.9 L643.4,675.8 L642.4,675.8 L641.4,675.8 L640.4,675.7 L639.4,675.7 L638.4,675.6 L637.4,675.6 L636.4,675.5 L635.4,675.5 L634.4,675.4 L633.4,675.4 L632.4,675.3 L631.4,675.3 L630.4,675.2 L629.4,675.2 L628.4,675.1 L627.4,675.0 L626.4,675.0 L625.4,674.9 L624.4,674.9Z" fill="url(#xg4)" fill-opacity="0.9" stroke="#4aae4a" stroke-width="0.8"/><defs><linearGradient id="xg5" gradientUnits="userSpaceOnUse" x1="0" y1="638.6" x2="0" y2="677.2"><stop offset="0" stop-color="#ee8a2e"/><stop offset="1" stop-color="#f6c8a0"/></linearGradient></defs><path d="M659.4,676.1 L660.4,676.0 L661.4,676.0 L662.4,675.9 L663.4,675.8 L664.4,675.7 L665.4,675.5 L666.4,675.4 L667.4,675.1 L668.4,674.9 L669.4,674.6 L670.4,674.3 L671.4,673.9 L672.4,673.4 L673.4,672.9 L674.4,672.4 L675.4,671.8 L676.4,671.1 L677.4,670.3 L678.4,669.4 L679.4,668.5 L680.4,667.5 L681.4,666.4 L682.4,665.3 L683.4,664.1 L684.4,662.8 L685.4,661.4 L686.4,660.0 L687.4,658.5 L688.4,657.0 L689.4,655.5 L690.4,653.9 L691.4,652.4 L692.4,650.8 L693.4,649.3 L694.4,647.8 L695.4,646.4 L696.4,645.1 L697.4,643.8 L698.4,642.6 L699.4,641.6 L700.4,640.7 L701.4,640.0 L702.4,639.4 L703.4,638.9 L704.4,638.7 L705.4,638.6 L706.4,638.6 L707.4,638.9 L708.4,639.3 L709.4,639.9 L710.4,640.6 L711.4,641.5 L712.4,642.5 L713.4,643.6 L714.4,644.9 L715.4,646.2 L716.4,647.6 L717.4,649.1 L718.4,650.6 L719.4,652.2 L720.4,653.8 L721.4,655.3 L722.4,656.9 L723.4,658.4 L724.4,659.9 L725.4,661.4 L726.4,662.7 L727.4,664.1 L728.4,665.3 L729.4,666.5 L730.4,667.6 L731.4,668.7 L732.4,669.6 L733.4,670.5 L734.4,671.3 L735.4,672.0 L736.4,672.7 L737.4,673.3 L738.4,673.8 L739.4,674.3 L740.4,674.7 L741.4,675.1 L742.4,675.4 L743.4,675.7 L744.4,675.9 L745.4,676.1 L746.4,676.3 L747.4,676.4 L748.4,676.6 L749.4,676.7 L750.4,676.8 L751.4,676.8 L751.4,677.2 L750.4,677.2 L749.4,677.2 L748.4,677.2 L747.4,677.2 L746.4,677.2 L745.4,677.2 L744.4,677.2 L743.4,677.2 L742.4,677.2 L741.4,677.2 L740.4,677.2 L739.4,677.2 L738.4,677.2 L737.4,677.2 L736.4,677.2 L735.4,677.2 L734.4,677.2 L733.4,677.2 L732.4,677.2 L731.4,677.1 L730.4,677.1 L729.4,677.1 L728.4,677.1 L727.4,677.1 L726.4,677.1 L725.4,677.1 L724.4,677.1 L723.4,677.1 L722.4,677.1 L721.4,677.1 L720.4,677.1 L719.4,677.1 L718.4,677.1 L717.4,677.1 L716.4,677.1 L715.4,677.1 L714.4,677.1 L713.4,677.1 L712.4,677.1 L711.4,677.1 L710.4,677.1 L709.4,677.1 L708.4,677.1 L707.4,677.1 L706.4,677.1 L705.4,677.1 L704.4,677.1 L703.4,677.0 L702.4,677.0 L701.4,677.0 L700.4,677.0 L699.4,677.0 L698.4,677.0 L697.4,677.0 L696.4,677.0 L695.4,677.0 L694.4,677.0 L693.4,677.0 L692.4,677.0 L691.4,677.0 L690.4,676.9 L689.4,676.9 L688.4,676.9 L687.4,676.9 L686.4,676.9 L685.4,676.9 L684.4,676.9 L683.4,676.9 L682.4,676.9 L681.4,676.8 L680.4,676.8 L679.4,676.8 L678.4,676.8 L677.4,676.8 L676.4,676.8 L675.4,676.8 L674.4,676.7 L673.4,676.7 L672.4,676.7 L671.4,676.7 L670.4,676.7 L669.4,676.6 L668.4,676.6 L667.4,676.6 L666.4,676.6 L665.4,676.6 L664.4,676.5 L663.4,676.5 L662.4,676.5 L661.4,676.5 L660.4,676.4 L659.4,676.4Z" fill="url(#xg5)" fill-opacity="0.9" stroke="#ee8a2e" stroke-width="0.8"/><g fill="#bdbdbd"><circle cx="455.3" cy="665.2" r="4.2"/><circle cx="458.4" cy="664.8" r="4.2"/><circle cx="460.7" cy="666.0" r="4.2"/><circle cx="463.4" cy="667.1" r="4.2"/><circle cx="465.7" cy="664.3" r="4.2"/><circle cx="470.0" cy="662.9" r="4.2"/><circle cx="471.6" cy="664.5" r="4.2"/><circle cx="474.9" cy="666.4" r="4.2"/><circle cx="477.9" cy="663.7" r="4.2"/><circle cx="481.6" cy="664.5" r="4.2"/><circle cx="483.8" cy="663.9" r="4.2"/><circle cx="486.8" cy="661.9" r="4.2"/><circle cx="489.5" cy="661.8" r="4.2"/><circle cx="494.5" cy="660.8" r="4.2"/><circle cx="495.7" cy="664.8" r="4.2"/><circle cx="498.7" cy="660.0" r="4.2"/><circle cx="503.1" cy="663.7" r="4.2"/><circle cx="505.6" cy="660.6" r="4.2"/><circle cx="508.4" cy="661.0" r="4.2"/><circle cx="512.6" cy="664.9" r="4.2"/><circle cx="515.1" cy="663.5" r="4.2"/><circle cx="518.4" cy="667.2" r="4.2"/><circle cx="520.3" cy="663.1" r="4.2"/><circle cx="523.2" cy="668.5" r="4.2"/><circle cx="526.5" cy="667.7" r="4.2"/><circle cx="529.4" cy="666.8" r="4.2"/><circle cx="530.4" cy="661.6" r="4.2"/><circle cx="532.8" cy="660.2" r="4.2"/><circle cx="535.7" cy="662.6" r="4.2"/><circle cx="537.6" cy="659.8" r="4.2"/><circle cx="540.1" cy="656.5" r="4.2"/><circle cx="542.4" cy="655.1" r="4.2"/><circle cx="542.4" cy="651.2" r="4.2"/><circle cx="544.3" cy="645.2" r="4.2"/><circle cx="548.1" cy="642.7" r="4.2"/><circle cx="548.7" cy="636.9" r="4.2"/><circle cx="550.8" cy="635.7" r="4.2"/><circle cx="553.0" cy="635.1" r="4.2"/><circle cx="555.4" cy="631.3" r="4.2"/><circle cx="558.5" cy="628.4" r="4.2"/><circle cx="558.5" cy="628.2" r="4.2"/><circle cx="562.0" cy="626.2" r="4.2"/><circle cx="565.1" cy="621.6" r="4.2"/><circle cx="569.5" cy="623.2" r="4.2"/><circle cx="570.2" cy="622.2" r="4.2"/><circle cx="573.5" cy="624.7" r="4.2"/><circle cx="578.2" cy="622.7" r="4.2"/><circle cx="580.3" cy="622.9" r="4.2"/><circle cx="582.2" cy="623.4" r="4.2"/><circle cx="585.2" cy="618.3" r="4.2"/><circle cx="587.1" cy="617.6" r="4.2"/><circle cx="586.7" cy="609.7" r="4.2"/><circle cx="588.9" cy="607.4" r="4.2"/><circle cx="589.1" cy="600.1" r="4.2"/><circle cx="591.5" cy="594.7" r="4.2"/><circle cx="592.4" cy="582.6" r="4.2"/><circle cx="591.4" cy="572.4" r="4.2"/><circle cx="593.8" cy="563.7" r="4.2"/><circle cx="595.5" cy="554.4" r="4.2"/><circle cx="596.0" cy="541.4" r="4.2"/><circle cx="596.9" cy="528.5" r="4.2"/><circle cx="598.5" cy="516.8" r="4.2"/><circle cx="597.4" cy="504.2" r="4.2"/><circle cx="598.7" cy="494.3" r="4.2"/><circle cx="601.1" cy="485.6" r="4.2"/><circle cx="601.3" cy="475.3" r="4.2"/><circle cx="601.8" cy="471.7" r="4.2"/><circle cx="602.8" cy="462.3" r="4.2"/><circle cx="605.1" cy="459.6" r="4.2"/><circle cx="605.7" cy="457.1" r="4.2"/><circle cx="610.1" cy="462.9" r="4.2"/><circle cx="612.4" cy="466.3" r="4.2"/><circle cx="613.5" cy="467.7" r="4.2"/><circle cx="612.9" cy="477.7" r="4.2"/><circle cx="614.8" cy="488.3" r="4.2"/><circle cx="614.5" cy="499.3" r="4.2"/><circle cx="616.3" cy="507.2" r="4.2"/><circle cx="616.8" cy="516.4" r="4.2"/><circle cx="618.5" cy="521.8" r="4.2"/><circle cx="620.3" cy="532.2" r="4.2"/><circle cx="620.2" cy="541.4" r="4.2"/><circle cx="621.5" cy="551.1" r="4.2"/><circle cx="623.1" cy="561.5" r="4.2"/><circle cx="622.7" cy="567.9" r="4.2"/><circle cx="625.0" cy="577.2" r="4.2"/><circle cx="626.6" cy="587.4" r="4.2"/><circle cx="626.2" cy="594.8" r="4.2"/><circle cx="627.0" cy="606.3" r="4.2"/><circle cx="628.3" cy="616.2" r="4.2"/><circle cx="628.8" cy="626.4" r="4.2"/><circle cx="629.9" cy="632.1" r="4.2"/><circle cx="631.0" cy="638.0" r="4.2"/><circle cx="632.6" cy="644.8" r="4.2"/><circle cx="633.5" cy="649.8" r="4.2"/><circle cx="634.7" cy="650.5" r="4.2"/><circle cx="635.7" cy="654.1" r="4.2"/><circle cx="636.7" cy="655.7" r="4.2"/><circle cx="639.1" cy="658.0" r="4.2"/><circle cx="639.9" cy="661.8" r="4.2"/><circle cx="641.4" cy="662.0" r="4.2"/><circle cx="644.2" cy="663.5" r="4.2"/><circle cx="647.3" cy="661.9" r="4.2"/><circle cx="651.0" cy="661.4" r="4.2"/><circle cx="655.1" cy="661.6" r="4.2"/><circle cx="656.6" cy="660.4" r="4.2"/><circle cx="661.0" cy="660.5" r="4.2"/><circle cx="663.7" cy="657.1" r="4.2"/><circle cx="665.6" cy="655.7" r="4.2"/><circle cx="670.6" cy="654.9" r="4.2"/><circle cx="671.6" cy="654.0" r="4.2"/><circle cx="676.4" cy="648.9" r="4.2"/><circle cx="679.0" cy="651.0" r="4.2"/><circle cx="679.5" cy="648.7" r="4.2"/><circle cx="681.7" cy="647.4" r="4.2"/><circle cx="684.2" cy="642.4" r="4.2"/><circle cx="687.2" cy="640.2" r="4.2"/><circle cx="690.0" cy="639.2" r="4.2"/><circle cx="693.0" cy="639.6" r="4.2"/><circle cx="696.5" cy="638.0" r="4.2"/><circle cx="698.4" cy="635.4" r="4.2"/><circle cx="702.0" cy="634.2" r="4.2"/><circle cx="705.1" cy="633.8" r="4.2"/><circle cx="706.8" cy="633.4" r="4.2"/><circle cx="709.5" cy="636.7" r="4.2"/><circle cx="714.2" cy="637.4" r="4.2"/><circle cx="714.7" cy="639.7" r="4.2"/><circle cx="717.6" cy="643.8" r="4.2"/><circle cx="720.3" cy="644.9" r="4.2"/><circle cx="720.8" cy="648.1" r="4.2"/><circle cx="723.5" cy="647.7" r="4.2"/><circle cx="726.1" cy="654.6" r="4.2"/><circle cx="727.7" cy="655.1" r="4.2"/><circle cx="728.8" cy="661.9" r="4.2"/><circle cx="731.2" cy="661.2" r="4.2"/><circle cx="734.6" cy="665.6" r="4.2"/><circle cx="736.3" cy="668.5" r="4.2"/><circle cx="737.3" cy="671.3" r="4.2"/><circle cx="739.0" cy="671.1" r="4.2"/><circle cx="741.6" cy="674.5" r="4.2"/><circle cx="744.7" cy="671.8" r="4.2"/><circle cx="748.1" cy="675.0" r="4.2"/><circle cx="751.0" cy="673.0" r="4.2"/><circle cx="754.2" cy="672.6" r="4.2"/><circle cx="757.3" cy="676.8" r="4.2"/></g><path d="M451.4,667.0 L452.4,666.9 L453.4,666.8 L454.4,666.7 L455.4,666.6 L456.4,666.5 L457.4,666.4 L458.4,666.2 L459.4,666.1 L460.4,666.0 L461.4,665.9 L462.4,665.8 L463.4,665.7 L464.4,665.6 L465.4,665.5 L466.4,665.4 L467.4,665.3 L468.4,665.2 L469.4,665.1 L470.4,665.0 L471.4,664.9 L472.4,664.8 L473.4,664.7 L474.4,664.6 L475.4,664.4 L476.4,664.3 L477.4,664.2 L478.4,664.1 L479.4,664.0 L480.4,663.9 L481.4,663.8 L482.4,663.7 L483.4,663.5 L484.4,663.4 L485.4,663.3 L486.4,663.2 L487.4,663.1 L488.4,662.9 L489.4,662.8 L490.4,662.7 L491.4,662.7 L492.4,662.6 L493.4,662.5 L494.4,662.5 L495.4,662.4 L496.4,662.4 L497.4,662.4 L498.4,662.4 L499.4,662.5 L500.4,662.5 L501.4,662.6 L502.4,662.7 L503.4,662.8 L504.4,663.0 L505.4,663.1 L506.4,663.3 L507.4,663.4 L508.4,663.6 L509.4,663.8 L510.4,664.0 L511.4,664.1 L512.4,664.3 L513.4,664.5 L514.4,664.7 L515.4,664.9 L516.4,665.1 L517.4,665.2 L518.4,665.4 L519.4,665.5 L520.4,665.7 L521.4,665.8 L522.4,665.9 L523.4,666.0 L524.4,666.0 L525.4,666.1 L526.4,666.1 L527.4,666.0 L528.4,665.8 L529.4,665.4 L530.4,664.7 L531.4,664.0 L532.4,663.2 L533.4,662.2 L534.4,661.2 L535.4,660.2 L536.4,659.1 L537.4,658.1 L538.4,657.0 L539.4,655.8 L540.4,654.4 L541.4,652.9 L542.4,651.2 L543.4,649.5 L544.4,647.7 L545.4,645.9 L546.4,644.2 L547.4,642.4 L548.4,640.8 L549.4,639.2 L550.4,637.8 L551.4,636.4 L552.4,635.0 L553.4,633.5 L554.4,632.1 L555.4,630.6 L556.4,629.3 L557.4,628.0 L558.4,626.9 L559.4,625.9 L560.4,625.2 L561.4,624.7 L562.4,624.4 L563.4,624.1 L564.4,623.9 L565.4,623.7 L566.4,623.5 L567.4,623.3 L568.4,623.1 L569.4,623.0 L570.4,622.9 L571.4,622.8 L572.4,622.8 L573.4,622.8 L574.4,622.8 L575.4,622.8 L576.4,622.8 L577.4,622.8 L578.4,622.8 L579.4,622.8 L580.4,622.8 L581.4,622.8 L582.4,622.7 L583.4,621.9 L584.4,620.2 L585.4,617.9 L586.4,615.1 L587.4,612.0 L588.4,607.7 L589.4,601.0 L590.4,592.5 L591.4,583.1 L592.4,573.3 L593.4,563.5 L594.4,552.3 L595.4,540.0 L596.4,527.4 L597.4,515.4 L598.4,504.8 L599.4,495.6 L600.4,486.3 L601.4,477.5 L602.4,470.1 L603.4,464.6 L604.4,461.8 L605.4,460.0 L606.4,458.9 L607.4,458.8 L608.4,459.7 L609.4,461.2 L610.4,463.3 L611.4,465.8 L612.4,470.0 L613.4,477.3 L614.4,486.6 L615.4,496.8 L616.4,506.8 L617.4,515.6 L618.4,524.2 L619.4,532.9 L620.4,541.6 L621.4,550.4 L622.4,559.1 L623.4,567.9 L624.4,576.7 L625.4,586.1 L626.4,596.3 L627.4,606.7 L628.4,616.9 L629.4,626.2 L630.4,634.0 L631.4,639.9 L632.4,643.8 L633.4,647.2 L634.4,650.3 L635.4,652.9 L636.4,655.2 L637.4,657.2 L638.4,658.8 L639.4,660.1 L640.4,661.3 L641.4,662.4 L642.4,663.3 L643.4,664.0 L644.4,664.3 L645.4,664.3 L646.4,664.1 L647.4,663.9 L648.4,663.7 L649.4,663.3 L650.4,662.9 L651.4,662.5 L652.4,662.1 L653.4,661.6 L654.4,661.1 L655.4,660.6 L656.4,660.2 L657.4,659.7 L658.4,659.3 L659.4,658.9 L660.4,658.5 L661.4,658.0 L662.4,657.6 L663.4,657.1 L664.4,656.7 L665.4,656.2 L666.4,655.7 L667.4,655.2 L668.4,654.7 L669.4,654.2 L670.4,653.7 L671.4,653.1 L672.4,652.6 L673.4,652.0 L674.4,651.4 L675.4,650.9 L676.4,650.3 L677.4,649.6 L678.4,648.9 L679.4,648.2 L680.4,647.4 L681.4,646.6 L682.4,645.8 L683.4,645.0 L684.4,644.2 L685.4,643.5 L686.4,642.8 L687.4,642.1 L688.4,641.5 L689.4,640.9 L690.4,640.4 L691.4,639.8 L692.4,639.2 L693.4,638.6 L694.4,638.0 L695.4,637.4 L696.4,636.9 L697.4,636.4 L698.4,636.0 L699.4,635.6 L700.4,635.3 L701.4,635.0 L702.4,634.9 L703.4,634.8 L704.4,634.8 L705.4,635.0 L706.4,635.2 L707.4,635.6 L708.4,636.0 L709.4,636.5 L710.4,637.0 L711.4,637.6 L712.4,638.3 L713.4,639.0 L714.4,639.7 L715.4,640.4 L716.4,641.1 L717.4,642.0 L718.4,643.0 L719.4,644.2 L720.4,645.6 L721.4,647.0 L722.4,648.6 L723.4,650.2 L724.4,651.9 L725.4,653.5 L726.4,655.2 L727.4,656.7 L728.4,658.2 L729.4,659.6 L730.4,660.9 L731.4,662.3 L732.4,663.8 L733.4,665.2 L734.4,666.7 L735.4,668.1 L736.4,669.3 L737.4,670.4 L738.4,671.4 L739.4,672.1 L740.4,672.6 L741.4,672.8 L742.4,673.1 L743.4,673.3 L744.4,673.5 L745.4,673.7 L746.4,673.9 L747.4,674.0 L748.4,674.1 L749.4,674.3 L750.4,674.4 L751.4,674.5 L752.4,674.6 L753.4,674.7 L754.4,674.8 L755.4,674.9 L756.4,675.1 L757.4,675.2" stroke="#7a7a7a" stroke-width="4.2" fill="none" stroke-linejoin="round" stroke-linecap="round" /><rect x="449.4" y="427.8" width="310.6" height="269.7" fill="none" stroke="#000" stroke-width="3.4"/><line x1="488.0" y1="699" x2="488.0" y2="706" stroke="#000" stroke-width="3"/><line x1="565.8" y1="699" x2="565.8" y2="706" stroke="#000" stroke-width="3"/><line x1="643.5" y1="699" x2="643.5" y2="706" stroke="#000" stroke-width="3"/><line x1="721.2" y1="699" x2="721.2" y2="706" stroke="#000" stroke-width="3"/><line x1="526.9" y1="699" x2="526.9" y2="703" stroke="#000" stroke-width="3"/><line x1="604.6" y1="699" x2="604.6" y2="703" stroke="#000" stroke-width="3"/><line x1="682.3" y1="699" x2="682.3" y2="703" stroke="#000" stroke-width="3"/><line x1="760.1" y1="699" x2="760.1" y2="703" stroke="#000" stroke-width="3"/><text x="488.0" y="732.0" font-family="'Liberation Serif', serif" font-size="23.8" font-weight="bold" fill="#000" text-anchor="middle" ><tspan>296</tspan></text><text x="565.8" y="732.0" font-family="'Liberation Serif', serif" font-size="23.8" font-weight="bold" fill="#000" text-anchor="middle" ><tspan>292</tspan></text><text x="643.5" y="732.0" font-family="'Liberation Serif', serif" font-size="23.8" font-weight="bold" fill="#000" text-anchor="middle" ><tspan>288</tspan></text><text x="721.2" y="732.0" font-family="'Liberation Serif', serif" font-size="23.8" font-weight="bold" fill="#000" text-anchor="middle" ><tspan>284</tspan></text><text x="601.0" y="769.0" font-family="'Liberation Serif', serif" font-size="23.3" font-weight="bold" fill="#000" text-anchor="middle" ><tspan>Binding energy (eV)</tspan></text><text x="427.0" y="554.6" font-family="'Liberation Serif', serif" font-size="29" font-weight="bold" fill="#000" text-anchor="middle" transform="rotate(-90 427 554.6)"><tspan>Intensity (a.u.)</tspan></text><text x="393.0" y="438.0" font-family="'Liberation Serif', serif" font-size="39" font-weight="bold" fill="#000" text-anchor="start" ><tspan>(d)</tspan></text><text x="454.7" y="455.0" font-family="'Liberation Serif', serif" font-size="24" font-weight="bold" fill="#000" text-anchor="start" ><tspan>C 1s</tspan></text><text x="749.7" y="455.0" font-family="'Liberation Serif', serif" font-size="22.3" font-weight="bold" fill="#000" text-anchor="end" ><tspan>CFO</tspan></text><text x="483.3" y="524.2" font-family="'Liberation Serif', serif" font-size="18" font-weight="bold" fill="#7e5da6" text-anchor="start" ><tspan>Covalent C-F</tspan></text><text x="526.7" y="613.6" font-family="'Liberation Serif', serif" font-size="18" font-weight="bold" fill="#c8c020" text-anchor="start" ><tspan>C-F</tspan><tspan font-size="12.6" dy="5.04">2</tspan></text><text x="481.5" y="651.4" font-family="'Liberation Serif', serif" font-size="18" font-weight="bold" fill="#555555" text-anchor="start" ><tspan>C-F</tspan><tspan font-size="12.6" dy="5.04">3</tspan></text><text x="645.6" y="638.5" font-family="'Liberation Serif', serif" font-size="18" font-weight="bold" fill="#3aaa3a" text-anchor="start" ><tspan>C-O</tspan></text><text x="750.7" y="597.0" font-family="'Liberation Serif', serif" font-size="17" font-weight="bold" fill="#f08a30" text-anchor="end" ><tspan>C-C/C=C</tspan></text><text x="747.9" y="621.0" font-family="'Liberation Serif', serif" font-size="16.1" font-weight="bold" fill="#f08a30" text-anchor="end" ><tspan>284.8 eV</tspan></text><defs><linearGradient id="xg6" gradientUnits="userSpaceOnUse" x1="0" y1="545.7" x2="0" y2="678.9"><stop offset="0" stop-color="#f0e44a"/><stop offset="1" stop-color="#f6f2b8"/></linearGradient></defs><path d="M878.4,674.6 L879.4,674.6 L880.4,674.5 L881.4,674.5 L882.4,674.4 L883.4,674.3 L884.4,674.2 L885.4,674.1 L886.4,674.0 L887.4,673.9 L888.4,673.7 L889.4,673.6 L890.4,673.4 L891.4,673.2 L892.4,672.9 L893.4,672.7 L894.4,672.4 L895.4,672.1 L896.4,671.7 L897.4,671.3 L898.4,670.8 L899.4,670.4 L900.4,669.8 L901.4,669.2 L902.4,668.6 L903.4,667.9 L904.4,667.1 L905.4,666.3 L906.4,665.3 L907.4,664.4 L908.4,663.3 L909.4,662.2 L910.4,660.9 L911.4,659.6 L912.4,658.2 L913.4,656.7 L914.4,655.1 L915.4,653.4 L916.4,651.6 L917.4,649.7 L918.4,647.6 L919.4,645.5 L920.4,643.3 L921.4,641.0 L922.4,638.5 L923.4,636.0 L924.4,633.3 L925.4,630.6 L926.4,627.8 L927.4,624.9 L928.4,621.9 L929.4,618.8 L930.4,615.7 L931.4,612.5 L932.4,609.2 L933.4,605.9 L934.4,602.6 L935.4,599.3 L936.4,595.9 L937.4,592.6 L938.4,589.2 L939.4,585.9 L940.4,582.6 L941.4,579.4 L942.4,576.3 L943.4,573.2 L944.4,570.3 L945.4,567.4 L946.4,564.7 L947.4,562.1 L948.4,559.7 L949.4,557.4 L950.4,555.3 L951.4,553.4 L952.4,551.7 L953.4,550.1 L954.4,548.8 L955.4,547.7 L956.4,546.9 L957.4,546.3 L958.4,545.9 L959.4,545.7 L960.4,545.8 L961.4,546.1 L962.4,546.6 L963.4,547.4 L964.4,548.4 L965.4,549.7 L966.4,551.1 L967.4,552.8 L968.4,554.6 L969.4,556.7 L970.4,558.9 L971.4,561.3 L972.4,563.9 L973.4,566.6 L974.4,569.4 L975.4,572.3 L976.4,575.4 L977.4,578.5 L978.4,581.8 L979.4,585.1 L980.4,588.4 L981.4,591.8 L982.4,595.2 L983.4,598.6 L984.4,602.0 L985.4,605.4 L986.4,608.7 L987.4,612.1 L988.4,615.3 L989.4,618.6 L990.4,621.7 L991.4,624.8 L992.4,627.8 L993.4,630.8 L994.4,633.6 L995.4,636.3 L996.4,639.0 L997.4,641.5 L998.4,644.0 L999.4,646.3 L1000.4,648.5 L1001.4,650.7 L1002.4,652.7 L1003.4,654.6 L1004.4,656.4 L1005.4,658.1 L1006.4,659.7 L1007.4,661.2 L1008.4,662.6 L1009.4,664.0 L1010.4,665.2 L1011.4,666.4 L1012.4,667.4 L1013.4,668.4 L1014.4,669.3 L1015.4,670.2 L1016.4,671.0 L1017.4,671.7 L1018.4,672.3 L1019.4,673.0 L1020.4,673.5 L1021.4,674.0 L1022.4,674.5 L1023.4,674.9 L1024.4,675.3 L1025.4,675.6 L1026.4,675.9 L1027.4,676.2 L1028.4,676.5 L1029.4,676.7 L1030.4,676.9 L1031.4,677.1 L1032.4,677.3 L1033.4,677.4 L1034.4,677.5 L1035.4,677.7 L1036.4,677.8 L1037.4,677.9 L1038.4,678.0 L1039.4,678.0 L1040.4,678.1 L1041.4,678.2 L1041.4,678.5 L1040.4,678.5 L1039.4,678.4 L1038.4,678.4 L1037.4,678.4 L1036.4,678.4 L1035.4,678.4 L1034.4,678.4 L1033.4,678.4 L1032.4,678.4 L1031.4,678.3 L1030.4,678.3 L1029.4,678.3 L1028.4,678.3 L1027.4,678.3 L1026.4,678.3 L1025.4,678.2 L1024.4,678.2 L1023.4,678.2 L1022.4,678.2 L1021.4,678.2 L1020.4,678.2 L1019.4,678.2 L1018.4,678.1 L1017.4,678.1 L1016.4,678.1 L1015.4,678.1 L1014.4,678.1 L1013.4,678.0 L1012.4,678.0 L1011.4,678.0 L1010.4,678.0 L1009.4,678.0 L1008.4,677.9 L1007.4,677.9 L1006.4,677.9 L1005.4,677.9 L1004.4,677.9 L1003.4,677.8 L1002.4,677.8 L1001.4,677.8 L1000.4,677.8 L999.4,677.7 L998.4,677.7 L997.4,677.7 L996.4,677.7 L995.4,677.7 L994.4,677.6 L993.4,677.6 L992.4,677.6 L991.4,677.6 L990.4,677.5 L989.4,677.5 L988.4,677.5 L987.4,677.5 L986.4,677.4 L985.4,677.4 L984.4,677.4 L983.4,677.4 L982.4,677.3 L981.4,677.3 L980.4,677.3 L979.4,677.2 L978.4,677.2 L977.4,677.2 L976.4,677.2 L975.4,677.1 L974.4,677.1 L973.4,677.1 L972.4,677.1 L971.4,677.0 L970.4,677.0 L969.4,677.0 L968.4,676.9 L967.4,676.9 L966.4,676.9 L965.4,676.9 L964.4,676.8 L963.4,676.8 L962.4,676.8 L961.4,676.7 L960.4,676.7 L959.4,676.7 L958.4,676.7 L957.4,676.6 L956.4,676.6 L955.4,676.6 L954.4,676.5 L953.4,676.5 L952.4,676.5 L951.4,676.5 L950.4,676.4 L949.4,676.4 L948.4,676.4 L947.4,676.3 L946.4,676.3 L945.4,676.3 L944.4,676.3 L943.4,676.2 L942.4,676.2 L941.4,676.2 L940.4,676.1 L939.4,676.1 L938.4,676.1 L937.4,676.1 L936.4,676.0 L935.4,676.0 L934.4,676.0 L933.4,676.0 L932.4,675.9 L931.4,675.9 L930.4,675.9 L929.4,675.9 L928.4,675.8 L927.4,675.8 L926.4,675.8 L925.4,675.8 L924.4,675.7 L923.4,675.7 L922.4,675.7 L921.4,675.7 L920.4,675.6 L919.4,675.6 L918.4,675.6 L917.4,675.6 L916.4,675.6 L915.4,675.5 L914.4,675.5 L913.4,675.5 L912.4,675.5 L911.4,675.5 L910.4,675.4 L909.4,675.4 L908.4,675.4 L907.4,675.4 L906.4,675.4 L905.4,675.3 L904.4,675.3 L903.4,675.3 L902.4,675.3 L901.4,675.3 L900.4,675.2 L899.4,675.2 L898.4,675.2 L897.4,675.2 L896.4,675.2 L895.4,675.2 L894.4,675.1 L893.4,675.1 L892.4,675.1 L891.4,675.1 L890.4,675.1 L889.4,675.1 L888.4,675.1 L887.4,675.0 L886.4,675.0 L885.4,675.0 L884.4,675.0 L883.4,675.0 L882.4,675.0 L881.4,675.0 L880.4,675.0 L879.4,674.9 L878.4,674.9Z" fill="url(#xg6)" fill-opacity="0.9" stroke="#f0e44a" stroke-width="0.8"/><defs><linearGradient id="xg7" gradientUnits="userSpaceOnUse" x1="0" y1="608.0" x2="0" y2="678.9"><stop offset="0" stop-color="#8b5a2b"/><stop offset="1" stop-color="#e6c0a0"/></linearGradient></defs><path d="M858.4,674.4 L859.4,674.4 L860.4,674.4 L861.4,674.3 L862.4,674.2 L863.4,674.2 L864.4,674.1 L865.4,674.0 L866.4,673.9 L867.4,673.8 L868.4,673.7 L869.4,673.6 L870.4,673.4 L871.4,673.2 L872.4,673.1 L873.4,672.8 L874.4,672.6 L875.4,672.4 L876.4,672.1 L877.4,671.8 L878.4,671.4 L879.4,671.1 L880.4,670.7 L881.4,670.3 L882.4,669.8 L883.4,669.3 L884.4,668.7 L885.4,668.1 L886.4,667.5 L887.4,666.8 L888.4,666.1 L889.4,665.3 L890.4,664.5 L891.4,663.6 L892.4,662.7 L893.4,661.7 L894.4,660.6 L895.4,659.5 L896.4,658.4 L897.4,657.2 L898.4,655.9 L899.4,654.6 L900.4,653.2 L901.4,651.8 L902.4,650.4 L903.4,648.9 L904.4,647.3 L905.4,645.7 L906.4,644.1 L907.4,642.4 L908.4,640.8 L909.4,639.1 L910.4,637.3 L911.4,635.6 L912.4,633.9 L913.4,632.1 L914.4,630.4 L915.4,628.7 L916.4,627.0 L917.4,625.4 L918.4,623.7 L919.4,622.2 L920.4,620.6 L921.4,619.2 L922.4,617.8 L923.4,616.4 L924.4,615.2 L925.4,614.0 L926.4,612.9 L927.4,611.9 L928.4,611.0 L929.4,610.3 L930.4,609.6 L931.4,609.0 L932.4,608.6 L933.4,608.3 L934.4,608.1 L935.4,608.0 L936.4,608.1 L937.4,608.2 L938.4,608.5 L939.4,609.0 L940.4,609.5 L941.4,610.1 L942.4,610.9 L943.4,611.8 L944.4,612.8 L945.4,613.8 L946.4,615.0 L947.4,616.3 L948.4,617.6 L949.4,619.0 L950.4,620.5 L951.4,622.1 L952.4,623.7 L953.4,625.3 L954.4,627.0 L955.4,628.7 L956.4,630.5 L957.4,632.2 L958.4,634.0 L959.4,635.8 L960.4,637.6 L961.4,639.3 L962.4,641.1 L963.4,642.9 L964.4,644.6 L965.4,646.3 L966.4,647.9 L967.4,649.5 L968.4,651.1 L969.4,652.6 L970.4,654.1 L971.4,655.6 L972.4,657.0 L973.4,658.3 L974.4,659.6 L975.4,660.8 L976.4,662.0 L977.4,663.1 L978.4,664.2 L979.4,665.2 L980.4,666.1 L981.4,667.0 L982.4,667.9 L983.4,668.7 L984.4,669.4 L985.4,670.1 L986.4,670.8 L987.4,671.4 L988.4,672.0 L989.4,672.5 L990.4,673.0 L991.4,673.5 L992.4,673.9 L993.4,674.3 L994.4,674.6 L995.4,675.0 L996.4,675.3 L997.4,675.5 L998.4,675.8 L999.4,676.0 L1000.4,676.2 L1001.4,676.4 L1002.4,676.6 L1003.4,676.8 L1004.4,676.9 L1005.4,677.0 L1006.4,677.2 L1007.4,677.3 L1008.4,677.4 L1009.4,677.5 L1010.4,677.5 L1011.4,677.6 L1012.4,677.7 L1012.4,678.0 L1011.4,678.0 L1010.4,678.0 L1009.4,678.0 L1008.4,677.9 L1007.4,677.9 L1006.4,677.9 L1005.4,677.9 L1004.4,677.9 L1003.4,677.8 L1002.4,677.8 L1001.4,677.8 L1000.4,677.8 L999.4,677.7 L998.4,677.7 L997.4,677.7 L996.4,677.7 L995.4,677.7 L994.4,677.6 L993.4,677.6 L992.4,677.6 L991.4,677.6 L990.4,677.5 L989.4,677.5 L988.4,677.5 L987.4,677.5 L986.4,677.4 L985.4,677.4 L984.4,677.4 L983.4,677.4 L982.4,677.3 L981.4,677.3 L980.4,677.3 L979.4,677.2 L978.4,677.2 L977.4,677.2 L976.4,677.2 L975.4,677.1 L974.4,677.1 L973.4,677.1 L972.4,677.1 L971.4,677.0 L970.4,677.0 L969.4,677.0 L968.4,676.9 L967.4,676.9 L966.4,676.9 L965.4,676.9 L964.4,676.8 L963.4,676.8 L962.4,676.8 L961.4,676.7 L960.4,676.7 L959.4,676.7 L958.4,676.7 L957.4,676.6 L956.4,676.6 L955.4,676.6 L954.4,676.5 L953.4,676.5 L952.4,676.5 L951.4,676.5 L950.4,676.4 L949.4,676.4 L948.4,676.4 L947.4,676.3 L946.4,676.3 L945.4,676.3 L944.4,676.3 L943.4,676.2 L942.4,676.2 L941.4,676.2 L940.4,676.1 L939.4,676.1 L938.4,676.1 L937.4,676.1 L936.4,676.0 L935.4,676.0 L934.4,676.0 L933.4,676.0 L932.4,675.9 L931.4,675.9 L930.4,675.9 L929.4,675.9 L928.4,675.8 L927.4,675.8 L926.4,675.8 L925.4,675.8 L924.4,675.7 L923.4,675.7 L922.4,675.7 L921.4,675.7 L920.4,675.6 L919.4,675.6 L918.4,675.6 L917.4,675.6 L916.4,675.6 L915.4,675.5 L914.4,675.5 L913.4,675.5 L912.4,675.5 L911.4,675.5 L910.4,675.4 L909.4,675.4 L908.4,675.4 L907.4,675.4 L906.4,675.4 L905.4,675.3 L904.4,675.3 L903.4,675.3 L902.4,675.3 L901.4,675.3 L900.4,675.2 L899.4,675.2 L898.4,675.2 L897.4,675.2 L896.4,675.2 L895.4,675.2 L894.4,675.1 L893.4,675.1 L892.4,675.1 L891.4,675.1 L890.4,675.1 L889.4,675.1 L888.4,675.1 L887.4,675.0 L886.4,675.0 L885.4,675.0 L884.4,675.0 L883.4,675.0 L882.4,675.0 L881.4,675.0 L880.4,675.0 L879.4,674.9 L878.4,674.9 L877.4,674.9 L876.4,674.9 L875.4,674.9 L874.4,674.9 L873.4,674.9 L872.4,674.9 L871.4,674.9 L870.4,674.8 L869.4,674.8 L868.4,674.8 L867.4,674.8 L866.4,674.8 L865.4,674.8 L864.4,674.8 L863.4,674.8 L862.4,674.8 L861.4,674.8 L860.4,674.8 L859.4,674.7 L858.4,674.7Z" fill="url(#xg7)" fill-opacity="0.9" stroke="#d07030" stroke-width="0.8"/><defs><linearGradient id="xg8" gradientUnits="userSpaceOnUse" x1="0" y1="653.4" x2="0" y2="678.9"><stop offset="0" stop-color="#55aa55"/><stop offset="1" stop-color="#b8e0b8"/></linearGradient></defs><path d="M949.4,676.1 L950.4,676.1 L951.4,676.1 L952.4,676.1 L953.4,676.0 L954.4,676.0 L955.4,676.0 L956.4,676.0 L957.4,675.9 L958.4,675.9 L959.4,675.9 L960.4,675.8 L961.4,675.8 L962.4,675.7 L963.4,675.7 L964.4,675.6 L965.4,675.5 L966.4,675.4 L967.4,675.3 L968.4,675.2 L969.4,675.1 L970.4,675.0 L971.4,674.9 L972.4,674.8 L973.4,674.6 L974.4,674.5 L975.4,674.3 L976.4,674.1 L977.4,673.9 L978.4,673.7 L979.4,673.5 L980.4,673.3 L981.4,673.1 L982.4,672.8 L983.4,672.6 L984.4,672.3 L985.4,672.0 L986.4,671.7 L987.4,671.4 L988.4,671.1 L989.4,670.8 L990.4,670.4 L991.4,670.1 L992.4,669.7 L993.4,669.3 L994.4,668.9 L995.4,668.5 L996.4,668.1 L997.4,667.7 L998.4,667.3 L999.4,666.8 L1000.4,666.4 L1001.4,665.9 L1002.4,665.5 L1003.4,665.0 L1004.4,664.5 L1005.4,664.0 L1006.4,663.5 L1007.4,663.1 L1008.4,662.6 L1009.4,662.1 L1010.4,661.6 L1011.4,661.1 L1012.4,660.7 L1013.4,660.2 L1014.4,659.7 L1015.4,659.3 L1016.4,658.8 L1017.4,658.4 L1018.4,657.9 L1019.4,657.5 L1020.4,657.1 L1021.4,656.7 L1022.4,656.4 L1023.4,656.0 L1024.4,655.7 L1025.4,655.4 L1026.4,655.1 L1027.4,654.8 L1028.4,654.5 L1029.4,654.3 L1030.4,654.1 L1031.4,653.9 L1032.4,653.8 L1033.4,653.7 L1034.4,653.6 L1035.4,653.5 L1036.4,653.4 L1037.4,653.4 L1038.4,653.4 L1039.4,653.5 L1040.4,653.5 L1041.4,653.6 L1042.4,653.7 L1043.4,653.9 L1044.4,654.1 L1045.4,654.3 L1046.4,654.5 L1047.4,654.7 L1048.4,655.0 L1049.4,655.3 L1050.4,655.6 L1051.4,655.9 L1052.4,656.3 L1053.4,656.7 L1054.4,657.1 L1055.4,657.5 L1056.4,657.9 L1057.4,658.3 L1058.4,658.8 L1059.4,659.3 L1060.4,659.7 L1061.4,660.2 L1062.4,660.7 L1063.4,661.2 L1064.4,661.7 L1065.4,662.2 L1066.4,662.7 L1067.4,663.2 L1068.4,663.8 L1069.4,664.3 L1070.4,664.8 L1071.4,665.3 L1072.4,665.8 L1073.4,666.3 L1074.4,666.8 L1075.4,667.3 L1076.4,667.7 L1077.4,668.2 L1078.4,668.7 L1079.4,669.1 L1080.4,669.6 L1081.4,670.0 L1082.4,670.4 L1083.4,670.8 L1084.4,671.2 L1085.4,671.6 L1086.4,672.0 L1087.4,672.4 L1088.4,672.7 L1089.4,673.1 L1090.4,673.4 L1091.4,673.7 L1092.4,674.0 L1093.4,674.3 L1094.4,674.6 L1095.4,674.8 L1096.4,675.1 L1097.4,675.3 L1098.4,675.6 L1099.4,675.8 L1100.4,676.0 L1101.4,676.2 L1102.4,676.4 L1103.4,676.6 L1104.4,676.7 L1105.4,676.9 L1106.4,677.0 L1107.4,677.2 L1108.4,677.3 L1109.4,677.4 L1110.4,677.5 L1111.4,677.6 L1112.4,677.7 L1113.4,677.8 L1114.4,677.9 L1115.4,678.0 L1116.4,678.1 L1117.4,678.2 L1118.4,678.2 L1119.4,678.3 L1120.4,678.3 L1121.4,678.4 L1122.4,678.4 L1122.4,678.9 L1121.4,678.9 L1120.4,678.9 L1119.4,678.9 L1118.4,678.9 L1117.4,678.9 L1116.4,678.9 L1115.4,678.9 L1114.4,678.9 L1113.4,678.9 L1112.4,678.9 L1111.4,678.9 L1110.4,678.9 L1109.4,678.9 L1108.4,678.9 L1107.4,678.9 L1106.4,678.9 L1105.4,678.9 L1104.4,678.9 L1103.4,678.9 L1102.4,678.9 L1101.4,678.9 L1100.4,678.9 L1099.4,678.9 L1098.4,678.9 L1097.4,678.9 L1096.4,678.9 L1095.4,678.8 L1094.4,678.8 L1093.4,678.8 L1092.4,678.8 L1091.4,678.8 L1090.4,678.8 L1089.4,678.8 L1088.4,678.8 L1087.4,678.8 L1086.4,678.8 L1085.4,678.8 L1084.4,678.8 L1083.4,678.8 L1082.4,678.8 L1081.4,678.8 L1080.4,678.8 L1079.4,678.8 L1078.4,678.8 L1077.4,678.8 L1076.4,678.8 L1075.4,678.8 L1074.4,678.8 L1073.4,678.7 L1072.4,678.7 L1071.4,678.7 L1070.4,678.7 L1069.4,678.7 L1068.4,678.7 L1067.4,678.7 L1066.4,678.7 L1065.4,678.7 L1064.4,678.7 L1063.4,678.7 L1062.4,678.7 L1061.4,678.7 L1060.4,678.7 L1059.4,678.6 L1058.4,678.6 L1057.4,678.6 L1056.4,678.6 L1055.4,678.6 L1054.4,678.6 L1053.4,678.6 L1052.4,678.6 L1051.4,678.6 L1050.4,678.6 L1049.4,678.6 L1048.4,678.5 L1047.4,678.5 L1046.4,678.5 L1045.4,678.5 L1044.4,678.5 L1043.4,678.5 L1042.4,678.5 L1041.4,678.5 L1040.4,678.5 L1039.4,678.4 L1038.4,678.4 L1037.4,678.4 L1036.4,678.4 L1035.4,678.4 L1034.4,678.4 L1033.4,678.4 L1032.4,678.4 L1031.4,678.3 L1030.4,678.3 L1029.4,678.3 L1028.4,678.3 L1027.4,678.3 L1026.4,678.3 L1025.4,678.2 L1024.4,678.2 L1023.4,678.2 L1022.4,678.2 L1021.4,678.2 L1020.4,678.2 L1019.4,678.2 L1018.4,678.1 L1017.4,678.1 L1016.4,678.1 L1015.4,678.1 L1014.4,678.1 L1013.4,678.0 L1012.4,678.0 L1011.4,678.0 L1010.4,678.0 L1009.4,678.0 L1008.4,677.9 L1007.4,677.9 L1006.4,677.9 L1005.4,677.9 L1004.4,677.9 L1003.4,677.8 L1002.4,677.8 L1001.4,677.8 L1000.4,677.8 L999.4,677.7 L998.4,677.7 L997.4,677.7 L996.4,677.7 L995.4,677.7 L994.4,677.6 L993.4,677.6 L992.4,677.6 L991.4,677.6 L990.4,677.5 L989.4,677.5 L988.4,677.5 L987.4,677.5 L986.4,677.4 L985.4,677.4 L984.4,677.4 L983.4,677.4 L982.4,677.3 L981.4,677.3 L980.4,677.3 L979.4,677.2 L978.4,677.2 L977.4,677.2 L976.4,677.2 L975.4,677.1 L974.4,677.1 L973.4,677.1 L972.4,677.1 L971.4,677.0 L970.4,677.0 L969.4,677.0 L968.4,676.9 L967.4,676.9 L966.4,676.9 L965.4,676.9 L964.4,676.8 L963.4,676.8 L962.4,676.8 L961.4,676.7 L960.4,676.7 L959.4,676.7 L958.4,676.7 L957.4,676.6 L956.4,676.6 L955.4,676.6 L954.4,676.5 L953.4,676.5 L952.4,676.5 L951.4,676.5 L950.4,676.4 L949.4,676.4Z" fill="url(#xg8)" fill-opacity="0.9" stroke="#55aa55" stroke-width="0.8"/><g fill="#bdbdbd"><circle cx="828.6" cy="672.6" r="4.2"/><circle cx="830.9" cy="672.0" r="4.2"/><circle cx="835.2" cy="668.2" r="4.2"/><circle cx="837.8" cy="670.3" r="4.2"/><circle cx="841.3" cy="669.1" r="4.2"/><circle cx="844.6" cy="669.5" r="4.2"/><circle cx="847.2" cy="669.8" r="4.2"/><circle cx="851.2" cy="670.3" r="4.2"/><circle cx="852.8" cy="671.1" r="4.2"/><circle cx="856.8" cy="671.2" r="4.2"/><circle cx="859.5" cy="666.7" r="4.2"/><circle cx="862.6" cy="670.4" r="4.2"/><circle cx="865.1" cy="669.6" r="4.2"/><circle cx="869.1" cy="666.2" r="4.2"/><circle cx="870.3" cy="667.3" r="4.2"/><circle cx="875.2" cy="668.0" r="4.2"/><circle cx="877.4" cy="664.1" r="4.2"/><circle cx="880.5" cy="664.0" r="4.2"/><circle cx="881.6" cy="664.3" r="4.2"/><circle cx="883.8" cy="659.1" r="4.2"/><circle cx="886.5" cy="660.0" r="4.2"/><circle cx="889.2" cy="656.2" r="4.2"/><circle cx="889.7" cy="654.0" r="4.2"/><circle cx="891.0" cy="652.5" r="4.2"/><circle cx="894.7" cy="647.8" r="4.2"/><circle cx="895.5" cy="646.3" r="4.2"/><circle cx="897.9" cy="639.6" r="4.2"/><circle cx="900.6" cy="636.1" r="4.2"/><circle cx="900.6" cy="632.9" r="4.2"/><circle cx="902.3" cy="633.7" r="4.2"/><circle cx="904.1" cy="631.2" r="4.2"/><circle cx="903.2" cy="628.0" r="4.2"/><circle cx="904.9" cy="623.9" r="4.2"/><circle cx="906.6" cy="619.6" r="4.2"/><circle cx="907.4" cy="618.7" r="4.2"/><circle cx="908.5" cy="611.9" r="4.2"/><circle cx="908.3" cy="608.2" r="4.2"/><circle cx="909.8" cy="609.4" r="4.2"/><circle cx="911.4" cy="602.1" r="4.2"/><circle cx="912.4" cy="598.9" r="4.2"/><circle cx="911.9" cy="595.8" r="4.2"/><circle cx="913.0" cy="595.7" r="4.2"/><circle cx="914.6" cy="589.6" r="4.2"/><circle cx="916.8" cy="586.4" r="4.2"/><circle cx="917.2" cy="582.1" r="4.2"/><circle cx="918.5" cy="575.6" r="4.2"/><circle cx="919.0" cy="572.0" r="4.2"/><circle cx="919.6" cy="567.1" r="4.2"/><circle cx="921.1" cy="567.4" r="4.2"/><circle cx="921.7" cy="561.9" r="4.2"/><circle cx="922.5" cy="559.7" r="4.2"/><circle cx="924.2" cy="552.4" r="4.2"/><circle cx="925.7" cy="549.7" r="4.2"/><circle cx="926.7" cy="546.1" r="4.2"/><circle cx="925.9" cy="545.1" r="4.2"/><circle cx="928.4" cy="541.6" r="4.2"/><circle cx="929.7" cy="540.4" r="4.2"/><circle cx="930.0" cy="536.3" r="4.2"/><circle cx="931.8" cy="529.5" r="4.2"/><circle cx="932.1" cy="526.3" r="4.2"/><circle cx="932.1" cy="526.2" r="4.2"/><circle cx="934.2" cy="520.7" r="4.2"/><circle cx="934.5" cy="520.2" r="4.2"/><circle cx="936.3" cy="515.3" r="4.2"/><circle cx="935.8" cy="513.3" r="4.2"/><circle cx="937.5" cy="511.8" r="4.2"/><circle cx="939.0" cy="507.4" r="4.2"/><circle cx="941.8" cy="507.0" r="4.2"/><circle cx="944.1" cy="500.8" r="4.2"/><circle cx="946.8" cy="497.8" r="4.2"/><circle cx="948.3" cy="496.5" r="4.2"/><circle cx="949.7" cy="497.5" r="4.2"/><circle cx="954.1" cy="493.7" r="4.2"/><circle cx="956.2" cy="496.9" r="4.2"/><circle cx="957.5" cy="501.0" r="4.2"/><circle cx="959.3" cy="498.5" r="4.2"/><circle cx="960.1" cy="502.2" r="4.2"/><circle cx="962.3" cy="505.7" r="4.2"/><circle cx="966.0" cy="511.3" r="4.2"/><circle cx="966.4" cy="511.5" r="4.2"/><circle cx="967.1" cy="514.9" r="4.2"/><circle cx="968.4" cy="520.8" r="4.2"/><circle cx="968.9" cy="520.1" r="4.2"/><circle cx="971.9" cy="522.0" r="4.2"/><circle cx="972.4" cy="528.3" r="4.2"/><circle cx="971.9" cy="527.7" r="4.2"/><circle cx="973.2" cy="533.8" r="4.2"/><circle cx="975.1" cy="534.1" r="4.2"/><circle cx="976.8" cy="537.6" r="4.2"/><circle cx="977.0" cy="542.7" r="4.2"/><circle cx="979.0" cy="548.7" r="4.2"/><circle cx="977.8" cy="549.3" r="4.2"/><circle cx="979.4" cy="555.6" r="4.2"/><circle cx="980.0" cy="556.3" r="4.2"/><circle cx="981.1" cy="562.5" r="4.2"/><circle cx="983.6" cy="565.4" r="4.2"/><circle cx="983.1" cy="570.5" r="4.2"/><circle cx="986.0" cy="573.0" r="4.2"/><circle cx="986.3" cy="575.7" r="4.2"/><circle cx="987.4" cy="583.0" r="4.2"/><circle cx="988.7" cy="586.6" r="4.2"/><circle cx="989.4" cy="591.8" r="4.2"/><circle cx="990.5" cy="592.4" r="4.2"/><circle cx="991.8" cy="596.8" r="4.2"/><circle cx="991.0" cy="602.0" r="4.2"/><circle cx="992.9" cy="607.3" r="4.2"/><circle cx="992.9" cy="610.9" r="4.2"/><circle cx="995.6" cy="609.7" r="4.2"/><circle cx="995.9" cy="612.3" r="4.2"/><circle cx="996.8" cy="619.2" r="4.2"/><circle cx="998.8" cy="618.9" r="4.2"/><circle cx="998.5" cy="621.4" r="4.2"/><circle cx="999.9" cy="624.8" r="4.2"/><circle cx="1002.0" cy="628.1" r="4.2"/><circle cx="1002.5" cy="633.2" r="4.2"/><circle cx="1003.3" cy="632.3" r="4.2"/><circle cx="1005.0" cy="638.3" r="4.2"/><circle cx="1005.4" cy="641.1" r="4.2"/><circle cx="1008.3" cy="641.5" r="4.2"/><circle cx="1010.5" cy="645.6" r="4.2"/><circle cx="1014.0" cy="646.7" r="4.2"/><circle cx="1017.4" cy="648.5" r="4.2"/><circle cx="1019.1" cy="649.5" r="4.2"/><circle cx="1024.1" cy="649.5" r="4.2"/><circle cx="1024.8" cy="648.3" r="4.2"/><circle cx="1028.8" cy="645.6" r="4.2"/><circle cx="1031.9" cy="648.0" r="4.2"/><circle cx="1035.6" cy="649.3" r="4.2"/><circle cx="1037.6" cy="650.3" r="4.2"/><circle cx="1040.7" cy="650.0" r="4.2"/><circle cx="1044.2" cy="652.0" r="4.2"/><circle cx="1046.7" cy="653.2" r="4.2"/><circle cx="1049.9" cy="654.8" r="4.2"/><circle cx="1050.1" cy="656.3" r="4.2"/><circle cx="1053.4" cy="654.7" r="4.2"/><circle cx="1055.6" cy="657.9" r="4.2"/><circle cx="1059.9" cy="662.5" r="4.2"/><circle cx="1061.7" cy="664.0" r="4.2"/><circle cx="1065.2" cy="665.0" r="4.2"/><circle cx="1068.2" cy="664.8" r="4.2"/><circle cx="1069.9" cy="670.5" r="4.2"/><circle cx="1073.6" cy="668.1" r="4.2"/><circle cx="1076.9" cy="672.3" r="4.2"/><circle cx="1079.6" cy="669.7" r="4.2"/><circle cx="1083.6" cy="674.9" r="4.2"/><circle cx="1086.5" cy="673.2" r="4.2"/><circle cx="1088.2" cy="674.4" r="4.2"/><circle cx="1091.4" cy="678.7" r="4.2"/><circle cx="1096.0" cy="677.4" r="4.2"/><circle cx="1097.8" cy="677.8" r="4.2"/><circle cx="1099.9" cy="676.6" r="4.2"/><circle cx="1103.9" cy="674.9" r="4.2"/><circle cx="1106.4" cy="679.3" r="4.2"/><circle cx="1110.7" cy="679.0" r="4.2"/><circle cx="1112.5" cy="675.4" r="4.2"/><circle cx="1116.9" cy="676.7" r="4.2"/><circle cx="1119.8" cy="677.8" r="4.2"/></g><path d="M826.0,670.7 L827.0,670.6 L828.0,670.6 L829.0,670.5 L830.0,670.5 L831.0,670.4 L832.0,670.4 L833.0,670.3 L834.0,670.3 L835.0,670.2 L836.0,670.2 L837.0,670.1 L838.0,670.1 L839.0,670.1 L840.0,670.0 L841.0,670.0 L842.0,669.9 L843.0,669.9 L844.0,669.9 L845.0,669.8 L846.0,669.8 L847.0,669.7 L848.0,669.7 L849.0,669.6 L850.0,669.6 L851.0,669.5 L852.0,669.5 L853.0,669.4 L854.0,669.4 L855.0,669.3 L856.0,669.2 L857.0,669.2 L858.0,669.1 L859.0,669.0 L860.0,669.0 L861.0,668.9 L862.0,668.8 L863.0,668.7 L864.0,668.6 L865.0,668.5 L866.0,668.4 L867.0,668.3 L868.0,668.2 L869.0,668.1 L870.0,667.9 L871.0,667.8 L872.0,667.6 L873.0,667.3 L874.0,666.9 L875.0,666.4 L876.0,665.9 L877.0,665.4 L878.0,664.8 L879.0,664.1 L880.0,663.5 L881.0,662.7 L882.0,662.0 L883.0,661.2 L884.0,660.4 L885.0,659.6 L886.0,658.7 L887.0,657.8 L888.0,656.7 L889.0,655.5 L890.0,654.2 L891.0,652.9 L892.0,651.4 L893.0,649.9 L894.0,648.3 L895.0,646.6 L896.0,644.9 L897.0,643.1 L898.0,641.2 L899.0,639.2 L900.0,637.0 L901.0,634.5 L902.0,631.9 L903.0,629.2 L904.0,626.3 L905.0,623.3 L906.0,620.1 L907.0,617.0 L908.0,613.7 L909.0,610.5 L910.0,607.2 L911.0,604.0 L912.0,600.6 L913.0,597.1 L914.0,593.3 L915.0,589.5 L916.0,585.6 L917.0,581.6 L918.0,577.6 L919.0,573.5 L920.0,569.5 L921.0,565.6 L922.0,561.7 L923.0,558.0 L924.0,554.4 L925.0,550.9 L926.0,547.7 L927.0,544.5 L928.0,541.3 L929.0,538.1 L930.0,535.0 L931.0,531.9 L932.0,528.8 L933.0,525.9 L934.0,523.0 L935.0,520.3 L936.0,517.7 L937.0,515.2 L938.0,513.0 L939.0,510.9 L940.0,509.0 L941.0,507.3 L942.0,505.6 L943.0,503.8 L944.0,502.2 L945.0,500.5 L946.0,499.0 L947.0,497.7 L948.0,496.6 L949.0,495.7 L950.0,495.0 L951.0,494.7 L952.0,494.8 L953.0,495.1 L954.0,495.7 L955.0,496.5 L956.0,497.4 L957.0,498.5 L958.0,499.7 L959.0,501.0 L960.0,502.3 L961.0,503.5 L962.0,504.9 L963.0,506.4 L964.0,508.1 L965.0,509.9 L966.0,511.9 L967.0,514.0 L968.0,516.1 L969.0,518.4 L970.0,520.8 L971.0,523.3 L972.0,525.9 L973.0,528.7 L974.0,531.9 L975.0,535.3 L976.0,538.9 L977.0,542.7 L978.0,546.6 L979.0,550.7 L980.0,554.7 L981.0,558.8 L982.0,562.9 L983.0,566.9 L984.0,570.8 L985.0,574.5 L986.0,578.3 L987.0,582.2 L988.0,586.2 L989.0,590.1 L990.0,594.0 L991.0,597.9 L992.0,601.6 L993.0,605.2 L994.0,608.6 L995.0,611.7 L996.0,614.6 L997.0,617.5 L998.0,620.5 L999.0,623.4 L1000.0,626.3 L1001.0,629.1 L1002.0,631.7 L1003.0,634.2 L1004.0,636.5 L1005.0,638.5 L1006.0,640.2 L1007.0,641.6 L1008.0,642.6 L1009.0,643.3 L1010.0,643.9 L1011.0,644.4 L1012.0,644.9 L1013.0,645.3 L1014.0,645.8 L1015.0,646.1 L1016.0,646.5 L1017.0,646.7 L1018.0,647.0 L1019.0,647.2 L1020.0,647.4 L1021.0,647.5 L1022.0,647.7 L1023.0,647.7 L1024.0,647.8 L1025.0,647.9 L1026.0,647.9 L1027.0,648.0 L1028.0,648.0 L1029.0,648.1 L1030.0,648.1 L1031.0,648.1 L1032.0,648.2 L1033.0,648.2 L1034.0,648.3 L1035.0,648.3 L1036.0,648.4 L1037.0,648.5 L1038.0,648.6 L1039.0,648.8 L1040.0,649.0 L1041.0,649.4 L1042.0,649.8 L1043.0,650.3 L1044.0,650.8 L1045.0,651.4 L1046.0,652.1 L1047.0,652.7 L1048.0,653.4 L1049.0,654.1 L1050.0,654.8 L1051.0,655.5 L1052.0,656.2 L1053.0,656.8 L1054.0,657.5 L1055.0,658.0 L1056.0,658.6 L1057.0,659.2 L1058.0,659.8 L1059.0,660.5 L1060.0,661.1 L1061.0,661.7 L1062.0,662.4 L1063.0,663.0 L1064.0,663.7 L1065.0,664.3 L1066.0,664.9 L1067.0,665.6 L1068.0,666.2 L1069.0,666.8 L1070.0,667.4 L1071.0,667.9 L1072.0,668.5 L1073.0,669.0 L1074.0,669.5 L1075.0,669.9 L1076.0,670.4 L1077.0,670.8 L1078.0,671.2 L1079.0,671.6 L1080.0,672.0 L1081.0,672.4 L1082.0,672.8 L1083.0,673.2 L1084.0,673.6 L1085.0,673.9 L1086.0,674.3 L1087.0,674.7 L1088.0,675.0 L1089.0,675.3 L1090.0,675.6 L1091.0,675.9 L1092.0,676.2 L1093.0,676.4 L1094.0,676.6 L1095.0,676.8 L1096.0,676.9 L1097.0,677.0 L1098.0,677.1 L1099.0,677.1 L1100.0,677.1 L1101.0,677.1 L1102.0,677.1 L1103.0,677.1 L1104.0,677.1 L1105.0,677.1 L1106.0,677.1 L1107.0,677.1 L1108.0,677.1 L1109.0,677.1 L1110.0,677.1 L1111.0,677.1 L1112.0,677.1 L1113.0,677.1 L1114.0,677.1 L1115.0,677.1 L1116.0,677.1 L1117.0,677.1 L1118.0,677.1 L1119.0,677.1 L1120.0,677.1 L1121.0,677.1" stroke="#7a7a7a" stroke-width="4.2" fill="none" stroke-linejoin="round" stroke-linecap="round" /><rect x="824.4" y="428.3" width="299.9" height="261.7" fill="none" stroke="#000" stroke-width="3.4"/><line x1="883.8" y1="691.5" x2="883.8" y2="698.5" stroke="#000" stroke-width="3"/><line x1="973.5" y1="691.5" x2="973.5" y2="698.5" stroke="#000" stroke-width="3"/><line x1="1063.2" y1="691.5" x2="1063.2" y2="698.5" stroke="#000" stroke-width="3"/><line x1="839.0" y1="691.5" x2="839.0" y2="695.5" stroke="#000" stroke-width="3"/><line x1="928.6" y1="691.5" x2="928.6" y2="695.5" stroke="#000" stroke-width="3"/><line x1="1018.4" y1="691.5" x2="1018.4" y2="695.5" stroke="#000" stroke-width="3"/><line x1="1108.0" y1="691.5" x2="1108.0" y2="695.5" stroke="#000" stroke-width="3"/><text x="883.8" y="726.0" font-family="'Liberation Serif', serif" font-size="23.8" font-weight="bold" fill="#000" text-anchor="middle" ><tspan>690</tspan></text><text x="973.5" y="726.0" font-family="'Liberation Serif', serif" font-size="23.8" font-weight="bold" fill="#000" text-anchor="middle" ><tspan>687</tspan></text><text x="1063.2" y="726.0" font-family="'Liberation Serif', serif" font-size="23.8" font-weight="bold" fill="#000" text-anchor="middle" ><tspan>684</tspan></text><text x="976.0" y="761.3" font-family="'Liberation Serif', serif" font-size="23.5" font-weight="bold" fill="#000" text-anchor="middle" ><tspan>Binding energy (eV)</tspan></text><text x="802.0" y="559.7" font-family="'Liberation Serif', serif" font-size="28.7" font-weight="bold" fill="#000" text-anchor="middle" transform="rotate(-90 802 559.7)"><tspan>Intensity (a.u.)</tspan></text><text x="772.0" y="437.0" font-family="'Liberation Serif', serif" font-size="39" font-weight="bold" fill="#000" text-anchor="start" ><tspan>(e)</tspan></text><text x="828.8" y="454.1" font-family="'Liberation Serif', serif" font-size="24" font-weight="bold" fill="#000" text-anchor="start" ><tspan>F 1s</tspan></text><text x="1119.2" y="454.0" font-family="'Liberation Serif', serif" font-size="22.3" font-weight="bold" fill="#000" text-anchor="end" ><tspan>CFO</tspan></text><text x="992.9" y="508.5" font-family="'Liberation Serif', serif" font-size="17" font-weight="bold" fill="#c0b820" text-anchor="start" ><tspan>C-F</tspan></text><text x="983.7" y="537.0" font-family="'Liberation Serif', serif" font-size="16.5" font-weight="bold" fill="#c0b820" text-anchor="start" ><tspan>687.8 eV</tspan></text><text x="848.2" y="573.0" font-family="'Liberation Serif', serif" font-size="17" font-weight="bold" fill="#d08040" text-anchor="start" ><tspan>C-F</tspan><tspan font-size="11.9" dy="4.76">2</tspan></text><text x="839.9" y="604.3" font-family="'Liberation Serif', serif" font-size="16.5" font-weight="bold" fill="#d08040" text-anchor="start" ><tspan>688.3 eV</tspan></text><text x="1014.0" y="591.4" font-family="'Liberation Serif', serif" font-size="17" font-weight="bold" fill="#40a040" text-anchor="start" ><tspan>Mn</tspan><tspan font-size="11.6" dy="-7.14">2+</tspan><tspan dy="7.14">-F</tspan></text><text x="1013.7" y="622.8" font-family="'Liberation Serif', serif" font-size="17.5" font-weight="bold" fill="#40a040" text-anchor="start" ><tspan>684.9 eV</tspan></text><defs><linearGradient id="xg9" gradientUnits="userSpaceOnUse" x1="0" y1="581.3" x2="0" y2="646.4"><stop offset="0" stop-color="#4aa84a"/><stop offset="1" stop-color="#9fd09f"/></linearGradient></defs><path d="M1192.8,586.8 L1193.8,586.7 L1194.8,586.6 L1195.8,586.5 L1196.8,586.4 L1197.8,586.3 L1198.8,586.2 L1199.8,586.0 L1200.8,585.9 L1201.8,585.8 L1202.8,585.6 L1203.8,585.5 L1204.8,585.3 L1205.8,585.1 L1206.8,585.0 L1207.8,584.8 L1208.8,584.6 L1209.8,584.4 L1210.8,584.3 L1211.8,584.1 L1212.8,583.9 L1213.8,583.7 L1214.8,583.5 L1215.8,583.3 L1216.8,583.2 L1217.8,583.0 L1218.8,582.8 L1219.8,582.6 L1220.8,582.5 L1221.8,582.3 L1222.8,582.2 L1223.8,582.0 L1224.8,581.9 L1225.8,581.8 L1226.8,581.7 L1227.8,581.6 L1228.8,581.5 L1229.8,581.5 L1230.8,581.4 L1231.8,581.4 L1232.8,581.3 L1233.8,581.3 L1234.8,581.3 L1235.8,581.3 L1236.8,581.4 L1237.8,581.4 L1238.8,581.5 L1239.8,581.6 L1240.8,581.7 L1241.8,581.8 L1242.8,581.9 L1243.8,582.0 L1244.8,582.2 L1245.8,582.3 L1246.8,582.5 L1247.8,582.7 L1248.8,582.9 L1249.8,583.1 L1250.8,583.3 L1251.8,583.5 L1252.8,583.7 L1253.8,583.9 L1254.8,584.2 L1255.8,584.4 L1256.8,584.6 L1257.8,584.9 L1258.8,585.1 L1259.8,585.3 L1260.8,585.6 L1261.8,585.8 L1262.8,586.1 L1263.8,586.3 L1264.8,586.5 L1265.8,586.7 L1266.8,587.0 L1267.8,587.2 L1268.8,587.4 L1269.8,587.6 L1270.8,587.8 L1271.8,588.1 L1272.8,588.3 L1273.8,588.5 L1274.8,588.6 L1275.8,588.8 L1276.8,589.0 L1277.8,589.2 L1278.8,589.4 L1279.8,589.6 L1280.8,589.8 L1281.8,589.9 L1282.8,590.1 L1283.8,590.3 L1284.8,590.4 L1285.8,590.6 L1286.8,590.8 L1287.8,590.9 L1288.8,591.1 L1289.8,591.3 L1289.8,591.6 L1288.8,591.5 L1287.8,591.4 L1286.8,591.2 L1285.8,591.1 L1284.8,591.0 L1283.8,590.9 L1282.8,590.8 L1281.8,590.7 L1280.8,590.6 L1279.8,590.5 L1278.8,590.4 L1277.8,590.3 L1276.8,590.2 L1275.8,590.1 L1274.8,590.0 L1273.8,590.0 L1272.8,589.9 L1271.8,589.8 L1270.8,589.7 L1269.8,589.7 L1268.8,589.6 L1267.8,589.5 L1266.8,589.5 L1265.8,589.4 L1264.8,589.4 L1263.8,589.3 L1262.8,589.3 L1261.8,589.2 L1260.8,589.2 L1259.8,589.1 L1258.8,589.1 L1257.8,589.0 L1256.8,589.0 L1255.8,588.9 L1254.8,588.9 L1253.8,588.9 L1252.8,588.8 L1251.8,588.8 L1250.8,588.7 L1249.8,588.7 L1248.8,588.7 L1247.8,588.6 L1246.8,588.6 L1245.8,588.6 L1244.8,588.6 L1243.8,588.5 L1242.8,588.5 L1241.8,588.5 L1240.8,588.5 L1239.8,588.4 L1238.8,588.4 L1237.8,588.4 L1236.8,588.4 L1235.8,588.3 L1234.8,588.3 L1233.8,588.3 L1232.8,588.3 L1231.8,588.3 L1230.8,588.3 L1229.8,588.2 L1228.8,588.2 L1227.8,588.2 L1226.8,588.2 L1225.8,588.2 L1224.8,588.2 L1223.8,588.2 L1222.8,588.1 L1221.8,588.1 L1220.8,588.1 L1219.8,588.1 L1218.8,588.1 L1217.8,588.1 L1216.8,588.1 L1215.8,588.1 L1214.8,588.1 L1213.8,588.0 L1212.8,588.0 L1211.8,588.0 L1210.8,588.0 L1209.8,588.0 L1208.8,588.0 L1207.8,588.0 L1206.8,588.0 L1205.8,588.0 L1204.8,588.0 L1203.8,588.0 L1202.8,588.0 L1201.8,588.0 L1200.8,588.0 L1199.8,587.9 L1198.8,587.9 L1197.8,587.9 L1196.8,587.9 L1195.8,587.9 L1194.8,587.9 L1193.8,587.9 L1192.8,587.9Z" fill="url(#xg9)" fill-opacity="0.9" stroke="#4aa84a" stroke-width="0.8"/><defs><linearGradient id="xg10" gradientUnits="userSpaceOnUse" x1="0" y1="486.4" x2="0" y2="646.4"><stop offset="0" stop-color="#ee8a2e"/><stop offset="1" stop-color="#f6c8a0"/></linearGradient></defs><path d="M1255.8,588.6 L1256.8,588.6 L1257.8,588.6 L1258.8,588.6 L1259.8,588.6 L1260.8,588.6 L1261.8,588.5 L1262.8,588.5 L1263.8,588.4 L1264.8,588.4 L1265.8,588.3 L1266.8,588.2 L1267.8,588.1 L1268.8,588.0 L1269.8,587.9 L1270.8,587.7 L1271.8,587.5 L1272.8,587.3 L1273.8,587.1 L1274.8,586.9 L1275.8,586.6 L1276.8,586.3 L1277.8,586.0 L1278.8,585.6 L1279.8,585.2 L1280.8,584.7 L1281.8,584.2 L1282.8,583.6 L1283.8,583.0 L1284.8,582.4 L1285.8,581.7 L1286.8,580.9 L1287.8,580.1 L1288.8,579.2 L1289.8,578.3 L1290.8,577.2 L1291.8,576.2 L1292.8,575.0 L1293.8,573.7 L1294.8,572.4 L1295.8,571.0 L1296.8,569.6 L1297.8,568.0 L1298.8,566.4 L1299.8,564.7 L1300.8,562.9 L1301.8,561.0 L1302.8,559.1 L1303.8,557.0 L1304.8,554.9 L1305.8,552.8 L1306.8,550.5 L1307.8,548.2 L1308.8,545.9 L1309.8,543.4 L1310.8,541.0 L1311.8,538.5 L1312.8,535.9 L1313.8,533.3 L1314.8,530.7 L1315.8,528.1 L1316.8,525.5 L1317.8,522.9 L1318.8,520.3 L1319.8,517.7 L1320.8,515.1 L1321.8,512.6 L1322.8,510.2 L1323.8,507.8 L1324.8,505.5 L1325.8,503.3 L1326.8,501.1 L1327.8,499.1 L1328.8,497.2 L1329.8,495.4 L1330.8,493.8 L1331.8,492.3 L1332.8,490.9 L1333.8,489.7 L1334.8,488.7 L1335.8,487.9 L1336.8,487.2 L1337.8,486.7 L1338.8,486.5 L1339.8,486.4 L1340.8,486.5 L1341.8,486.8 L1342.8,487.3 L1343.8,488.0 L1344.8,488.9 L1345.8,489.9 L1346.8,491.2 L1347.8,492.7 L1348.8,494.3 L1349.8,496.2 L1350.8,498.2 L1351.8,500.3 L1352.8,502.6 L1353.8,505.1 L1354.8,507.7 L1355.8,510.4 L1356.8,513.3 L1357.8,516.2 L1358.8,519.3 L1359.8,522.4 L1360.8,525.7 L1361.8,528.9 L1362.8,532.3 L1363.8,535.7 L1364.8,539.1 L1365.8,542.5 L1366.8,546.0 L1367.8,549.4 L1368.8,552.9 L1369.8,556.3 L1370.8,559.7 L1371.8,563.1 L1372.8,566.4 L1373.8,569.7 L1374.8,572.9 L1375.8,576.0 L1376.8,579.1 L1377.8,582.2 L1378.8,585.1 L1379.8,588.0 L1380.8,590.7 L1381.8,593.4 L1382.8,596.0 L1383.8,598.5 L1384.8,601.0 L1385.8,603.3 L1386.8,605.5 L1387.8,607.7 L1388.8,609.7 L1389.8,611.7 L1390.8,613.6 L1391.8,615.3 L1392.8,617.0 L1393.8,618.6 L1394.8,620.2 L1395.8,621.6 L1396.8,623.0 L1397.8,624.3 L1398.8,625.5 L1399.8,626.7 L1400.8,627.8 L1401.8,628.8 L1402.8,629.8 L1403.8,630.7 L1404.8,631.5 L1405.8,632.4 L1406.8,633.1 L1407.8,633.8 L1408.8,634.5 L1409.8,635.1 L1410.8,635.7 L1411.8,636.3 L1412.8,636.8 L1413.8,637.3 L1414.8,637.7 L1415.8,638.1 L1416.8,638.6 L1417.8,638.9 L1418.8,639.3 L1419.8,639.6 L1420.8,639.9 L1421.8,640.2 L1422.8,640.5 L1423.8,640.8 L1424.8,641.0 L1425.8,641.3 L1426.8,641.5 L1427.8,641.7 L1427.8,642.1 L1426.8,641.9 L1425.8,641.7 L1424.8,641.5 L1423.8,641.4 L1422.8,641.2 L1421.8,641.0 L1420.8,640.8 L1419.8,640.6 L1418.8,640.4 L1417.8,640.2 L1416.8,639.9 L1415.8,639.7 L1414.8,639.5 L1413.8,639.2 L1412.8,639.0 L1411.8,638.7 L1410.8,638.5 L1409.8,638.2 L1408.8,637.9 L1407.8,637.7 L1406.8,637.4 L1405.8,637.1 L1404.8,636.8 L1403.8,636.5 L1402.8,636.1 L1401.8,635.8 L1400.8,635.5 L1399.8,635.1 L1398.8,634.8 L1397.8,634.4 L1396.8,634.1 L1395.8,633.7 L1394.8,633.3 L1393.8,632.9 L1392.8,632.5 L1391.8,632.1 L1390.8,631.7 L1389.8,631.3 L1388.8,630.8 L1387.8,630.4 L1386.8,630.0 L1385.8,629.5 L1384.8,629.1 L1383.8,628.6 L1382.8,628.1 L1381.8,627.7 L1380.8,627.2 L1379.8,626.7 L1378.8,626.2 L1377.8,625.7 L1376.8,625.2 L1375.8,624.7 L1374.8,624.2 L1373.8,623.6 L1372.8,623.1 L1371.8,622.6 L1370.8,622.1 L1369.8,621.5 L1368.8,621.0 L1367.8,620.5 L1366.8,619.9 L1365.8,619.4 L1364.8,618.8 L1363.8,618.3 L1362.8,617.7 L1361.8,617.2 L1360.8,616.6 L1359.8,616.1 L1358.8,615.6 L1357.8,615.0 L1356.8,614.5 L1355.8,613.9 L1354.8,613.4 L1353.8,612.9 L1352.8,612.3 L1351.8,611.8 L1350.8,611.3 L1349.8,610.7 L1348.8,610.2 L1347.8,609.7 L1346.8,609.2 L1345.8,608.7 L1344.8,608.2 L1343.8,607.7 L1342.8,607.2 L1341.8,606.8 L1340.8,606.3 L1339.8,605.8 L1338.8,605.4 L1337.8,604.9 L1336.8,604.5 L1335.8,604.0 L1334.8,603.6 L1333.8,603.2 L1332.8,602.7 L1331.8,602.3 L1330.8,601.9 L1329.8,601.5 L1328.8,601.1 L1327.8,600.8 L1326.8,600.4 L1325.8,600.0 L1324.8,599.7 L1323.8,599.3 L1322.8,599.0 L1321.8,598.7 L1320.8,598.3 L1319.8,598.0 L1318.8,597.7 L1317.8,597.4 L1316.8,597.1 L1315.8,596.8 L1314.8,596.5 L1313.8,596.3 L1312.8,596.0 L1311.8,595.8 L1310.8,595.5 L1309.8,595.3 L1308.8,595.0 L1307.8,594.8 L1306.8,594.6 L1305.8,594.3 L1304.8,594.1 L1303.8,593.9 L1302.8,593.7 L1301.8,593.5 L1300.8,593.3 L1299.8,593.2 L1298.8,593.0 L1297.8,592.8 L1296.8,592.6 L1295.8,592.5 L1294.8,592.3 L1293.8,592.2 L1292.8,592.0 L1291.8,591.9 L1290.8,591.7 L1289.8,591.6 L1288.8,591.5 L1287.8,591.4 L1286.8,591.2 L1285.8,591.1 L1284.8,591.0 L1283.8,590.9 L1282.8,590.8 L1281.8,590.7 L1280.8,590.6 L1279.8,590.5 L1278.8,590.4 L1277.8,590.3 L1276.8,590.2 L1275.8,590.1 L1274.8,590.0 L1273.8,590.0 L1272.8,589.9 L1271.8,589.8 L1270.8,589.7 L1269.8,589.7 L1268.8,589.6 L1267.8,589.5 L1266.8,589.5 L1265.8,589.4 L1264.8,589.4 L1263.8,589.3 L1262.8,589.3 L1261.8,589.2 L1260.8,589.2 L1259.8,589.1 L1258.8,589.1 L1257.8,589.0 L1256.8,589.0 L1255.8,588.9Z" fill="url(#xg10)" fill-opacity="0.85" stroke="#ee8a2e" stroke-width="0.8"/><defs><linearGradient id="xg11" gradientUnits="userSpaceOnUse" x1="0" y1="536.3" x2="0" y2="646.4"><stop offset="0" stop-color="#f0e660"/><stop offset="1" stop-color="#f6f0b0"/></linearGradient></defs><path d="M1318.8,597.4 L1319.8,597.6 L1320.8,597.9 L1321.8,598.1 L1322.8,598.3 L1323.8,598.4 L1324.8,598.6 L1325.8,598.7 L1326.8,598.8 L1327.8,598.9 L1328.8,598.9 L1329.8,598.8 L1330.8,598.7 L1331.8,598.6 L1332.8,598.3 L1333.8,598.0 L1334.8,597.6 L1335.8,597.0 L1336.8,596.4 L1337.8,595.6 L1338.8,594.7 L1339.8,593.7 L1340.8,592.5 L1341.8,591.2 L1342.8,589.7 L1343.8,588.1 L1344.8,586.3 L1345.8,584.4 L1346.8,582.3 L1347.8,580.1 L1348.8,577.7 L1349.8,575.2 L1350.8,572.6 L1351.8,569.9 L1352.8,567.1 L1353.8,564.3 L1354.8,561.5 L1355.8,558.7 L1356.8,555.9 L1357.8,553.2 L1358.8,550.5 L1359.8,548.0 L1360.8,545.7 L1361.8,543.6 L1362.8,541.6 L1363.8,540.0 L1364.8,538.6 L1365.8,537.5 L1366.8,536.8 L1367.8,536.3 L1368.8,536.3 L1369.8,536.5 L1370.8,537.2 L1371.8,538.2 L1372.8,539.5 L1373.8,541.2 L1374.8,543.2 L1375.8,545.6 L1376.8,548.2 L1377.8,551.1 L1378.8,554.2 L1379.8,557.5 L1380.8,560.9 L1381.8,564.5 L1382.8,568.2 L1383.8,572.0 L1384.8,575.8 L1385.8,579.6 L1386.8,583.5 L1387.8,587.2 L1388.8,590.9 L1389.8,594.5 L1390.8,598.0 L1391.8,601.3 L1392.8,604.5 L1393.8,607.6 L1394.8,610.4 L1395.8,613.2 L1396.8,615.7 L1397.8,618.1 L1398.8,620.3 L1399.8,622.4 L1400.8,624.3 L1401.8,626.0 L1402.8,627.6 L1403.8,629.0 L1404.8,630.4 L1405.8,631.6 L1406.8,632.7 L1407.8,633.6 L1408.8,634.5 L1409.8,635.3 L1410.8,636.1 L1411.8,636.7 L1412.8,637.3 L1413.8,637.8 L1414.8,638.3 L1415.8,638.8 L1416.8,639.2 L1417.8,639.5 L1418.8,639.9 L1419.8,640.2 L1420.8,640.5 L1420.8,640.8 L1419.8,640.6 L1418.8,640.4 L1417.8,640.2 L1416.8,639.9 L1415.8,639.7 L1414.8,639.5 L1413.8,639.2 L1412.8,639.0 L1411.8,638.7 L1410.8,638.5 L1409.8,638.2 L1408.8,637.9 L1407.8,637.7 L1406.8,637.4 L1405.8,637.1 L1404.8,636.8 L1403.8,636.5 L1402.8,636.1 L1401.8,635.8 L1400.8,635.5 L1399.8,635.1 L1398.8,634.8 L1397.8,634.4 L1396.8,634.1 L1395.8,633.7 L1394.8,633.3 L1393.8,632.9 L1392.8,632.5 L1391.8,632.1 L1390.8,631.7 L1389.8,631.3 L1388.8,630.8 L1387.8,630.4 L1386.8,630.0 L1385.8,629.5 L1384.8,629.1 L1383.8,628.6 L1382.8,628.1 L1381.8,627.7 L1380.8,627.2 L1379.8,626.7 L1378.8,626.2 L1377.8,625.7 L1376.8,625.2 L1375.8,624.7 L1374.8,624.2 L1373.8,623.6 L1372.8,623.1 L1371.8,622.6 L1370.8,622.1 L1369.8,621.5 L1368.8,621.0 L1367.8,620.5 L1366.8,619.9 L1365.8,619.4 L1364.8,618.8 L1363.8,618.3 L1362.8,617.7 L1361.8,617.2 L1360.8,616.6 L1359.8,616.1 L1358.8,615.6 L1357.8,615.0 L1356.8,614.5 L1355.8,613.9 L1354.8,613.4 L1353.8,612.9 L1352.8,612.3 L1351.8,611.8 L1350.8,611.3 L1349.8,610.7 L1348.8,610.2 L1347.8,609.7 L1346.8,609.2 L1345.8,608.7 L1344.8,608.2 L1343.8,607.7 L1342.8,607.2 L1341.8,606.8 L1340.8,606.3 L1339.8,605.8 L1338.8,605.4 L1337.8,604.9 L1336.8,604.5 L1335.8,604.0 L1334.8,603.6 L1333.8,603.2 L1332.8,602.7 L1331.8,602.3 L1330.8,601.9 L1329.8,601.5 L1328.8,601.1 L1327.8,600.8 L1326.8,600.4 L1325.8,600.0 L1324.8,599.7 L1323.8,599.3 L1322.8,599.0 L1321.8,598.7 L1320.8,598.3 L1319.8,598.0 L1318.8,597.7Z" fill="url(#xg11)" fill-opacity="0.8" stroke="#f0e660" stroke-width="0.8"/><defs><linearGradient id="xg12" gradientUnits="userSpaceOnUse" x1="0" y1="549.7" x2="0" y2="646.4"><stop offset="0" stop-color="#7a5aa6"/><stop offset="1" stop-color="#b6a6d6"/></linearGradient></defs><path d="M1240.8,588.1 L1241.8,588.1 L1242.8,588.1 L1243.8,588.0 L1244.8,588.0 L1245.8,587.9 L1246.8,587.8 L1247.8,587.7 L1248.8,587.6 L1249.8,587.5 L1250.8,587.4 L1251.8,587.2 L1252.8,587.0 L1253.8,586.8 L1254.8,586.6 L1255.8,586.4 L1256.8,586.1 L1257.8,585.8 L1258.8,585.4 L1259.8,585.1 L1260.8,584.7 L1261.8,584.2 L1262.8,583.7 L1263.8,583.2 L1264.8,582.6 L1265.8,582.0 L1266.8,581.3 L1267.8,580.6 L1268.8,579.8 L1269.8,579.0 L1270.8,578.2 L1271.8,577.3 L1272.8,576.3 L1273.8,575.4 L1274.8,574.3 L1275.8,573.3 L1276.8,572.2 L1277.8,571.0 L1278.8,569.9 L1279.8,568.7 L1280.8,567.5 L1281.8,566.3 L1282.8,565.0 L1283.8,563.8 L1284.8,562.6 L1285.8,561.4 L1286.8,560.2 L1287.8,559.0 L1288.8,557.9 L1289.8,556.8 L1290.8,555.8 L1291.8,554.8 L1292.8,553.9 L1293.8,553.1 L1294.8,552.3 L1295.8,551.6 L1296.8,551.0 L1297.8,550.6 L1298.8,550.2 L1299.8,549.9 L1300.8,549.7 L1301.8,549.7 L1302.8,549.8 L1303.8,549.9 L1304.8,550.2 L1305.8,550.6 L1306.8,551.2 L1307.8,551.8 L1308.8,552.5 L1309.8,553.4 L1310.8,554.3 L1311.8,555.4 L1312.8,556.5 L1313.8,557.7 L1314.8,559.0 L1315.8,560.4 L1316.8,561.8 L1317.8,563.3 L1318.8,564.9 L1319.8,566.5 L1320.8,568.1 L1321.8,569.7 L1322.8,571.4 L1323.8,573.0 L1324.8,574.7 L1325.8,576.4 L1326.8,578.1 L1327.8,579.7 L1328.8,581.4 L1329.8,583.0 L1330.8,584.6 L1331.8,586.2 L1332.8,587.7 L1333.8,589.2 L1334.8,590.7 L1335.8,592.1 L1336.8,593.5 L1337.8,594.8 L1338.8,596.1 L1339.8,597.3 L1340.8,598.5 L1341.8,599.7 L1342.8,600.8 L1343.8,601.9 L1344.8,603.0 L1345.8,604.0 L1346.8,605.0 L1347.8,605.9 L1348.8,606.8 L1349.8,607.7 L1350.8,608.6 L1351.8,609.4 L1352.8,610.2 L1353.8,611.0 L1354.8,611.8 L1355.8,612.5 L1356.8,613.2 L1357.8,613.9 L1358.8,614.6 L1359.8,615.3 L1360.8,615.9 L1361.8,616.6 L1362.8,617.2 L1363.8,617.8 L1364.8,618.4 L1365.8,619.0 L1365.8,619.4 L1364.8,618.8 L1363.8,618.3 L1362.8,617.7 L1361.8,617.2 L1360.8,616.6 L1359.8,616.1 L1358.8,615.6 L1357.8,615.0 L1356.8,614.5 L1355.8,613.9 L1354.8,613.4 L1353.8,612.9 L1352.8,612.3 L1351.8,611.8 L1350.8,611.3 L1349.8,610.7 L1348.8,610.2 L1347.8,609.7 L1346.8,609.2 L1345.8,608.7 L1344.8,608.2 L1343.8,607.7 L1342.8,607.2 L1341.8,606.8 L1340.8,606.3 L1339.8,605.8 L1338.8,605.4 L1337.8,604.9 L1336.8,604.5 L1335.8,604.0 L1334.8,603.6 L1333.8,603.2 L1332.8,602.7 L1331.8,602.3 L1330.8,601.9 L1329.8,601.5 L1328.8,601.1 L1327.8,600.8 L1326.8,600.4 L1325.8,600.0 L1324.8,599.7 L1323.8,599.3 L1322.8,599.0 L1321.8,598.7 L1320.8,598.3 L1319.8,598.0 L1318.8,597.7 L1317.8,597.4 L1316.8,597.1 L1315.8,596.8 L1314.8,596.5 L1313.8,596.3 L1312.8,596.0 L1311.8,595.8 L1310.8,595.5 L1309.8,595.3 L1308.8,595.0 L1307.8,594.8 L1306.8,594.6 L1305.8,594.3 L1304.8,594.1 L1303.8,593.9 L1302.8,593.7 L1301.8,593.5 L1300.8,593.3 L1299.8,593.2 L1298.8,593.0 L1297.8,592.8 L1296.8,592.6 L1295.8,592.5 L1294.8,592.3 L1293.8,592.2 L1292.8,592.0 L1291.8,591.9 L1290.8,591.7 L1289.8,591.6 L1288.8,591.5 L1287.8,591.4 L1286.8,591.2 L1285.8,591.1 L1284.8,591.0 L1283.8,590.9 L1282.8,590.8 L1281.8,590.7 L1280.8,590.6 L1279.8,590.5 L1278.8,590.4 L1277.8,590.3 L1276.8,590.2 L1275.8,590.1 L1274.8,590.0 L1273.8,590.0 L1272.8,589.9 L1271.8,589.8 L1270.8,589.7 L1269.8,589.7 L1268.8,589.6 L1267.8,589.5 L1266.8,589.5 L1265.8,589.4 L1264.8,589.4 L1263.8,589.3 L1262.8,589.3 L1261.8,589.2 L1260.8,589.2 L1259.8,589.1 L1258.8,589.1 L1257.8,589.0 L1256.8,589.0 L1255.8,588.9 L1254.8,588.9 L1253.8,588.9 L1252.8,588.8 L1251.8,588.8 L1250.8,588.7 L1249.8,588.7 L1248.8,588.7 L1247.8,588.6 L1246.8,588.6 L1245.8,588.6 L1244.8,588.6 L1243.8,588.5 L1242.8,588.5 L1241.8,588.5 L1240.8,588.5Z" fill="url(#xg12)" fill-opacity="0.75" stroke="#7a5aa6" stroke-width="0.8"/><g fill="#bdbdbd"><circle cx="1195.7" cy="581.5" r="4.2"/><circle cx="1198.5" cy="582.9" r="4.2"/><circle cx="1201.1" cy="585.3" r="4.2"/><circle cx="1203.0" cy="582.3" r="4.2"/><circle cx="1207.0" cy="580.7" r="4.2"/><circle cx="1210.7" cy="582.4" r="4.2"/><circle cx="1212.0" cy="580.4" r="4.2"/><circle cx="1217.0" cy="579.4" r="4.2"/><circle cx="1218.9" cy="578.6" r="4.2"/><circle cx="1220.9" cy="581.8" r="4.2"/><circle cx="1226.1" cy="579.5" r="4.2"/><circle cx="1228.1" cy="577.1" r="4.2"/><circle cx="1230.1" cy="580.2" r="4.2"/><circle cx="1234.6" cy="577.8" r="4.2"/><circle cx="1236.9" cy="578.4" r="4.2"/><circle cx="1240.0" cy="575.8" r="4.2"/><circle cx="1242.9" cy="576.6" r="4.2"/><circle cx="1246.8" cy="576.5" r="4.2"/><circle cx="1248.6" cy="578.6" r="4.2"/><circle cx="1251.5" cy="577.5" r="4.2"/><circle cx="1254.6" cy="576.7" r="4.2"/><circle cx="1257.7" cy="577.6" r="4.2"/><circle cx="1261.5" cy="576.1" r="4.2"/><circle cx="1265.0" cy="574.3" r="4.2"/><circle cx="1267.6" cy="571.1" r="4.2"/><circle cx="1268.8" cy="570.8" r="4.2"/><circle cx="1271.1" cy="570.0" r="4.2"/><circle cx="1271.8" cy="566.6" r="4.2"/><circle cx="1275.5" cy="562.5" r="4.2"/><circle cx="1277.5" cy="562.3" r="4.2"/><circle cx="1279.4" cy="561.9" r="4.2"/><circle cx="1280.5" cy="554.6" r="4.2"/><circle cx="1282.4" cy="554.8" r="4.2"/><circle cx="1286.1" cy="554.0" r="4.2"/><circle cx="1286.9" cy="550.6" r="4.2"/><circle cx="1288.1" cy="547.6" r="4.2"/><circle cx="1290.9" cy="541.8" r="4.2"/><circle cx="1293.0" cy="541.0" r="4.2"/><circle cx="1294.6" cy="534.7" r="4.2"/><circle cx="1296.5" cy="532.4" r="4.2"/><circle cx="1298.8" cy="528.4" r="4.2"/><circle cx="1301.7" cy="526.6" r="4.2"/><circle cx="1303.1" cy="525.1" r="4.2"/><circle cx="1305.7" cy="520.0" r="4.2"/><circle cx="1307.4" cy="518.8" r="4.2"/><circle cx="1310.1" cy="514.9" r="4.2"/><circle cx="1311.9" cy="507.3" r="4.2"/><circle cx="1312.9" cy="504.8" r="4.2"/><circle cx="1315.5" cy="503.6" r="4.2"/><circle cx="1317.4" cy="496.2" r="4.2"/><circle cx="1318.7" cy="491.4" r="4.2"/><circle cx="1319.8" cy="493.0" r="4.2"/><circle cx="1321.5" cy="489.5" r="4.2"/><circle cx="1322.6" cy="488.2" r="4.2"/><circle cx="1322.8" cy="481.6" r="4.2"/><circle cx="1322.9" cy="481.5" r="4.2"/><circle cx="1325.3" cy="479.5" r="4.2"/><circle cx="1327.1" cy="478.7" r="4.2"/><circle cx="1326.4" cy="472.7" r="4.2"/><circle cx="1327.1" cy="473.2" r="4.2"/><circle cx="1329.2" cy="468.6" r="4.2"/><circle cx="1330.7" cy="466.0" r="4.2"/><circle cx="1329.9" cy="467.1" r="4.2"/><circle cx="1332.7" cy="463.0" r="4.2"/><circle cx="1332.5" cy="463.0" r="4.2"/><circle cx="1334.9" cy="456.5" r="4.2"/><circle cx="1334.3" cy="458.2" r="4.2"/><circle cx="1337.5" cy="451.8" r="4.2"/><circle cx="1338.2" cy="450.7" r="4.2"/><circle cx="1341.7" cy="446.7" r="4.2"/><circle cx="1342.2" cy="443.3" r="4.2"/><circle cx="1344.5" cy="438.6" r="4.2"/><circle cx="1346.9" cy="442.0" r="4.2"/><circle cx="1350.7" cy="439.0" r="4.2"/><circle cx="1353.2" cy="441.2" r="4.2"/><circle cx="1356.1" cy="442.5" r="4.2"/><circle cx="1357.8" cy="447.7" r="4.2"/><circle cx="1359.6" cy="447.2" r="4.2"/><circle cx="1363.1" cy="452.5" r="4.2"/><circle cx="1363.4" cy="458.1" r="4.2"/><circle cx="1366.8" cy="457.0" r="4.2"/><circle cx="1367.9" cy="465.9" r="4.2"/><circle cx="1370.9" cy="469.5" r="4.2"/><circle cx="1371.9" cy="471.0" r="4.2"/><circle cx="1371.5" cy="470.5" r="4.2"/><circle cx="1372.1" cy="474.5" r="4.2"/><circle cx="1372.9" cy="480.7" r="4.2"/><circle cx="1374.0" cy="482.5" r="4.2"/><circle cx="1375.8" cy="484.0" r="4.2"/><circle cx="1377.1" cy="486.4" r="4.2"/><circle cx="1377.6" cy="491.6" r="4.2"/><circle cx="1378.2" cy="496.1" r="4.2"/><circle cx="1379.7" cy="496.8" r="4.2"/><circle cx="1380.3" cy="501.3" r="4.2"/><circle cx="1382.8" cy="507.8" r="4.2"/><circle cx="1382.7" cy="507.2" r="4.2"/><circle cx="1383.9" cy="511.7" r="4.2"/><circle cx="1385.0" cy="516.0" r="4.2"/><circle cx="1385.7" cy="523.7" r="4.2"/><circle cx="1387.2" cy="526.7" r="4.2"/><circle cx="1386.9" cy="531.7" r="4.2"/><circle cx="1390.1" cy="536.2" r="4.2"/><circle cx="1389.5" cy="540.1" r="4.2"/><circle cx="1391.5" cy="544.9" r="4.2"/><circle cx="1391.2" cy="549.3" r="4.2"/><circle cx="1394.1" cy="555.2" r="4.2"/><circle cx="1394.2" cy="556.4" r="4.2"/><circle cx="1396.2" cy="558.4" r="4.2"/><circle cx="1396.3" cy="566.4" r="4.2"/><circle cx="1396.3" cy="570.0" r="4.2"/><circle cx="1397.4" cy="571.6" r="4.2"/><circle cx="1398.0" cy="576.9" r="4.2"/><circle cx="1399.9" cy="582.2" r="4.2"/><circle cx="1400.1" cy="583.5" r="4.2"/><circle cx="1402.8" cy="588.4" r="4.2"/><circle cx="1402.4" cy="591.5" r="4.2"/><circle cx="1403.1" cy="595.6" r="4.2"/><circle cx="1405.2" cy="599.0" r="4.2"/><circle cx="1406.0" cy="599.3" r="4.2"/><circle cx="1406.4" cy="604.2" r="4.2"/><circle cx="1407.8" cy="608.5" r="4.2"/><circle cx="1409.8" cy="611.8" r="4.2"/><circle cx="1410.4" cy="610.6" r="4.2"/><circle cx="1411.6" cy="614.6" r="4.2"/><circle cx="1411.9" cy="618.4" r="4.2"/><circle cx="1411.9" cy="622.7" r="4.2"/><circle cx="1413.6" cy="623.2" r="4.2"/><circle cx="1416.6" cy="624.1" r="4.2"/><circle cx="1418.9" cy="629.7" r="4.2"/><circle cx="1419.6" cy="632.5" r="4.2"/><circle cx="1421.1" cy="636.8" r="4.2"/><circle cx="1424.6" cy="633.9" r="4.2"/><circle cx="1425.7" cy="637.2" r="4.2"/><circle cx="1428.6" cy="641.4" r="4.2"/><circle cx="1432.3" cy="642.4" r="4.2"/><circle cx="1433.9" cy="640.3" r="4.2"/><circle cx="1439.1" cy="640.5" r="4.2"/><circle cx="1440.2" cy="641.9" r="4.2"/><circle cx="1445.0" cy="641.8" r="4.2"/><circle cx="1447.7" cy="641.3" r="4.2"/><circle cx="1451.1" cy="641.4" r="4.2"/><circle cx="1451.9" cy="643.6" r="4.2"/><circle cx="1455.7" cy="645.8" r="4.2"/><circle cx="1459.1" cy="644.9" r="4.2"/><circle cx="1461.1" cy="641.7" r="4.2"/><circle cx="1464.2" cy="642.2" r="4.2"/><circle cx="1466.9" cy="641.8" r="4.2"/><circle cx="1470.0" cy="646.5" r="4.2"/><circle cx="1473.1" cy="644.3" r="4.2"/><circle cx="1477.6" cy="642.8" r="4.2"/><circle cx="1479.9" cy="646.7" r="4.2"/><circle cx="1484.2" cy="641.9" r="4.2"/><circle cx="1485.7" cy="642.2" r="4.2"/><circle cx="1489.9" cy="644.8" r="4.2"/><circle cx="1492.3" cy="646.4" r="4.2"/><circle cx="1495.8" cy="644.3" r="4.2"/></g><path d="M1192.0,584.1 L1193.0,584.0 L1194.0,583.8 L1195.0,583.7 L1196.0,583.5 L1197.0,583.4 L1198.0,583.2 L1199.0,583.1 L1200.0,582.9 L1201.0,582.8 L1202.0,582.6 L1203.0,582.5 L1204.0,582.3 L1205.0,582.2 L1206.0,582.0 L1207.0,581.9 L1208.0,581.7 L1209.0,581.6 L1210.0,581.4 L1211.0,581.3 L1212.0,581.1 L1213.0,581.0 L1214.0,580.8 L1215.0,580.7 L1216.0,580.5 L1217.0,580.4 L1218.0,580.2 L1219.0,580.1 L1220.0,579.9 L1221.0,579.7 L1222.0,579.5 L1223.0,579.4 L1224.0,579.2 L1225.0,579.0 L1226.0,578.8 L1227.0,578.6 L1228.0,578.5 L1229.0,578.3 L1230.0,578.2 L1231.0,578.0 L1232.0,577.9 L1233.0,577.8 L1234.0,577.7 L1235.0,577.6 L1236.0,577.6 L1237.0,577.5 L1238.0,577.5 L1239.0,577.4 L1240.0,577.4 L1241.0,577.4 L1242.0,577.3 L1243.0,577.3 L1244.0,577.3 L1245.0,577.3 L1246.0,577.2 L1247.0,577.2 L1248.0,577.2 L1249.0,577.2 L1250.0,577.2 L1251.0,577.1 L1252.0,577.1 L1253.0,577.1 L1254.0,577.0 L1255.0,577.0 L1256.0,576.9 L1257.0,576.9 L1258.0,576.8 L1259.0,576.7 L1260.0,576.6 L1261.0,576.3 L1262.0,575.9 L1263.0,575.4 L1264.0,574.8 L1265.0,574.1 L1266.0,573.5 L1267.0,572.8 L1268.0,572.0 L1269.0,571.2 L1270.0,570.3 L1271.0,569.3 L1272.0,568.2 L1273.0,567.1 L1274.0,565.9 L1275.0,564.7 L1276.0,563.4 L1277.0,562.1 L1278.0,560.8 L1279.0,559.5 L1280.0,558.2 L1281.0,556.9 L1282.0,555.6 L1283.0,554.3 L1284.0,553.0 L1285.0,551.6 L1286.0,550.2 L1287.0,548.7 L1288.0,547.3 L1289.0,545.8 L1290.0,544.3 L1291.0,542.8 L1292.0,541.3 L1293.0,539.7 L1294.0,538.1 L1295.0,536.5 L1296.0,534.9 L1297.0,533.3 L1298.0,531.7 L1299.0,530.1 L1300.0,528.5 L1301.0,526.8 L1302.0,525.2 L1303.0,523.5 L1304.0,521.9 L1305.0,520.2 L1306.0,518.5 L1307.0,516.8 L1308.0,515.1 L1309.0,513.3 L1310.0,511.5 L1311.0,509.7 L1312.0,507.9 L1313.0,506.0 L1314.0,504.1 L1315.0,502.1 L1316.0,500.1 L1317.0,498.1 L1318.0,495.9 L1319.0,493.7 L1320.0,491.3 L1321.0,489.0 L1322.0,486.6 L1323.0,484.1 L1324.0,481.7 L1325.0,479.3 L1326.0,476.9 L1327.0,474.6 L1328.0,472.4 L1329.0,470.0 L1330.0,467.7 L1331.0,465.3 L1332.0,462.9 L1333.0,460.5 L1334.0,458.2 L1335.0,456.1 L1336.0,454.0 L1337.0,452.1 L1338.0,450.4 L1339.0,448.9 L1340.0,447.4 L1341.0,445.9 L1342.0,444.4 L1343.0,443.0 L1344.0,441.9 L1345.0,441.0 L1346.0,440.4 L1347.0,440.3 L1348.0,440.4 L1349.0,440.7 L1350.0,441.0 L1351.0,441.5 L1352.0,442.1 L1353.0,442.7 L1354.0,443.5 L1355.0,444.2 L1356.0,445.0 L1357.0,445.8 L1358.0,446.7 L1359.0,447.8 L1360.0,449.1 L1361.0,450.5 L1362.0,452.1 L1363.0,453.8 L1364.0,455.6 L1365.0,457.5 L1366.0,459.5 L1367.0,461.6 L1368.0,463.7 L1369.0,465.9 L1370.0,468.1 L1371.0,470.5 L1372.0,473.0 L1373.0,475.7 L1374.0,478.6 L1375.0,481.6 L1376.0,484.8 L1377.0,488.0 L1378.0,491.4 L1379.0,494.8 L1380.0,498.4 L1381.0,502.0 L1382.0,505.6 L1383.0,509.2 L1384.0,513.1 L1385.0,517.2 L1386.0,521.5 L1387.0,525.9 L1388.0,530.4 L1389.0,535.0 L1390.0,539.5 L1391.0,544.0 L1392.0,548.5 L1393.0,552.7 L1394.0,556.8 L1395.0,560.8 L1396.0,564.7 L1397.0,568.7 L1398.0,572.6 L1399.0,576.4 L1400.0,580.2 L1401.0,583.8 L1402.0,587.4 L1403.0,590.8 L1404.0,594.2 L1405.0,597.3 L1406.0,600.4 L1407.0,603.6 L1408.0,606.7 L1409.0,609.7 L1410.0,612.7 L1411.0,615.5 L1412.0,618.2 L1413.0,620.7 L1414.0,622.9 L1415.0,624.9 L1416.0,626.5 L1417.0,627.9 L1418.0,629.3 L1419.0,630.7 L1420.0,632.0 L1421.0,633.2 L1422.0,634.3 L1423.0,635.3 L1424.0,636.3 L1425.0,637.1 L1426.0,637.9 L1427.0,638.5 L1428.0,639.0 L1429.0,639.4 L1430.0,639.8 L1431.0,640.1 L1432.0,640.4 L1433.0,640.7 L1434.0,641.0 L1435.0,641.2 L1436.0,641.4 L1437.0,641.7 L1438.0,641.9 L1439.0,642.1 L1440.0,642.2 L1441.0,642.4 L1442.0,642.6 L1443.0,642.7 L1444.0,642.8 L1445.0,642.9 L1446.0,643.0 L1447.0,643.1 L1448.0,643.1 L1449.0,643.2 L1450.0,643.3 L1451.0,643.3 L1452.0,643.4 L1453.0,643.5 L1454.0,643.5 L1455.0,643.6 L1456.0,643.6 L1457.0,643.7 L1458.0,643.7 L1459.0,643.7 L1460.0,643.8 L1461.0,643.8 L1462.0,643.9 L1463.0,643.9 L1464.0,643.9 L1465.0,644.0 L1466.0,644.0 L1467.0,644.0 L1468.0,644.1 L1469.0,644.1 L1470.0,644.1 L1471.0,644.2 L1472.0,644.2 L1473.0,644.2 L1474.0,644.3 L1475.0,644.3 L1476.0,644.3 L1477.0,644.3 L1478.0,644.4 L1479.0,644.4 L1480.0,644.4 L1481.0,644.4 L1482.0,644.5 L1483.0,644.5 L1484.0,644.5 L1485.0,644.5 L1486.0,644.6 L1487.0,644.6 L1488.0,644.6 L1489.0,644.6 L1490.0,644.7 L1491.0,644.7 L1492.0,644.7 L1493.0,644.8 L1494.0,644.8 L1495.0,644.8 L1496.0,644.9 L1497.0,644.9" stroke="#7a7a7a" stroke-width="4.2" fill="none" stroke-linejoin="round" stroke-linecap="round" /><rect x="1190.8" y="426.5" width="307.70000000000005" height="271.0" fill="none" stroke="#000" stroke-width="3.4"/><line x1="1211.5" y1="699" x2="1211.5" y2="706" stroke="#000" stroke-width="3"/><line x1="1307.3" y1="699" x2="1307.3" y2="706" stroke="#000" stroke-width="3"/><line x1="1403.1" y1="699" x2="1403.1" y2="706" stroke="#000" stroke-width="3"/><line x1="1498.9" y1="699" x2="1498.9" y2="706" stroke="#000" stroke-width="3"/><line x1="1259.4" y1="699" x2="1259.4" y2="703" stroke="#000" stroke-width="3"/><line x1="1355.2" y1="699" x2="1355.2" y2="703" stroke="#000" stroke-width="3"/><line x1="1451.0" y1="699" x2="1451.0" y2="703" stroke="#000" stroke-width="3"/><text x="1211.5" y="731.5" font-family="'Liberation Serif', serif" font-size="23.8" font-weight="bold" fill="#000" text-anchor="middle" ><tspan>648</tspan></text><text x="1307.3" y="731.5" font-family="'Liberation Serif', serif" font-size="23.8" font-weight="bold" fill="#000" text-anchor="middle" ><tspan>644</tspan></text><text x="1403.1" y="731.5" font-family="'Liberation Serif', serif" font-size="23.8" font-weight="bold" fill="#000" text-anchor="middle" ><tspan>640</tspan></text><text x="1498.9" y="731.5" font-family="'Liberation Serif', serif" font-size="23.8" font-weight="bold" fill="#000" text-anchor="middle" ><tspan>636</tspan></text><text x="1353.2" y="767.3" font-family="'Liberation Serif', serif" font-size="23.5" font-weight="bold" fill="#000" text-anchor="middle" ><tspan>Binding energy (eV)</tspan></text><text x="1167.0" y="562.7" font-family="'Liberation Serif', serif" font-size="29" font-weight="bold" fill="#000" text-anchor="middle" transform="rotate(-90 1167 562.7)"><tspan>Intensity (a.u.)</tspan></text><text x="1139.0" y="438.0" font-family="'Liberation Serif', serif" font-size="39" font-weight="bold" fill="#000" text-anchor="start" ><tspan>(f)</tspan></text><text x="1196.6" y="453.2" font-family="'Liberation Serif', serif" font-size="24" font-weight="bold" fill="#000" text-anchor="start" ><tspan>Mn 2p</tspan><tspan font-size="16.8" dy="6.72">3/2</tspan></text><text x="1488.8" y="452.3" font-family="'Liberation Serif', serif" font-size="22.3" font-weight="bold" fill="#000" text-anchor="end" ><tspan>CFO</tspan></text><text x="1372.7" y="467.0" font-family="'Liberation Serif', serif" font-size="18" font-weight="bold" fill="#f08830" text-anchor="start" ><tspan>Mn</tspan><tspan font-size="12.2" dy="-7.56">2+</tspan><tspan dy="7.56">-F</tspan></text><text x="1247.3" y="514.0" font-family="'Liberation Serif', serif" font-size="18.5" font-weight="bold" fill="#5a2a6a" text-anchor="start" ><tspan>MnO</tspan><tspan font-size="12.9" dy="5.18">2</tspan></text><text x="1389.3" y="538.0" font-family="'Liberation Serif', serif" font-size="18" font-weight="bold" fill="#c8c020" text-anchor="start" ><tspan>Mn</tspan><tspan font-size="12.2" dy="-7.56">2+</tspan><tspan dy="7.56">-O</tspan></text><text x="1203.0" y="540.8" font-family="'Liberation Serif', serif" font-size="18.5" font-weight="bold" fill="#40a040" text-anchor="start" ><tspan>2.14%</tspan></text><text x="1193.8" y="560.1" font-family="'Liberation Serif', serif" font-size="18.5" font-weight="bold" fill="#40a040" text-anchor="start" ><tspan>KMnO</tspan><tspan font-size="12.9" dy="5.18">4</tspan></text><defs><linearGradient id="xg13" gradientUnits="userSpaceOnUse" x1="0" y1="623.9" x2="0" y2="671.6"><stop offset="0" stop-color="#7a5aa8"/><stop offset="1" stop-color="#b0a0d0"/></linearGradient></defs><path d="M1638.2,653.9 L1639.2,653.8 L1640.2,653.7 L1641.2,653.6 L1642.2,653.4 L1643.2,653.2 L1644.2,653.0 L1645.2,652.7 L1646.2,652.5 L1647.2,652.1 L1648.2,651.7 L1649.2,651.3 L1650.2,650.7 L1651.2,650.1 L1652.2,649.5 L1653.2,648.8 L1654.2,648.0 L1655.2,647.1 L1656.2,646.1 L1657.2,645.1 L1658.2,644.0 L1659.2,642.8 L1660.2,641.5 L1661.2,640.3 L1662.2,638.9 L1663.2,637.5 L1664.2,636.2 L1665.2,634.8 L1666.2,633.4 L1667.2,632.0 L1668.2,630.7 L1669.2,629.5 L1670.2,628.3 L1671.2,627.3 L1672.2,626.3 L1673.2,625.5 L1674.2,624.9 L1675.2,624.4 L1676.2,624.1 L1677.2,623.9 L1678.2,623.9 L1679.2,624.1 L1680.2,624.5 L1681.2,625.0 L1682.2,625.7 L1683.2,626.5 L1684.2,627.5 L1685.2,628.6 L1686.2,629.8 L1687.2,631.1 L1688.2,632.5 L1689.2,633.9 L1690.2,635.4 L1691.2,636.8 L1692.2,638.3 L1693.2,639.8 L1694.2,641.2 L1695.2,642.6 L1696.2,643.9 L1697.2,645.2 L1698.2,646.4 L1699.2,647.5 L1700.2,648.6 L1701.2,649.6 L1702.2,650.5 L1703.2,651.4 L1704.2,652.1 L1705.2,652.8 L1706.2,653.5 L1707.2,654.1 L1708.2,654.6 L1709.2,655.1 L1710.2,655.5 L1711.2,655.9 L1712.2,656.2 L1713.2,656.5 L1714.2,656.8 L1715.2,657.1 L1716.2,657.3 L1717.2,657.6 L1718.2,657.8 L1718.2,658.1 L1717.2,658.0 L1716.2,657.8 L1715.2,657.7 L1714.2,657.6 L1713.2,657.4 L1712.2,657.3 L1711.2,657.2 L1710.2,657.1 L1709.2,657.0 L1708.2,656.9 L1707.2,656.8 L1706.2,656.7 L1705.2,656.6 L1704.2,656.5 L1703.2,656.4 L1702.2,656.3 L1701.2,656.2 L1700.2,656.1 L1699.2,656.0 L1698.2,656.0 L1697.2,655.9 L1696.2,655.8 L1695.2,655.7 L1694.2,655.7 L1693.2,655.6 L1692.2,655.6 L1691.2,655.5 L1690.2,655.4 L1689.2,655.4 L1688.2,655.3 L1687.2,655.3 L1686.2,655.2 L1685.2,655.2 L1684.2,655.1 L1683.2,655.1 L1682.2,655.1 L1681.2,655.0 L1680.2,655.0 L1679.2,654.9 L1678.2,654.9 L1677.2,654.9 L1676.2,654.8 L1675.2,654.8 L1674.2,654.8 L1673.2,654.7 L1672.2,654.7 L1671.2,654.7 L1670.2,654.7 L1669.2,654.6 L1668.2,654.6 L1667.2,654.6 L1666.2,654.6 L1665.2,654.6 L1664.2,654.5 L1663.2,654.5 L1662.2,654.5 L1661.2,654.5 L1660.2,654.5 L1659.2,654.4 L1658.2,654.4 L1657.2,654.4 L1656.2,654.4 L1655.2,654.4 L1654.2,654.4 L1653.2,654.4 L1652.2,654.4 L1651.2,654.3 L1650.2,654.3 L1649.2,654.3 L1648.2,654.3 L1647.2,654.3 L1646.2,654.3 L1645.2,654.3 L1644.2,654.3 L1643.2,654.3 L1642.2,654.3 L1641.2,654.3 L1640.2,654.2 L1639.2,654.2 L1638.2,654.2Z" fill="url(#xg13)" fill-opacity="0.9" stroke="#7a5aa8" stroke-width="0.8"/><defs><linearGradient id="xg14" gradientUnits="userSpaceOnUse" x1="0" y1="619.1" x2="0" y2="671.6"><stop offset="0" stop-color="#48a848"/><stop offset="1" stop-color="#a8d8a8"/></linearGradient></defs><path d="M1660.2,654.1 L1661.2,654.0 L1662.2,654.0 L1663.2,653.8 L1664.2,653.7 L1665.2,653.5 L1666.2,653.3 L1667.2,653.1 L1668.2,652.8 L1669.2,652.4 L1670.2,652.0 L1671.2,651.5 L1672.2,651.0 L1673.2,650.3 L1674.2,649.6 L1675.2,648.8 L1676.2,647.9 L1677.2,646.9 L1678.2,645.8 L1679.2,644.6 L1680.2,643.4 L1681.2,642.0 L1682.2,640.6 L1683.2,639.0 L1684.2,637.5 L1685.2,635.8 L1686.2,634.2 L1687.2,632.5 L1688.2,630.8 L1689.2,629.2 L1690.2,627.6 L1691.2,626.1 L1692.2,624.7 L1693.2,623.3 L1694.2,622.2 L1695.2,621.2 L1696.2,620.4 L1697.2,619.7 L1698.2,619.3 L1699.2,619.1 L1700.2,619.1 L1701.2,619.4 L1702.2,619.8 L1703.2,620.5 L1704.2,621.3 L1705.2,622.4 L1706.2,623.6 L1707.2,625.0 L1708.2,626.5 L1709.2,628.2 L1710.2,629.9 L1711.2,631.7 L1712.2,633.5 L1713.2,635.3 L1714.2,637.2 L1715.2,639.0 L1716.2,640.8 L1717.2,642.5 L1718.2,644.2 L1719.2,645.8 L1720.2,647.3 L1721.2,648.7 L1722.2,650.1 L1723.2,651.3 L1724.2,652.5 L1725.2,653.5 L1726.2,654.5 L1727.2,655.3 L1728.2,656.1 L1729.2,656.9 L1730.2,657.5 L1731.2,658.1 L1732.2,658.7 L1733.2,659.1 L1734.2,659.6 L1735.2,660.0 L1736.2,660.4 L1737.2,660.7 L1738.2,661.0 L1739.2,661.3 L1740.2,661.6 L1740.2,661.9 L1739.2,661.7 L1738.2,661.5 L1737.2,661.3 L1736.2,661.1 L1735.2,660.9 L1734.2,660.7 L1733.2,660.6 L1732.2,660.4 L1731.2,660.2 L1730.2,660.0 L1729.2,659.8 L1728.2,659.7 L1727.2,659.5 L1726.2,659.3 L1725.2,659.2 L1724.2,659.0 L1723.2,658.8 L1722.2,658.7 L1721.2,658.5 L1720.2,658.4 L1719.2,658.2 L1718.2,658.1 L1717.2,658.0 L1716.2,657.8 L1715.2,657.7 L1714.2,657.6 L1713.2,657.4 L1712.2,657.3 L1711.2,657.2 L1710.2,657.1 L1709.2,657.0 L1708.2,656.9 L1707.2,656.8 L1706.2,656.7 L1705.2,656.6 L1704.2,656.5 L1703.2,656.4 L1702.2,656.3 L1701.2,656.2 L1700.2,656.1 L1699.2,656.0 L1698.2,656.0 L1697.2,655.9 L1696.2,655.8 L1695.2,655.7 L1694.2,655.7 L1693.2,655.6 L1692.2,655.6 L1691.2,655.5 L1690.2,655.4 L1689.2,655.4 L1688.2,655.3 L1687.2,655.3 L1686.2,655.2 L1685.2,655.2 L1684.2,655.1 L1683.2,655.1 L1682.2,655.1 L1681.2,655.0 L1680.2,655.0 L1679.2,654.9 L1678.2,654.9 L1677.2,654.9 L1676.2,654.8 L1675.2,654.8 L1674.2,654.8 L1673.2,654.7 L1672.2,654.7 L1671.2,654.7 L1670.2,654.7 L1669.2,654.6 L1668.2,654.6 L1667.2,654.6 L1666.2,654.6 L1665.2,654.6 L1664.2,654.5 L1663.2,654.5 L1662.2,654.5 L1661.2,654.5 L1660.2,654.5Z" fill="url(#xg14)" fill-opacity="0.9" stroke="#48a848" stroke-width="0.8"/><defs><linearGradient id="xg15" gradientUnits="userSpaceOnUse" x1="0" y1="477.8" x2="0" y2="671.6"><stop offset="0" stop-color="#ee8a2e"/><stop offset="1" stop-color="#f8d0b0"/></linearGradient></defs><path d="M1680.2,654.6 L1681.2,654.6 L1682.2,654.5 L1683.2,654.4 L1684.2,654.3 L1685.2,654.1 L1686.2,653.9 L1687.2,653.7 L1688.2,653.4 L1689.2,653.0 L1690.2,652.6 L1691.2,652.0 L1692.2,651.4 L1693.2,650.6 L1694.2,649.7 L1695.2,648.7 L1696.2,647.5 L1697.2,646.1 L1698.2,644.5 L1699.2,642.7 L1700.2,640.7 L1701.2,638.4 L1702.2,635.8 L1703.2,632.9 L1704.2,629.7 L1705.2,626.2 L1706.2,622.3 L1707.2,618.1 L1708.2,613.5 L1709.2,608.6 L1710.2,603.4 L1711.2,597.8 L1712.2,591.9 L1713.2,585.7 L1714.2,579.2 L1715.2,572.5 L1716.2,565.6 L1717.2,558.6 L1718.2,551.5 L1719.2,544.3 L1720.2,537.2 L1721.2,530.2 L1722.2,523.3 L1723.2,516.7 L1724.2,510.3 L1725.2,504.4 L1726.2,498.9 L1727.2,493.9 L1728.2,489.5 L1729.2,485.7 L1730.2,482.6 L1731.2,480.3 L1732.2,478.7 L1733.2,477.8 L1734.2,477.8 L1735.2,478.5 L1736.2,480.0 L1737.2,482.3 L1738.2,485.4 L1739.2,489.1 L1740.2,493.5 L1741.2,498.5 L1742.2,504.1 L1743.2,510.1 L1744.2,516.6 L1745.2,523.4 L1746.2,530.5 L1747.2,537.8 L1748.2,545.2 L1749.2,552.7 L1750.2,560.2 L1751.2,567.6 L1752.2,574.9 L1753.2,582.1 L1754.2,589.0 L1755.2,595.7 L1756.2,602.0 L1757.2,608.1 L1758.2,613.9 L1759.2,619.3 L1760.2,624.3 L1761.2,629.0 L1762.2,633.4 L1763.2,637.4 L1764.2,641.0 L1765.2,644.3 L1766.2,647.4 L1767.2,650.1 L1768.2,652.5 L1769.2,654.7 L1770.2,656.6 L1771.2,658.4 L1772.2,659.9 L1773.2,661.2 L1774.2,662.4 L1775.2,663.4 L1776.2,664.3 L1777.2,665.1 L1778.2,665.8 L1779.2,666.3 L1780.2,666.9 L1781.2,667.3 L1782.2,667.7 L1783.2,668.0 L1784.2,668.3 L1785.2,668.5 L1786.2,668.8 L1787.2,669.0 L1788.2,669.1 L1788.2,669.4 L1787.2,669.4 L1786.2,669.3 L1785.2,669.2 L1784.2,669.1 L1783.2,669.0 L1782.2,668.9 L1781.2,668.8 L1780.2,668.7 L1779.2,668.5 L1778.2,668.4 L1777.2,668.3 L1776.2,668.2 L1775.2,668.1 L1774.2,667.9 L1773.2,667.8 L1772.2,667.7 L1771.2,667.5 L1770.2,667.4 L1769.2,667.2 L1768.2,667.1 L1767.2,666.9 L1766.2,666.8 L1765.2,666.6 L1764.2,666.4 L1763.2,666.3 L1762.2,666.1 L1761.2,665.9 L1760.2,665.8 L1759.2,665.6 L1758.2,665.4 L1757.2,665.2 L1756.2,665.0 L1755.2,664.8 L1754.2,664.7 L1753.2,664.5 L1752.2,664.3 L1751.2,664.1 L1750.2,663.9 L1749.2,663.7 L1748.2,663.5 L1747.2,663.3 L1746.2,663.1 L1745.2,662.9 L1744.2,662.7 L1743.2,662.5 L1742.2,662.3 L1741.2,662.1 L1740.2,661.9 L1739.2,661.7 L1738.2,661.5 L1737.2,661.3 L1736.2,661.1 L1735.2,660.9 L1734.2,660.7 L1733.2,660.6 L1732.2,660.4 L1731.2,660.2 L1730.2,660.0 L1729.2,659.8 L1728.2,659.7 L1727.2,659.5 L1726.2,659.3 L1725.2,659.2 L1724.2,659.0 L1723.2,658.8 L1722.2,658.7 L1721.2,658.5 L1720.2,658.4 L1719.2,658.2 L1718.2,658.1 L1717.2,658.0 L1716.2,657.8 L1715.2,657.7 L1714.2,657.6 L1713.2,657.4 L1712.2,657.3 L1711.2,657.2 L1710.2,657.1 L1709.2,657.0 L1708.2,656.9 L1707.2,656.8 L1706.2,656.7 L1705.2,656.6 L1704.2,656.5 L1703.2,656.4 L1702.2,656.3 L1701.2,656.2 L1700.2,656.1 L1699.2,656.0 L1698.2,656.0 L1697.2,655.9 L1696.2,655.8 L1695.2,655.7 L1694.2,655.7 L1693.2,655.6 L1692.2,655.6 L1691.2,655.5 L1690.2,655.4 L1689.2,655.4 L1688.2,655.3 L1687.2,655.3 L1686.2,655.2 L1685.2,655.2 L1684.2,655.1 L1683.2,655.1 L1682.2,655.1 L1681.2,655.0 L1680.2,655.0Z" fill="url(#xg15)" fill-opacity="0.88" stroke="#ee8a2e" stroke-width="0.8"/><defs><linearGradient id="xg16" gradientUnits="userSpaceOnUse" x1="0" y1="630.1" x2="0" y2="671.6"><stop offset="0" stop-color="#3e6cb6"/><stop offset="1" stop-color="#a0b8e0"/></linearGradient></defs><path d="M1717.2,657.6 L1718.2,657.7 L1719.2,657.7 L1720.2,657.8 L1721.2,657.8 L1722.2,657.8 L1723.2,657.7 L1724.2,657.7 L1725.2,657.6 L1726.2,657.5 L1727.2,657.4 L1728.2,657.2 L1729.2,656.9 L1730.2,656.6 L1731.2,656.3 L1732.2,655.9 L1733.2,655.4 L1734.2,654.9 L1735.2,654.3 L1736.2,653.6 L1737.2,652.9 L1738.2,652.1 L1739.2,651.2 L1740.2,650.3 L1741.2,649.3 L1742.2,648.2 L1743.2,647.1 L1744.2,645.9 L1745.2,644.7 L1746.2,643.4 L1747.2,642.2 L1748.2,640.9 L1749.2,639.7 L1750.2,638.4 L1751.2,637.2 L1752.2,636.1 L1753.2,635.0 L1754.2,633.9 L1755.2,633.0 L1756.2,632.2 L1757.2,631.5 L1758.2,630.9 L1759.2,630.5 L1760.2,630.2 L1761.2,630.1 L1762.2,630.1 L1763.2,630.3 L1764.2,630.6 L1765.2,631.2 L1766.2,631.8 L1767.2,632.6 L1768.2,633.5 L1769.2,634.6 L1770.2,635.8 L1771.2,637.0 L1772.2,638.4 L1773.2,639.8 L1774.2,641.3 L1775.2,642.9 L1776.2,644.5 L1777.2,646.0 L1778.2,647.6 L1779.2,649.2 L1780.2,650.7 L1781.2,652.3 L1782.2,653.7 L1783.2,655.1 L1784.2,656.5 L1785.2,657.8 L1786.2,659.0 L1787.2,660.1 L1788.2,661.2 L1789.2,662.2 L1790.2,663.1 L1791.2,664.0 L1792.2,664.8 L1793.2,665.5 L1794.2,666.1 L1795.2,666.7 L1796.2,667.2 L1797.2,667.7 L1798.2,668.1 L1799.2,668.5 L1800.2,668.8 L1801.2,669.1 L1802.2,669.3 L1803.2,669.6 L1804.2,669.8 L1805.2,669.9 L1806.2,670.1 L1807.2,670.2 L1808.2,670.3 L1808.2,670.7 L1807.2,670.6 L1806.2,670.6 L1805.2,670.5 L1804.2,670.5 L1803.2,670.4 L1802.2,670.4 L1801.2,670.3 L1800.2,670.3 L1799.2,670.2 L1798.2,670.2 L1797.2,670.1 L1796.2,670.0 L1795.2,670.0 L1794.2,669.9 L1793.2,669.8 L1792.2,669.8 L1791.2,669.7 L1790.2,669.6 L1789.2,669.5 L1788.2,669.4 L1787.2,669.4 L1786.2,669.3 L1785.2,669.2 L1784.2,669.1 L1783.2,669.0 L1782.2,668.9 L1781.2,668.8 L1780.2,668.7 L1779.2,668.5 L1778.2,668.4 L1777.2,668.3 L1776.2,668.2 L1775.2,668.1 L1774.2,667.9 L1773.2,667.8 L1772.2,667.7 L1771.2,667.5 L1770.2,667.4 L1769.2,667.2 L1768.2,667.1 L1767.2,666.9 L1766.2,666.8 L1765.2,666.6 L1764.2,666.4 L1763.2,666.3 L1762.2,666.1 L1761.2,665.9 L1760.2,665.8 L1759.2,665.6 L1758.2,665.4 L1757.2,665.2 L1756.2,665.0 L1755.2,664.8 L1754.2,664.7 L1753.2,664.5 L1752.2,664.3 L1751.2,664.1 L1750.2,663.9 L1749.2,663.7 L1748.2,663.5 L1747.2,663.3 L1746.2,663.1 L1745.2,662.9 L1744.2,662.7 L1743.2,662.5 L1742.2,662.3 L1741.2,662.1 L1740.2,661.9 L1739.2,661.7 L1738.2,661.5 L1737.2,661.3 L1736.2,661.1 L1735.2,660.9 L1734.2,660.7 L1733.2,660.6 L1732.2,660.4 L1731.2,660.2 L1730.2,660.0 L1729.2,659.8 L1728.2,659.7 L1727.2,659.5 L1726.2,659.3 L1725.2,659.2 L1724.2,659.0 L1723.2,658.8 L1722.2,658.7 L1721.2,658.5 L1720.2,658.4 L1719.2,658.2 L1718.2,658.1 L1717.2,658.0Z" fill="url(#xg16)" fill-opacity="0.9" stroke="#3e6cb6" stroke-width="0.8"/><g fill="#bdbdbd"><circle cx="1582.4" cy="653.1" r="4.2"/><circle cx="1584.4" cy="652.9" r="4.2"/><circle cx="1586.1" cy="649.4" r="4.2"/><circle cx="1590.1" cy="650.3" r="4.2"/><circle cx="1593.2" cy="650.6" r="4.2"/><circle cx="1596.4" cy="650.6" r="4.2"/><circle cx="1599.8" cy="651.5" r="4.2"/><circle cx="1602.1" cy="650.5" r="4.2"/><circle cx="1606.4" cy="648.6" r="4.2"/><circle cx="1607.6" cy="648.5" r="4.2"/><circle cx="1612.5" cy="646.8" r="4.2"/><circle cx="1613.9" cy="646.7" r="4.2"/><circle cx="1616.6" cy="646.0" r="4.2"/><circle cx="1621.3" cy="647.1" r="4.2"/><circle cx="1624.5" cy="646.3" r="4.2"/><circle cx="1625.9" cy="644.0" r="4.2"/><circle cx="1629.9" cy="645.1" r="4.2"/><circle cx="1631.9" cy="647.2" r="4.2"/><circle cx="1634.7" cy="643.6" r="4.2"/><circle cx="1638.6" cy="644.5" r="4.2"/><circle cx="1641.5" cy="639.3" r="4.2"/><circle cx="1643.2" cy="641.2" r="4.2"/><circle cx="1647.0" cy="637.9" r="4.2"/><circle cx="1648.5" cy="638.9" r="4.2"/><circle cx="1650.2" cy="632.2" r="4.2"/><circle cx="1652.6" cy="631.1" r="4.2"/><circle cx="1653.5" cy="629.2" r="4.2"/><circle cx="1655.3" cy="628.4" r="4.2"/><circle cx="1659.4" cy="626.7" r="4.2"/><circle cx="1660.0" cy="624.9" r="4.2"/><circle cx="1662.7" cy="620.1" r="4.2"/><circle cx="1664.2" cy="616.6" r="4.2"/><circle cx="1665.3" cy="611.1" r="4.2"/><circle cx="1668.1" cy="610.6" r="4.2"/><circle cx="1670.4" cy="606.5" r="4.2"/><circle cx="1672.8" cy="605.9" r="4.2"/><circle cx="1674.1" cy="601.7" r="4.2"/><circle cx="1676.5" cy="601.7" r="4.2"/><circle cx="1678.3" cy="598.7" r="4.2"/><circle cx="1680.8" cy="597.1" r="4.2"/><circle cx="1681.6" cy="595.4" r="4.2"/><circle cx="1684.2" cy="590.6" r="4.2"/><circle cx="1686.6" cy="590.0" r="4.2"/><circle cx="1688.4" cy="590.2" r="4.2"/><circle cx="1690.8" cy="589.3" r="4.2"/><circle cx="1692.6" cy="583.8" r="4.2"/><circle cx="1695.9" cy="583.9" r="4.2"/><circle cx="1697.8" cy="583.4" r="4.2"/><circle cx="1701.6" cy="577.9" r="4.2"/><circle cx="1704.0" cy="575.5" r="4.2"/><circle cx="1706.5" cy="575.8" r="4.2"/><circle cx="1706.6" cy="574.6" r="4.2"/><circle cx="1709.1" cy="571.6" r="4.2"/><circle cx="1709.7" cy="565.8" r="4.2"/><circle cx="1710.9" cy="566.7" r="4.2"/><circle cx="1711.3" cy="559.0" r="4.2"/><circle cx="1711.1" cy="557.7" r="4.2"/><circle cx="1714.2" cy="557.0" r="4.2"/><circle cx="1714.6" cy="549.4" r="4.2"/><circle cx="1715.0" cy="546.3" r="4.2"/><circle cx="1716.5" cy="541.6" r="4.2"/><circle cx="1716.3" cy="537.6" r="4.2"/><circle cx="1718.3" cy="530.5" r="4.2"/><circle cx="1718.4" cy="522.2" r="4.2"/><circle cx="1721.2" cy="518.6" r="4.2"/><circle cx="1721.1" cy="509.6" r="4.2"/><circle cx="1722.2" cy="508.5" r="4.2"/><circle cx="1722.7" cy="500.8" r="4.2"/><circle cx="1723.5" cy="493.9" r="4.2"/><circle cx="1725.4" cy="490.8" r="4.2"/><circle cx="1725.8" cy="484.9" r="4.2"/><circle cx="1728.1" cy="480.8" r="4.2"/><circle cx="1728.9" cy="473.2" r="4.2"/><circle cx="1729.0" cy="469.9" r="4.2"/><circle cx="1729.7" cy="462.6" r="4.2"/><circle cx="1731.0" cy="459.8" r="4.2"/><circle cx="1732.8" cy="456.1" r="4.2"/><circle cx="1736.1" cy="460.4" r="4.2"/><circle cx="1738.9" cy="462.8" r="4.2"/><circle cx="1739.9" cy="468.1" r="4.2"/><circle cx="1742.2" cy="470.0" r="4.2"/><circle cx="1742.5" cy="478.3" r="4.2"/><circle cx="1743.6" cy="484.1" r="4.2"/><circle cx="1745.1" cy="495.4" r="4.2"/><circle cx="1745.8" cy="508.1" r="4.2"/><circle cx="1748.2" cy="520.2" r="4.2"/><circle cx="1747.9" cy="527.4" r="4.2"/><circle cx="1749.7" cy="532.4" r="4.2"/><circle cx="1749.3" cy="542.0" r="4.2"/><circle cx="1752.2" cy="549.0" r="4.2"/><circle cx="1752.8" cy="554.7" r="4.2"/><circle cx="1754.4" cy="562.2" r="4.2"/><circle cx="1753.2" cy="565.6" r="4.2"/><circle cx="1754.5" cy="571.2" r="4.2"/><circle cx="1756.3" cy="577.0" r="4.2"/><circle cx="1758.4" cy="584.4" r="4.2"/><circle cx="1759.4" cy="586.8" r="4.2"/><circle cx="1759.2" cy="590.8" r="4.2"/><circle cx="1759.7" cy="595.1" r="4.2"/><circle cx="1760.7" cy="598.4" r="4.2"/><circle cx="1762.3" cy="604.3" r="4.2"/><circle cx="1762.1" cy="607.7" r="4.2"/><circle cx="1763.7" cy="614.4" r="4.2"/><circle cx="1764.1" cy="614.4" r="4.2"/><circle cx="1765.8" cy="618.0" r="4.2"/><circle cx="1767.3" cy="622.8" r="4.2"/><circle cx="1769.0" cy="626.9" r="4.2"/><circle cx="1769.4" cy="630.3" r="4.2"/><circle cx="1771.1" cy="632.8" r="4.2"/><circle cx="1771.8" cy="631.3" r="4.2"/><circle cx="1773.3" cy="637.3" r="4.2"/><circle cx="1774.7" cy="641.2" r="4.2"/><circle cx="1775.7" cy="645.5" r="4.2"/><circle cx="1777.4" cy="647.6" r="4.2"/><circle cx="1780.8" cy="650.5" r="4.2"/><circle cx="1782.3" cy="653.3" r="4.2"/><circle cx="1785.2" cy="654.2" r="4.2"/><circle cx="1785.9" cy="656.6" r="4.2"/><circle cx="1788.7" cy="656.4" r="4.2"/><circle cx="1790.3" cy="661.9" r="4.2"/><circle cx="1792.6" cy="663.3" r="4.2"/><circle cx="1794.6" cy="663.8" r="4.2"/><circle cx="1798.9" cy="663.8" r="4.2"/><circle cx="1800.2" cy="666.4" r="4.2"/><circle cx="1804.6" cy="665.3" r="4.2"/><circle cx="1807.1" cy="667.3" r="4.2"/><circle cx="1810.0" cy="666.7" r="4.2"/><circle cx="1812.9" cy="666.0" r="4.2"/><circle cx="1815.3" cy="668.7" r="4.2"/><circle cx="1819.7" cy="664.9" r="4.2"/><circle cx="1823.4" cy="666.8" r="4.2"/><circle cx="1825.1" cy="666.0" r="4.2"/><circle cx="1828.3" cy="667.4" r="4.2"/><circle cx="1832.5" cy="666.3" r="4.2"/><circle cx="1835.3" cy="668.9" r="4.2"/><circle cx="1837.6" cy="669.1" r="4.2"/><circle cx="1839.7" cy="669.0" r="4.2"/><circle cx="1842.5" cy="667.5" r="4.2"/><circle cx="1847.2" cy="669.8" r="4.2"/><circle cx="1848.2" cy="667.4" r="4.2"/><circle cx="1853.4" cy="668.5" r="4.2"/><circle cx="1855.4" cy="667.2" r="4.2"/><circle cx="1857.6" cy="670.6" r="4.2"/><circle cx="1860.6" cy="668.5" r="4.2"/><circle cx="1865.3" cy="669.2" r="4.2"/><circle cx="1866.4" cy="670.1" r="4.2"/><circle cx="1870.8" cy="668.7" r="4.2"/><circle cx="1873.0" cy="672.2" r="4.2"/><circle cx="1875.6" cy="669.9" r="4.2"/></g><path d="M1578.3,651.3 L1579.3,651.2 L1580.3,651.2 L1581.3,651.1 L1582.3,651.1 L1583.3,651.0 L1584.3,651.0 L1585.3,650.9 L1586.3,650.8 L1587.3,650.8 L1588.3,650.7 L1589.3,650.7 L1590.3,650.6 L1591.3,650.6 L1592.3,650.5 L1593.3,650.5 L1594.3,650.4 L1595.3,650.4 L1596.3,650.3 L1597.3,650.2 L1598.3,650.2 L1599.3,650.1 L1600.3,650.0 L1601.3,650.0 L1602.3,649.9 L1603.3,649.8 L1604.3,649.7 L1605.3,649.6 L1606.3,649.6 L1607.3,649.5 L1608.3,649.4 L1609.3,649.3 L1610.3,649.1 L1611.3,649.0 L1612.3,648.9 L1613.3,648.8 L1614.3,648.6 L1615.3,648.5 L1616.3,648.3 L1617.3,648.2 L1618.3,648.0 L1619.3,647.8 L1620.3,647.7 L1621.3,647.5 L1622.3,647.3 L1623.3,647.1 L1624.3,646.9 L1625.3,646.7 L1626.3,646.4 L1627.3,646.2 L1628.3,645.9 L1629.3,645.7 L1630.3,645.4 L1631.3,645.2 L1632.3,644.9 L1633.3,644.6 L1634.3,644.3 L1635.3,644.0 L1636.3,643.6 L1637.3,643.3 L1638.3,643.0 L1639.3,642.6 L1640.3,642.1 L1641.3,641.6 L1642.3,641.0 L1643.3,640.3 L1644.3,639.6 L1645.3,638.9 L1646.3,638.1 L1647.3,637.3 L1648.3,636.4 L1649.3,635.5 L1650.3,634.6 L1651.3,633.6 L1652.3,632.7 L1653.3,631.7 L1654.3,630.6 L1655.3,629.5 L1656.3,628.2 L1657.3,626.9 L1658.3,625.5 L1659.3,624.1 L1660.3,622.6 L1661.3,621.1 L1662.3,619.6 L1663.3,618.1 L1664.3,616.5 L1665.3,615.1 L1666.3,613.6 L1667.3,612.2 L1668.3,610.9 L1669.3,609.5 L1670.3,608.2 L1671.3,606.8 L1672.3,605.4 L1673.3,604.0 L1674.3,602.7 L1675.3,601.3 L1676.3,600.0 L1677.3,598.8 L1678.3,597.6 L1679.3,596.5 L1680.3,595.4 L1681.3,594.4 L1682.3,593.5 L1683.3,592.6 L1684.3,591.7 L1685.3,590.9 L1686.3,590.1 L1687.3,589.3 L1688.3,588.5 L1689.3,587.7 L1690.3,587.0 L1691.3,586.2 L1692.3,585.5 L1693.3,584.8 L1694.3,584.1 L1695.3,583.6 L1696.3,583.0 L1697.3,582.4 L1698.3,581.8 L1699.3,581.2 L1700.3,580.6 L1701.3,579.8 L1702.3,579.0 L1703.3,578.1 L1704.3,577.0 L1705.3,575.8 L1706.3,574.1 L1707.3,572.1 L1708.3,569.8 L1709.3,567.1 L1710.3,564.3 L1711.3,561.1 L1712.3,557.9 L1713.3,554.4 L1714.3,550.8 L1715.3,546.5 L1716.3,541.4 L1717.3,535.9 L1718.3,530.0 L1719.3,523.9 L1720.3,517.9 L1721.3,512.0 L1722.3,506.5 L1723.3,501.5 L1724.3,496.2 L1725.3,490.5 L1726.3,484.6 L1727.3,478.9 L1728.3,473.4 L1729.3,468.5 L1730.3,464.3 L1731.3,461.1 L1732.3,459.2 L1733.3,458.7 L1734.3,458.9 L1735.3,459.4 L1736.3,460.2 L1737.3,461.3 L1738.3,462.6 L1739.3,464.1 L1740.3,465.8 L1741.3,467.7 L1742.3,471.2 L1743.3,477.7 L1744.3,486.6 L1745.3,496.7 L1746.3,507.4 L1747.3,517.7 L1748.3,526.8 L1749.3,534.1 L1750.3,540.9 L1751.3,547.6 L1752.3,554.0 L1753.3,560.3 L1754.3,566.3 L1755.3,572.1 L1756.3,577.7 L1757.3,582.9 L1758.3,587.9 L1759.3,592.5 L1760.3,596.8 L1761.3,600.9 L1762.3,604.9 L1763.3,608.7 L1764.3,612.4 L1765.3,615.9 L1766.3,619.2 L1767.3,622.4 L1768.3,625.3 L1769.3,628.1 L1770.3,630.6 L1771.3,632.9 L1772.3,635.1 L1773.3,637.3 L1774.3,639.3 L1775.3,641.3 L1776.3,643.1 L1777.3,644.9 L1778.3,646.6 L1779.3,648.2 L1780.3,649.7 L1781.3,651.1 L1782.3,652.4 L1783.3,653.5 L1784.3,654.6 L1785.3,655.7 L1786.3,656.7 L1787.3,657.8 L1788.3,658.7 L1789.3,659.7 L1790.3,660.6 L1791.3,661.4 L1792.3,662.1 L1793.3,662.8 L1794.3,663.3 L1795.3,663.8 L1796.3,664.1 L1797.3,664.3 L1798.3,664.6 L1799.3,664.8 L1800.3,665.0 L1801.3,665.1 L1802.3,665.3 L1803.3,665.5 L1804.3,665.7 L1805.3,665.8 L1806.3,666.0 L1807.3,666.1 L1808.3,666.2 L1809.3,666.4 L1810.3,666.5 L1811.3,666.6 L1812.3,666.7 L1813.3,666.8 L1814.3,666.9 L1815.3,667.0 L1816.3,667.1 L1817.3,667.2 L1818.3,667.2 L1819.3,667.3 L1820.3,667.4 L1821.3,667.5 L1822.3,667.5 L1823.3,667.6 L1824.3,667.7 L1825.3,667.7 L1826.3,667.8 L1827.3,667.9 L1828.3,667.9 L1829.3,668.0 L1830.3,668.0 L1831.3,668.1 L1832.3,668.1 L1833.3,668.2 L1834.3,668.2 L1835.3,668.3 L1836.3,668.3 L1837.3,668.4 L1838.3,668.4 L1839.3,668.5 L1840.3,668.5 L1841.3,668.6 L1842.3,668.6 L1843.3,668.6 L1844.3,668.7 L1845.3,668.7 L1846.3,668.8 L1847.3,668.8 L1848.3,668.8 L1849.3,668.9 L1850.3,668.9 L1851.3,668.9 L1852.3,669.0 L1853.3,669.0 L1854.3,669.0 L1855.3,669.1 L1856.3,669.1 L1857.3,669.1 L1858.3,669.2 L1859.3,669.2 L1860.3,669.2 L1861.3,669.3 L1862.3,669.3 L1863.3,669.3 L1864.3,669.4 L1865.3,669.4 L1866.3,669.4 L1867.3,669.5 L1868.3,669.5 L1869.3,669.5 L1870.3,669.6 L1871.3,669.6 L1872.3,669.6 L1873.3,669.7 L1874.3,669.7 L1875.3,669.7 L1876.3,669.8" stroke="#7a7a7a" stroke-width="4.2" fill="none" stroke-linejoin="round" stroke-linecap="round" /><rect x="1577.2" y="425.9" width="302.39999999999986" height="268.80000000000007" fill="none" stroke="#000" stroke-width="3.4"/><line x1="1576.1" y1="696" x2="1576.1" y2="703" stroke="#000" stroke-width="3"/><line x1="1686.1" y1="696" x2="1686.1" y2="703" stroke="#000" stroke-width="3"/><line x1="1796.1" y1="696" x2="1796.1" y2="703" stroke="#000" stroke-width="3"/><line x1="1631.1" y1="696" x2="1631.1" y2="700" stroke="#000" stroke-width="3"/><line x1="1741.1" y1="696" x2="1741.1" y2="700" stroke="#000" stroke-width="3"/><line x1="1851.1" y1="696" x2="1851.1" y2="700" stroke="#000" stroke-width="3"/><text x="1576.1" y="732.0" font-family="'Liberation Serif', serif" font-size="23.8" font-weight="bold" fill="#000" text-anchor="middle" ><tspan>536</tspan></text><text x="1686.1" y="732.0" font-family="'Liberation Serif', serif" font-size="23.8" font-weight="bold" fill="#000" text-anchor="middle" ><tspan>532</tspan></text><text x="1796.1" y="732.0" font-family="'Liberation Serif', serif" font-size="23.8" font-weight="bold" fill="#000" text-anchor="middle" ><tspan>528</tspan></text><text x="1739.7" y="764.7" font-family="'Liberation Serif', serif" font-size="23.2" font-weight="bold" fill="#000" text-anchor="middle" ><tspan>Binding energy (eV)</tspan></text><text x="1560.0" y="549.8" font-family="'Liberation Serif', serif" font-size="29.4" font-weight="bold" fill="#000" text-anchor="middle" transform="rotate(-90 1560 549.8)"><tspan>Intensity (a.u.)</tspan></text><text x="1515.0" y="437.0" font-family="'Liberation Serif', serif" font-size="39" font-weight="bold" fill="#000" text-anchor="start" ><tspan>(g)</tspan></text><text x="1581.0" y="449.5" font-family="'Liberation Serif', serif" font-size="24" font-weight="bold" fill="#000" text-anchor="start" ><tspan>O 1s</tspan></text><text x="1874.1" y="449.5" font-family="'Liberation Serif', serif" font-size="22.3" font-weight="bold" fill="#000" text-anchor="end" ><tspan>CFO</tspan></text><text x="1722.0" y="450.4" font-family="'Liberation Serif', serif" font-size="19.5" font-weight="bold" fill="#f08830" text-anchor="start" ><tspan>Mn-O-C</tspan></text><text x="1630.8" y="546.3" font-family="'Liberation Serif', serif" font-size="19.5" font-weight="bold" fill="#40a840" text-anchor="start" ><tspan>Mn-O-H</tspan></text><text x="1629.9" y="574.0" font-family="'Liberation Serif', serif" font-size="19.5" font-weight="bold" fill="#40a840" text-anchor="start" ><tspan>/C-O</tspan></text><text x="1614.2" y="621.0" font-family="'Liberation Serif', serif" font-size="19.5" font-weight="bold" fill="#7a5aa8" text-anchor="start" ><tspan>H</tspan><tspan font-size="13.6" dy="5.46">2</tspan><tspan dy="-5.46">O</tspan></text><text x="1782.9" y="623.7" font-family="'Liberation Serif', serif" font-size="19.3" font-weight="bold" fill="#2e60b0" text-anchor="start" ><tspan>Mn-O-Mn</tspan></text><defs>
<filter id="semh" x="0" y="0" width="1" height="1" color-interpolation-filters="sRGB">
 <feTurbulence type="fractalNoise" baseFrequency="0.34" numOctaves="4" seed="4"/>
 <feColorMatrix type="matrix" values="0.7 0 0 0 0.14  0.7 0 0 0 0.14  0.7 0 0 0 0.14  0 0 0 0 1"/>
</filter>
<filter id="semi" x="0" y="0" width="1" height="1" color-interpolation-filters="sRGB">
 <feTurbulence type="fractalNoise" baseFrequency="0.05" numOctaves="3" seed="9" result="a0"/>
 <feColorMatrix in="a0" type="matrix" values="1 0 0 0 0  1 0 0 0 0  1 0 0 0 0  0 0 0 0 1" result="a"/>
 <feTurbulence type="fractalNoise" baseFrequency="0.26" numOctaves="3" seed="3" result="b0"/>
 <feColorMatrix in="b0" type="matrix" values="1 0 0 0 0  1 0 0 0 0  1 0 0 0 0  0 0 0 0 1" result="b"/>
 <feComposite in="a" in2="b" operator="arithmetic" k1="0" k2="0.35" k3="1.0" k4="-0.27"/>
 <feColorMatrix type="matrix" values="0.8 0 0 0 0.1  0.8 0 0 0 0.1  0.8 0 0 0 0.1  0 0 0 0 1"/>
</filter>
<filter id="smooth" x="0" y="0" width="1" height="1" color-interpolation-filters="sRGB">
 <feTurbulence type="fractalNoise" baseFrequency="0.02" numOctaves="2" seed="5"/>
 <feColorMatrix type="matrix" values="0.06 0 0 0 0.32  0.06 0 0 0 0.32  0.06 0 0 0 0.32  0 0 0 0 1"/>
</filter>
<clipPath id="h_flake"><path d="M171,815.4 L459.9,815.4 L459.9,960 L441.4,971.4 L420.6,989.9 L404.4,1017.6 L390.5,1040.7 L362.8,1056.9 L346.6,1077.7 L328.1,1108.9 L39.7,1108.9 L39.7,1026.9 L43.9,1013 L69.3,1001.4 L94.7,980.6 L108.6,950.6 L113.2,927.5 L127,902 L141,883.6 L152.5,858.2 L150.2,832.7 Z"/></clipPath>
<clipPath id="h_sub"><path d="M39.7,815.4 L175,815.4 L154,832.7 L156.5,858.2 L145,883.6 L131,902 L117.2,927.5 L112.6,950.6 L98.7,980.6 L73.3,1001.4 L47.9,1013 L43.7,1030 L39.7,1030 Z"/></clipPath>
</defs><svg x="39.7" y="815.4" width="420.2" height="293.5" viewBox="39.7 815.4 420.2 293.5" overflow="hidden"><rect x="39.7" y="815.4" width="420.2" height="293.5" fill="#1c1c1c"/><g clip-path="url(#h_sub)"><rect x="39.7" y="815.4" width="140" height="216" fill="#585858" filter="url(#smooth)"/></g><g clip-path="url(#h_flake)"><rect x="39.7" y="815.4" width="420.2" height="293.5" filter="url(#semh)"/></g><ellipse cx="428" cy="1092" rx="30" ry="11" transform="rotate(-40 428 1092)" fill="#3c3c3c"/><ellipse cx="455" cy="1025" rx="5" ry="32" fill="#353535"/><path d="M171,815.4 L150.2,832.7 L152.5,858.2 L141,883.6 L127,902 L113.2,927.5 L108.6,950.6 L94.7,980.6 L69.3,1001.4 L43.9,1013 L39.7,1026.9" fill="none" stroke="#b0b0b0" stroke-width="3" opacity="0.55"/><path d="M459.9,960 L441.4,971.4 L420.6,989.9 L404.4,1017.6 L390.5,1040.7 L362.8,1056.9 L346.6,1077.7 L328.1,1108.9" fill="none" stroke="#a8a8a8" stroke-width="3" opacity="0.5"/><path d="M245,870 Q262,860 280,872 Q290,890 282,905 Q270,915 258,905 Q250,920 262,940 Q255,950 245,930 Q238,900 245,870 Z" fill="#4a4a4a" opacity="0.45"/><ellipse cx="214" cy="921" rx="5" ry="12" fill="#555" opacity="0.6"/><path d="M412,876 Q400,900 392,925 Q386,940 370,948 L374,952 Q392,944 398,928 Q404,905 416,882 Z" fill="#3a3a3a" opacity="0.6"/><path d="M262,905 Q270,930 275,960 Q268,965 262,950 Q255,925 262,905 Z" fill="#4a4a4a" opacity="0.4"/><ellipse cx="165" cy="1052" rx="6" ry="16" transform="rotate(15 165 1052)" fill="#555" opacity="0.6"/></svg><rect x="44.9" y="1088.1" width="84.5" height="9.3" fill="#fff"/><text x="56.6" y="1077.7" font-family="'Liberation Serif', serif" font-size="31" font-weight="bold" fill="#fff" text-anchor="start" ><tspan>1μm</tspan></text><rect x="511.1" y="815.4" width="419.2" height="294.2" filter="url(#semi)"/><rect x="528.9" y="1088.1" width="56.1" height="9.9" fill="#fff"/><text x="517.3" y="1078.9" font-family="'Liberation Serif', serif" font-size="29.6" font-weight="bold" fill="#fff" text-anchor="start" ><tspan>200 nm</tspan></text><text x="21.0" y="800.0" font-family="'Liberation Serif', serif" font-size="38" font-weight="bold" fill="#000" text-anchor="start" ><tspan>(h)</tspan></text><text x="476.0" y="808.0" font-family="'Liberation Serif', serif" font-size="38" font-weight="bold" fill="#000" text-anchor="start" ><tspan>(i)</tspan></text><defs><radialGradient id="g_k" cx="0.35" cy="0.32" r="0.7"><stop offset="0" stop-color="#e8e8e8"/><stop offset="0.18" stop-color="#555"/><stop offset="0.5" stop-color="#111"/><stop offset="1" stop-color="#000"/></radialGradient></defs><path d="M1060.5,1088.7 L1066.8,1079.9 L1077.4,1073.6 L1082.4,1069.8 L1088.7,1067.3 L1096.3,1062.2 L1106.4,1058.5 L1113.9,1055.9 L1119.0,1053.4 L1136.6,1047.1 L1151.7,1039.6 L1166.9,1033.3 L1182.0,1025.7 L1197.1,1018.1 L1214.8,1008.0 L1229.9,998.0 L1245.0,986.6 L1259.6,973.5 L1275.3,955.1 L1291.6,934.2 L1306.8,908.5 L1314.3,894.6 L1323.2,879.5 L1330.2,868.6 L1340.8,861.1 L1349.6,858.0 L1355.9,855.0 L1363.5,851.8 L1367.3,844.2" stroke="#000" stroke-width="3" fill="none" stroke-linejoin="round" stroke-linecap="round" /><path d="M1367.3,844.2 L1359.7,850.5 L1350.9,853.0 L1340.8,855.0 L1330.7,857.6 L1318.1,859.3 L1309.3,860.6 L1305.5,862.3 L1291.6,872.7 L1275.3,903.9 L1259.6,935.7 L1245.0,956.9 L1228.6,976.0 L1212.2,991.7 L1197.1,1008.0 L1181.5,1020.7 L1166.9,1027.0 L1151.7,1034.0 L1136.6,1041.6 L1119.0,1048.4 L1097.5,1059.7 L1088.7,1064.3 L1077.4,1071.0 L1066.8,1077.4 L1060.5,1086.2" stroke="#000" stroke-width="3" fill="none" stroke-linejoin="round" stroke-linecap="round" /><circle cx="1367.3" cy="844.2" r="5.2" fill="url(#g_k)" stroke="#000" stroke-width="0.6"/><circle cx="1363.5" cy="851.8" r="5.2" fill="url(#g_k)" stroke="#000" stroke-width="0.6"/><circle cx="1355.9" cy="855.0" r="5.2" fill="url(#g_k)" stroke="#000" stroke-width="0.6"/><circle cx="1349.6" cy="858.0" r="5.2" fill="url(#g_k)" stroke="#000" stroke-width="0.6"/><circle cx="1340.8" cy="861.1" r="5.2" fill="url(#g_k)" stroke="#000" stroke-width="0.6"/><circle cx="1330.2" cy="868.6" r="5.2" fill="url(#g_k)" stroke="#000" stroke-width="0.6"/><circle cx="1323.2" cy="879.5" r="5.2" fill="url(#g_k)" stroke="#000" stroke-width="0.6"/><circle cx="1314.3" cy="894.6" r="5.2" fill="url(#g_k)" stroke="#000" stroke-width="0.6"/><circle cx="1306.8" cy="908.5" r="5.2" fill="url(#g_k)" stroke="#000" stroke-width="0.6"/><circle cx="1291.6" cy="934.2" r="5.2" fill="url(#g_k)" stroke="#000" stroke-width="0.6"/><circle cx="1275.3" cy="955.1" r="5.2" fill="url(#g_k)" stroke="#000" stroke-width="0.6"/><circle cx="1259.6" cy="973.5" r="5.2" fill="url(#g_k)" stroke="#000" stroke-width="0.6"/><circle cx="1245.0" cy="986.6" r="5.2" fill="url(#g_k)" stroke="#000" stroke-width="0.6"/><circle cx="1229.9" cy="998.0" r="5.2" fill="url(#g_k)" stroke="#000" stroke-width="0.6"/><circle cx="1214.8" cy="1008.0" r="5.2" fill="url(#g_k)" stroke="#000" stroke-width="0.6"/><circle cx="1197.1" cy="1018.1" r="5.2" fill="url(#g_k)" stroke="#000" stroke-width="0.6"/><circle cx="1182.0" cy="1025.7" r="5.2" fill="url(#g_k)" stroke="#000" stroke-width="0.6"/><circle cx="1166.9" cy="1033.3" r="5.2" fill="url(#g_k)" stroke="#000" stroke-width="0.6"/><circle cx="1151.7" cy="1039.6" r="5.2" fill="url(#g_k)" stroke="#000" stroke-width="0.6"/><circle cx="1136.6" cy="1047.1" r="5.2" fill="url(#g_k)" stroke="#000" stroke-width="0.6"/><circle cx="1119.0" cy="1053.4" r="5.2" fill="url(#g_k)" stroke="#000" stroke-width="0.6"/><circle cx="1113.9" cy="1055.9" r="5.2" fill="url(#g_k)" stroke="#000" stroke-width="0.6"/><circle cx="1106.4" cy="1058.5" r="5.2" fill="url(#g_k)" stroke="#000" stroke-width="0.6"/><circle cx="1096.3" cy="1062.2" r="5.2" fill="url(#g_k)" stroke="#000" stroke-width="0.6"/><circle cx="1088.7" cy="1067.3" r="5.2" fill="url(#g_k)" stroke="#000" stroke-width="0.6"/><circle cx="1082.4" cy="1069.8" r="5.2" fill="url(#g_k)" stroke="#000" stroke-width="0.6"/><circle cx="1077.4" cy="1073.6" r="5.2" fill="url(#g_k)" stroke="#000" stroke-width="0.6"/><circle cx="1066.8" cy="1079.9" r="5.2" fill="url(#g_k)" stroke="#000" stroke-width="0.6"/><circle cx="1060.5" cy="1088.7" r="5.2" fill="url(#g_k)" stroke="#000" stroke-width="0.6"/><circle cx="1367.3" cy="844.2" r="5.2" fill="url(#g_k)" stroke="#000" stroke-width="0.6"/><circle cx="1359.7" cy="850.5" r="5.2" fill="url(#g_k)" stroke="#000" stroke-width="0.6"/><circle cx="1350.9" cy="853.0" r="5.2" fill="url(#g_k)" stroke="#000" stroke-width="0.6"/><circle cx="1340.8" cy="855.0" r="5.2" fill="url(#g_k)" stroke="#000" stroke-width="0.6"/><circle cx="1330.7" cy="857.6" r="5.2" fill="url(#g_k)" stroke="#000" stroke-width="0.6"/><circle cx="1318.1" cy="859.3" r="5.2" fill="url(#g_k)" stroke="#000" stroke-width="0.6"/><circle cx="1309.3" cy="860.6" r="5.2" fill="url(#g_k)" stroke="#000" stroke-width="0.6"/><circle cx="1305.5" cy="862.3" r="5.2" fill="url(#g_k)" stroke="#000" stroke-width="0.6"/><circle cx="1291.6" cy="872.7" r="5.2" fill="url(#g_k)" stroke="#000" stroke-width="0.6"/><circle cx="1275.3" cy="903.9" r="5.2" fill="url(#g_k)" stroke="#000" stroke-width="0.6"/><circle cx="1259.6" cy="935.7" r="5.2" fill="url(#g_k)" stroke="#000" stroke-width="0.6"/><circle cx="1245.0" cy="956.9" r="5.2" fill="url(#g_k)" stroke="#000" stroke-width="0.6"/><circle cx="1228.6" cy="976.0" r="5.2" fill="url(#g_k)" stroke="#000" stroke-width="0.6"/><circle cx="1212.2" cy="991.7" r="5.2" fill="url(#g_k)" stroke="#000" stroke-width="0.6"/><circle cx="1197.1" cy="1008.0" r="5.2" fill="url(#g_k)" stroke="#000" stroke-width="0.6"/><circle cx="1181.5" cy="1020.7" r="5.2" fill="url(#g_k)" stroke="#000" stroke-width="0.6"/><circle cx="1166.9" cy="1027.0" r="5.2" fill="url(#g_k)" stroke="#000" stroke-width="0.6"/><circle cx="1151.7" cy="1034.0" r="5.2" fill="url(#g_k)" stroke="#000" stroke-width="0.6"/><circle cx="1136.6" cy="1041.6" r="5.2" fill="url(#g_k)" stroke="#000" stroke-width="0.6"/><circle cx="1119.0" cy="1048.4" r="5.2" fill="url(#g_k)" stroke="#000" stroke-width="0.6"/><circle cx="1097.5" cy="1059.7" r="5.2" fill="url(#g_k)" stroke="#000" stroke-width="0.6"/><circle cx="1088.7" cy="1064.3" r="5.2" fill="url(#g_k)" stroke="#000" stroke-width="0.6"/><circle cx="1077.4" cy="1071.0" r="5.2" fill="url(#g_k)" stroke="#000" stroke-width="0.6"/><circle cx="1066.8" cy="1077.4" r="5.2" fill="url(#g_k)" stroke="#000" stroke-width="0.6"/><circle cx="1060.5" cy="1086.2" r="5.2" fill="url(#g_k)" stroke="#000" stroke-width="0.6"/><rect x="1026.3" y="818.7" width="374.4000000000001" height="288.5999999999999" fill="none" stroke="#000" stroke-width="3.6"/><line x1="1024.5" y1="1106.4" x2="1019.5" y2="1106.4" stroke="#000" stroke-width="2.5"/><line x1="1024.5" y1="1062.1" x2="1019.5" y2="1062.1" stroke="#000" stroke-width="2.5"/><line x1="1024.5" y1="1017.7" x2="1019.5" y2="1017.7" stroke="#000" stroke-width="2.5"/><line x1="1024.5" y1="973.4" x2="1019.5" y2="973.4" stroke="#000" stroke-width="2.5"/><line x1="1024.5" y1="929.0" x2="1019.5" y2="929.0" stroke="#000" stroke-width="2.5"/><line x1="1024.5" y1="884.7" x2="1019.5" y2="884.7" stroke="#000" stroke-width="2.5"/><line x1="1024.5" y1="840.4" x2="1019.5" y2="840.4" stroke="#000" stroke-width="2.5"/><line x1="1024.5" y1="1084.2" x2="1021.5" y2="1084.2" stroke="#000" stroke-width="2"/><line x1="1024.5" y1="1039.9" x2="1021.5" y2="1039.9" stroke="#000" stroke-width="2"/><line x1="1024.5" y1="995.6" x2="1021.5" y2="995.6" stroke="#000" stroke-width="2"/><line x1="1024.5" y1="951.2" x2="1021.5" y2="951.2" stroke="#000" stroke-width="2"/><line x1="1024.5" y1="906.9" x2="1021.5" y2="906.9" stroke="#000" stroke-width="2"/><line x1="1024.5" y1="862.5" x2="1021.5" y2="862.5" stroke="#000" stroke-width="2"/><line x1="1024.5" y1="818.2" x2="1021.5" y2="818.2" stroke="#000" stroke-width="2"/><line x1="1057.2" y1="1109" x2="1057.2" y2="1114" stroke="#000" stroke-width="2.5"/><line x1="1119.5" y1="1109" x2="1119.5" y2="1114" stroke="#000" stroke-width="2.5"/><line x1="1181.8" y1="1109" x2="1181.8" y2="1114" stroke="#000" stroke-width="2.5"/><line x1="1244.1" y1="1109" x2="1244.1" y2="1114" stroke="#000" stroke-width="2.5"/><line x1="1306.4" y1="1109" x2="1306.4" y2="1114" stroke="#000" stroke-width="2.5"/><line x1="1368.7" y1="1109" x2="1368.7" y2="1114" stroke="#000" stroke-width="2.5"/><line x1="1026.0" y1="1109" x2="1026.0" y2="1112" stroke="#000" stroke-width="2"/><line x1="1088.4" y1="1109" x2="1088.4" y2="1112" stroke="#000" stroke-width="2"/><line x1="1150.7" y1="1109" x2="1150.7" y2="1112" stroke="#000" stroke-width="2"/><line x1="1213.0" y1="1109" x2="1213.0" y2="1112" stroke="#000" stroke-width="2"/><line x1="1275.2" y1="1109" x2="1275.2" y2="1112" stroke="#000" stroke-width="2"/><line x1="1337.6" y1="1109" x2="1337.6" y2="1112" stroke="#000" stroke-width="2"/><line x1="1399.9" y1="1109" x2="1399.9" y2="1112" stroke="#000" stroke-width="2"/><text x="1017.0" y="1113.4" font-family="'Liberation Serif', serif" font-size="20.5" font-weight="bold" fill="#000" text-anchor="end" textLength="23.5" lengthAdjust="spacingAndGlyphs"><tspan>20</tspan></text><text x="1017.0" y="1069.1" font-family="'Liberation Serif', serif" font-size="20.5" font-weight="bold" fill="#000" text-anchor="end" textLength="23.5" lengthAdjust="spacingAndGlyphs"><tspan>40</tspan></text><text x="1017.0" y="1024.7" font-family="'Liberation Serif', serif" font-size="20.5" font-weight="bold" fill="#000" text-anchor="end" textLength="23.5" lengthAdjust="spacingAndGlyphs"><tspan>60</tspan></text><text x="1017.0" y="980.4" font-family="'Liberation Serif', serif" font-size="20.5" font-weight="bold" fill="#000" text-anchor="end" textLength="23.5" lengthAdjust="spacingAndGlyphs"><tspan>80</tspan></text><text x="1017.0" y="936.0" font-family="'Liberation Serif', serif" font-size="20.5" font-weight="bold" fill="#000" text-anchor="end" textLength="35.3" lengthAdjust="spacingAndGlyphs"><tspan>100</tspan></text><text x="1017.0" y="891.7" font-family="'Liberation Serif', serif" font-size="20.5" font-weight="bold" fill="#000" text-anchor="end" textLength="35.3" lengthAdjust="spacingAndGlyphs"><tspan>120</tspan></text><text x="1017.0" y="847.4" font-family="'Liberation Serif', serif" font-size="20.5" font-weight="bold" fill="#000" text-anchor="end" textLength="35.3" lengthAdjust="spacingAndGlyphs"><tspan>140</tspan></text><text x="1057.2" y="1133.0" font-family="'Liberation Serif', serif" font-size="20.5" font-weight="bold" fill="#000" text-anchor="middle" textLength="29.5" lengthAdjust="spacingAndGlyphs"><tspan>0.0</tspan></text><text x="1119.5" y="1133.0" font-family="'Liberation Serif', serif" font-size="20.5" font-weight="bold" fill="#000" text-anchor="middle" textLength="29.5" lengthAdjust="spacingAndGlyphs"><tspan>0.2</tspan></text><text x="1181.8" y="1133.0" font-family="'Liberation Serif', serif" font-size="20.5" font-weight="bold" fill="#000" text-anchor="middle" textLength="29.5" lengthAdjust="spacingAndGlyphs"><tspan>0.4</tspan></text><text x="1244.1" y="1133.0" font-family="'Liberation Serif', serif" font-size="20.5" font-weight="bold" fill="#000" text-anchor="middle" textLength="29.5" lengthAdjust="spacingAndGlyphs"><tspan>0.6</tspan></text><text x="1306.4" y="1133.0" font-family="'Liberation Serif', serif" font-size="20.5" font-weight="bold" fill="#000" text-anchor="middle" textLength="29.5" lengthAdjust="spacingAndGlyphs"><tspan>0.8</tspan></text><text x="1368.7" y="1133.0" font-family="'Liberation Serif', serif" font-size="20.5" font-weight="bold" fill="#000" text-anchor="middle" textLength="29.5" lengthAdjust="spacingAndGlyphs"><tspan>1.0</tspan></text><text x="1201.0" y="1171.0" font-family="'Liberation Serif', serif" font-size="30.5" font-weight="bold" fill="#000" text-anchor="middle" ><tspan>p/po</tspan></text><text x="966.0" y="953.8" font-family="'Liberation Serif', serif" font-size="22" font-weight="bold" fill="#000" text-anchor="middle" transform="rotate(-90 966 953.8)"><tspan>Va (cm</tspan><tspan font-size="15.0" dy="-9.24">3</tspan><tspan dy="9.24"> (STP) g</tspan><tspan font-size="15.0" dy="-9.24">-1</tspan><tspan dy="9.24">)</tspan></text><text x="951.0" y="816.0" font-family="'Liberation Serif', serif" font-size="38" font-weight="bold" fill="#000" text-anchor="start" ><tspan>(j)</tspan></text><path d="M1531.8,1059.4 L1543.3,1065.8 L1550.9,1049.3 L1554.7,1042.9 L1558.5,1035.3 L1562.3,1028.9 L1565.4,1015.7 L1568.7,1006.6 L1571.2,1002.3 L1577.1,997.2 L1584.0,986.2 L1590.3,981.2 L1596.7,966.7 L1603.0,959.5 L1610.1,940.5 L1617.8,913.3 L1624.6,898.8 L1632.3,875.2 L1641.2,863.2 L1651.8,849.7 L1664.5,844.7 L1674.2,850.5 L1683.1,896.8 L1692.5,948.1 L1707.7,1034.5 L1723.8,1065.8 L1742.3,1069.6 L1772.8,1070.9 L1795.7,1068.3 L1852.9,1070.1 L1883.9,1077.2" stroke="#000" stroke-width="3" fill="none" stroke-linejoin="round" stroke-linecap="round" /><circle cx="1531.8" cy="1059.4" r="5.2" fill="url(#g_k)" stroke="#000" stroke-width="0.6"/><circle cx="1543.3" cy="1065.8" r="5.2" fill="url(#g_k)" stroke="#000" stroke-width="0.6"/><circle cx="1550.9" cy="1049.3" r="5.2" fill="url(#g_k)" stroke="#000" stroke-width="0.6"/><circle cx="1554.7" cy="1042.9" r="5.2" fill="url(#g_k)" stroke="#000" stroke-width="0.6"/><circle cx="1558.5" cy="1035.3" r="5.2" fill="url(#g_k)" stroke="#000" stroke-width="0.6"/><circle cx="1562.3" cy="1028.9" r="5.2" fill="url(#g_k)" stroke="#000" stroke-width="0.6"/><circle cx="1565.4" cy="1015.7" r="5.2" fill="url(#g_k)" stroke="#000" stroke-width="0.6"/><circle cx="1568.7" cy="1006.6" r="5.2" fill="url(#g_k)" stroke="#000" stroke-width="0.6"/><circle cx="1571.2" cy="1002.3" r="5.2" fill="url(#g_k)" stroke="#000" stroke-width="0.6"/><circle cx="1577.1" cy="997.2" r="5.2" fill="url(#g_k)" stroke="#000" stroke-width="0.6"/><circle cx="1584.0" cy="986.2" r="5.2" fill="url(#g_k)" stroke="#000" stroke-width="0.6"/><circle cx="1590.3" cy="981.2" r="5.2" fill="url(#g_k)" stroke="#000" stroke-width="0.6"/><circle cx="1596.7" cy="966.7" r="5.2" fill="url(#g_k)" stroke="#000" stroke-width="0.6"/><circle cx="1603.0" cy="959.5" r="5.2" fill="url(#g_k)" stroke="#000" stroke-width="0.6"/><circle cx="1610.1" cy="940.5" r="5.2" fill="url(#g_k)" stroke="#000" stroke-width="0.6"/><circle cx="1617.8" cy="913.3" r="5.2" fill="url(#g_k)" stroke="#000" stroke-width="0.6"/><circle cx="1624.6" cy="898.8" r="5.2" fill="url(#g_k)" stroke="#000" stroke-width="0.6"/><circle cx="1632.3" cy="875.2" r="5.2" fill="url(#g_k)" stroke="#000" stroke-width="0.6"/><circle cx="1641.2" cy="863.2" r="5.2" fill="url(#g_k)" stroke="#000" stroke-width="0.6"/><circle cx="1651.8" cy="849.7" r="5.2" fill="url(#g_k)" stroke="#000" stroke-width="0.6"/><circle cx="1664.5" cy="844.7" r="5.2" fill="url(#g_k)" stroke="#000" stroke-width="0.6"/><circle cx="1674.2" cy="850.5" r="5.2" fill="url(#g_k)" stroke="#000" stroke-width="0.6"/><circle cx="1683.1" cy="896.8" r="5.2" fill="url(#g_k)" stroke="#000" stroke-width="0.6"/><circle cx="1692.5" cy="948.1" r="5.2" fill="url(#g_k)" stroke="#000" stroke-width="0.6"/><circle cx="1707.7" cy="1034.5" r="5.2" fill="url(#g_k)" stroke="#000" stroke-width="0.6"/><circle cx="1723.8" cy="1065.8" r="5.2" fill="url(#g_k)" stroke="#000" stroke-width="0.6"/><circle cx="1742.3" cy="1069.6" r="5.2" fill="url(#g_k)" stroke="#000" stroke-width="0.6"/><circle cx="1772.8" cy="1070.9" r="5.2" fill="url(#g_k)" stroke="#000" stroke-width="0.6"/><circle cx="1795.7" cy="1068.3" r="5.2" fill="url(#g_k)" stroke="#000" stroke-width="0.6"/><circle cx="1852.9" cy="1070.1" r="5.2" fill="url(#g_k)" stroke="#000" stroke-width="0.6"/><circle cx="1883.9" cy="1077.2" r="5.2" fill="url(#g_k)" stroke="#000" stroke-width="0.6"/><rect x="1523.4" y="816.3" width="362.5999999999999" height="283.70000000000005" fill="none" stroke="#000" stroke-width="3.6"/><line x1="1521.5" y1="1079.3" x2="1516.5" y2="1079.3" stroke="#000" stroke-width="2.5"/><line x1="1521.5" y1="1035.5" x2="1516.5" y2="1035.5" stroke="#000" stroke-width="2.5"/><line x1="1521.5" y1="991.6" x2="1516.5" y2="991.6" stroke="#000" stroke-width="2.5"/><line x1="1521.5" y1="947.8" x2="1516.5" y2="947.8" stroke="#000" stroke-width="2.5"/><line x1="1521.5" y1="903.9" x2="1516.5" y2="903.9" stroke="#000" stroke-width="2.5"/><line x1="1521.5" y1="860.0" x2="1516.5" y2="860.0" stroke="#000" stroke-width="2.5"/><line x1="1521.5" y1="816.2" x2="1516.5" y2="816.2" stroke="#000" stroke-width="2.5"/><line x1="1521.5" y1="1057.4" x2="1518.5" y2="1057.4" stroke="#000" stroke-width="2"/><line x1="1521.5" y1="1013.5" x2="1518.5" y2="1013.5" stroke="#000" stroke-width="2"/><line x1="1521.5" y1="969.7" x2="1518.5" y2="969.7" stroke="#000" stroke-width="2"/><line x1="1521.5" y1="925.8" x2="1518.5" y2="925.8" stroke="#000" stroke-width="2"/><line x1="1521.5" y1="882.0" x2="1518.5" y2="882.0" stroke="#000" stroke-width="2"/><line x1="1521.5" y1="838.1" x2="1518.5" y2="838.1" stroke="#000" stroke-width="2"/><line x1="1521.5" y1="1090.3" x2="1518.5" y2="1090.3" stroke="#000" stroke-width="2"/><line x1="1529.8" y1="1102" x2="1529.8" y2="1107" stroke="#000" stroke-width="2.5"/><line x1="1666.2" y1="1102" x2="1666.2" y2="1107" stroke="#000" stroke-width="2.5"/><line x1="1802.6" y1="1102" x2="1802.6" y2="1107" stroke="#000" stroke-width="2.5"/><line x1="1570.9" y1="1102" x2="1570.9" y2="1105" stroke="#000" stroke-width="2"/><line x1="1594.9" y1="1102" x2="1594.9" y2="1105" stroke="#000" stroke-width="2"/><line x1="1611.9" y1="1102" x2="1611.9" y2="1105" stroke="#000" stroke-width="2"/><line x1="1625.1" y1="1102" x2="1625.1" y2="1105" stroke="#000" stroke-width="2"/><line x1="1635.9" y1="1102" x2="1635.9" y2="1105" stroke="#000" stroke-width="2"/><line x1="1645.1" y1="1102" x2="1645.1" y2="1105" stroke="#000" stroke-width="2"/><line x1="1653.0" y1="1102" x2="1653.0" y2="1105" stroke="#000" stroke-width="2"/><line x1="1660.0" y1="1102" x2="1660.0" y2="1105" stroke="#000" stroke-width="2"/><line x1="1707.3" y1="1102" x2="1707.3" y2="1105" stroke="#000" stroke-width="2"/><line x1="1731.3" y1="1102" x2="1731.3" y2="1105" stroke="#000" stroke-width="2"/><line x1="1748.3" y1="1102" x2="1748.3" y2="1105" stroke="#000" stroke-width="2"/><line x1="1761.5" y1="1102" x2="1761.5" y2="1105" stroke="#000" stroke-width="2"/><line x1="1772.3" y1="1102" x2="1772.3" y2="1105" stroke="#000" stroke-width="2"/><line x1="1781.5" y1="1102" x2="1781.5" y2="1105" stroke="#000" stroke-width="2"/><line x1="1789.4" y1="1102" x2="1789.4" y2="1105" stroke="#000" stroke-width="2"/><line x1="1796.4" y1="1102" x2="1796.4" y2="1105" stroke="#000" stroke-width="2"/><line x1="1843.7" y1="1102" x2="1843.7" y2="1105" stroke="#000" stroke-width="2"/><line x1="1867.7" y1="1102" x2="1867.7" y2="1105" stroke="#000" stroke-width="2"/><line x1="1884.7" y1="1102" x2="1884.7" y2="1105" stroke="#000" stroke-width="2"/><text x="1516.6" y="1086.3" font-family="'Liberation Serif', serif" font-size="20.5" font-weight="bold" fill="#000" text-anchor="end" textLength="41.2" lengthAdjust="spacingAndGlyphs"><tspan>0.00</tspan></text><text x="1516.6" y="1042.5" font-family="'Liberation Serif', serif" font-size="20.5" font-weight="bold" fill="#000" text-anchor="end" textLength="41.2" lengthAdjust="spacingAndGlyphs"><tspan>0.05</tspan></text><text x="1516.6" y="998.6" font-family="'Liberation Serif', serif" font-size="20.5" font-weight="bold" fill="#000" text-anchor="end" textLength="41.2" lengthAdjust="spacingAndGlyphs"><tspan>0.10</tspan></text><text x="1516.6" y="954.8" font-family="'Liberation Serif', serif" font-size="20.5" font-weight="bold" fill="#000" text-anchor="end" textLength="41.2" lengthAdjust="spacingAndGlyphs"><tspan>0.15</tspan></text><text x="1516.6" y="910.9" font-family="'Liberation Serif', serif" font-size="20.5" font-weight="bold" fill="#000" text-anchor="end" textLength="41.2" lengthAdjust="spacingAndGlyphs"><tspan>0.20</tspan></text><text x="1516.6" y="867.0" font-family="'Liberation Serif', serif" font-size="20.5" font-weight="bold" fill="#000" text-anchor="end" textLength="41.2" lengthAdjust="spacingAndGlyphs"><tspan>0.25</tspan></text><text x="1516.6" y="823.2" font-family="'Liberation Serif', serif" font-size="20.5" font-weight="bold" fill="#000" text-anchor="end" textLength="41.2" lengthAdjust="spacingAndGlyphs"><tspan>0.30</tspan></text><text x="1529.8" y="1127.0" font-family="'Liberation Serif', serif" font-size="20.5" font-weight="bold" fill="#000" text-anchor="middle" textLength="7.6" lengthAdjust="spacingAndGlyphs"><tspan>1</tspan></text><text x="1666.2" y="1127.0" font-family="'Liberation Serif', serif" font-size="20.5" font-weight="bold" fill="#000" text-anchor="middle" textLength="20.3" lengthAdjust="spacingAndGlyphs"><tspan>10</tspan></text><text x="1802.6" y="1127.0" font-family="'Liberation Serif', serif" font-size="20.5" font-weight="bold" fill="#000" text-anchor="middle" textLength="33.1" lengthAdjust="spacingAndGlyphs"><tspan>100</tspan></text><text x="1716.8" y="1158.6" font-family="'Liberation Serif', serif" font-size="25" font-weight="bold" fill="#000" text-anchor="middle" textLength="225" lengthAdjust="spacingAndGlyphs"><tspan>Pore diameter (nm)</tspan></text><text x="1456.0" y="950.8" font-family="'Liberation Serif', serif" font-size="25" font-weight="bold" fill="#000" text-anchor="middle" transform="rotate(-90 1456 950.8)"><tspan>Pore volume (cm</tspan><tspan font-size="17.0" dy="-10.50">3</tspan><tspan dy="10.50"> g</tspan><tspan font-size="17.0" dy="-10.50">-1</tspan><tspan dy="10.50">)</tspan></text><text x="1421.0" y="819.0" font-family="'Liberation Serif', serif" font-size="38" font-weight="bold" fill="#000" text-anchor="start" ><tspan>(k)</tspan></text><defs><filter id="edsl" x="0" y="0" width="1" height="1" color-interpolation-filters="sRGB">
 <feGaussianBlur in="SourceGraphic" stdDeviation="9" result="m"/>
 <feTurbulence type="fractalNoise" baseFrequency="0.34" numOctaves="2" seed="3" result="n"/>
 <feColorMatrix in="n" type="matrix" values="0 0 0 0 0  0 0 0 0 0  0 0 0 0 0  1 0 0 0 0" result="na"/>
 <feComposite in="m" in2="na" operator="arithmetic" k1="0" k2="0.540" k3="2.500" k4="-1.490" result="c"/>
 <feFlood flood-color="#ec1e22" result="f"/>
 <feComposite in="f" in2="c" operator="in"/>
</filter><filter id="edsm" x="0" y="0" width="1" height="1" color-interpolation-filters="sRGB">
 <feGaussianBlur in="SourceGraphic" stdDeviation="6" result="m"/>
 <feTurbulence type="fractalNoise" baseFrequency="0.32" numOctaves="2" seed="5" result="n"/>
 <feColorMatrix in="n" type="matrix" values="0 0 0 0 0  0 0 0 0 0  0 0 0 0 0  1 0 0 0 0" result="na"/>
 <feComposite in="m" in2="na" operator="arithmetic" k1="0" k2="0.530" k3="2.200" k4="-1.320" result="c"/>
 <feFlood flood-color="#2cc6cc" result="f"/>
 <feComposite in="f" in2="c" operator="in"/>
</filter><filter id="edsn" x="0" y="0" width="1" height="1" color-interpolation-filters="sRGB">
 <feGaussianBlur in="SourceGraphic" stdDeviation="4" result="m"/>
 <feTurbulence type="fractalNoise" baseFrequency="0.28" numOctaves="2" seed="7" result="n"/>
 <feColorMatrix in="n" type="matrix" values="0 0 0 0 0  0 0 0 0 0  0 0 0 0 0  1 0 0 0 0" result="na"/>
 <feComposite in="m" in2="na" operator="arithmetic" k1="0" k2="0.840" k3="1.900" k4="-1.270" result="c"/>
 <feFlood flood-color="#f08424" result="f"/>
 <feComposite in="f" in2="c" operator="in"/>
</filter><filter id="edso" x="0" y="0" width="1" height="1" color-interpolation-filters="sRGB">
 <feGaussianBlur in="SourceGraphic" stdDeviation="9" result="m"/>
 <feTurbulence type="fractalNoise" baseFrequency="0.28" numOctaves="2" seed="9" result="n"/>
 <feColorMatrix in="n" type="matrix" values="0 0 0 0 0  0 0 0 0 0  0 0 0 0 0  1 0 0 0 0" result="na"/>
 <feComposite in="m" in2="na" operator="arithmetic" k1="0" k2="0.900" k3="1.600" k4="-0.940" result="c"/>
 <feFlood flood-color="#3ccc46" result="f"/>
 <feComposite in="f" in2="c" operator="in"/>
</filter></defs><svg x="52.3" y="1209.6" width="421.1" height="330.4" viewBox="52.3 1209.6 421.1 330.4" overflow="hidden"><rect x="52.3" y="1209.6" width="421.1" height="330.4" fill="#070000"/><g filter="url(#edsl)"><rect x="32.3" y="1189.6" width="461.1" height="370.4" fill="none"/><path d="M154.7,1209.6 L154.7,1314 L120.4,1382.8 L72.4,1428.5 L40,1440 L40,1555 L330.6,1555 L353.4,1501.6 L387.7,1462.7 L422,1405.6 L473.4,1360 L490,1350 L490,1195 L154.7,1195 Z" fill="#fff"/></g></svg><svg x="516" y="1210" width="436.3" height="330.5" viewBox="516 1210 436.3 330.5" overflow="hidden"><rect x="516" y="1210" width="436.3" height="330.5" fill="#000a0c"/><g filter="url(#edsm)"><rect x="496" y="1190" width="476.3" height="370.5" fill="none"/><path d="M636.4,1195 L636.4,1210 L634,1271.7 L605.4,1324.3 L583.9,1391.2 L540.8,1429.4 L505,1442 L505,1555 L808.5,1555 L839.5,1486.7 L875.4,1448.5 L911.2,1407.9 L952.3,1362.5 L965,1355 L965,1195 Z" fill="#fff"/></g></svg><svg x="1006.1" y="1209.2" width="418.3" height="330.5" viewBox="1006.1 1209.2 418.3 330.5" overflow="hidden"><rect x="1006.1" y="1209.2" width="418.3" height="330.5" fill="#050200"/><g filter="url(#edsn)"><rect x="986.1" y="1189.2" width="458.3" height="370.5" fill="none"/><path d="M1124.4,1195 L1124.4,1209.2 L1122.1,1269.3 L1092.1,1334 L1064.3,1389.5 L1022.7,1431.1 L995,1455 L995,1555 L1279.3,1555 L1318.5,1488.9 L1355.5,1442.7 L1387.9,1396.4 L1424.4,1361.8 L1440,1350 L1440,1195 Z" fill="#fff"/></g></svg><svg x="1476.5" y="1209.2" width="400.8" height="328.6" viewBox="1476.5 1209.2 400.8 328.6" overflow="hidden"><rect x="1476.5" y="1209.2" width="400.8" height="328.6" fill="#000c02"/><g filter="url(#edso)"><rect x="1456.5" y="1189.2" width="440.8" height="368.6" fill="none"/><path d="M1626.4,1195 L1626.4,1215 L1594.1,1246.1 L1580.3,1287.6 L1554.9,1333.7 L1520.3,1393.7 L1476.5,1435.2 L1460,1445 L1460,1555 L1739.4,1555 L1764.8,1488.2 L1799.3,1442.1 L1833.9,1384.5 L1877.3,1366 L1895,1360 L1895,1195 Z" fill="#fff"/></g></svg><text x="57.0" y="1250.0" font-family="'Liberation Serif', serif" font-size="38" font-weight="bold" fill="#fff" text-anchor="start" ><tspan>(l)</tspan></text><text x="69.0" y="1500.4" font-family="'Liberation Serif', serif" font-size="31" font-weight="bold" fill="#fff" text-anchor="start" ><tspan>1μm</tspan></text><rect x="63.3" y="1511.9" width="73.1" height="8" fill="#fff"/><text x="431.1" y="1524.4" font-family="'Liberation Serif', serif" font-size="45" font-weight="normal" fill="#fff" text-anchor="start" ><tspan>C</tspan></text><text x="535.0" y="1251.0" font-family="'Liberation Serif', serif" font-size="38" font-weight="bold" fill="#fff" text-anchor="start" ><tspan>(m)</tspan></text><text x="534.9" y="1497.5" font-family="'Liberation Serif', serif" font-size="31" font-weight="bold" fill="#fff" text-anchor="start" ><tspan>1μm</tspan></text><rect x="528.9" y="1509.4" width="74.1" height="7.2" fill="#fff"/><text x="906.4" y="1525.0" font-family="'Liberation Serif', serif" font-size="45" font-weight="normal" fill="#fff" text-anchor="start" ><tspan>F</tspan></text><text x="1019.4" y="1253.5" font-family="'Liberation Serif', serif" font-size="38" font-weight="bold" fill="#fff" text-anchor="start" ><tspan>(n)</tspan></text><text x="1023.9" y="1494.7" font-family="'Liberation Serif', serif" font-size="31" font-weight="bold" fill="#fff" text-anchor="start" ><tspan>1μm</tspan></text><rect x="1016.3" y="1515.2" width="73.5" height="8.1" fill="#fff"/><text x="1345.1" y="1525.9" font-family="'Liberation Serif', serif" font-size="45" font-weight="normal" fill="#fff" text-anchor="start" ><tspan>Mn</tspan></text><text x="1493.0" y="1252.0" font-family="'Liberation Serif', serif" font-size="38" font-weight="bold" fill="#fff" text-anchor="start" ><tspan>(o)</tspan></text><text x="1499.6" y="1490.5" font-family="'Liberation Serif', serif" font-size="31" font-weight="bold" fill="#fff" text-anchor="start" ><tspan>1μm</tspan></text><rect x="1493.8" y="1500.9" width="73.8" height="8.1" fill="#fff"/><text x="1830.5" y="1525.1" font-family="'Liberation Serif', serif" font-size="45" font-weight="normal" fill="#fff" text-anchor="start" ><tspan>O</tspan></text></svg></body></html>
